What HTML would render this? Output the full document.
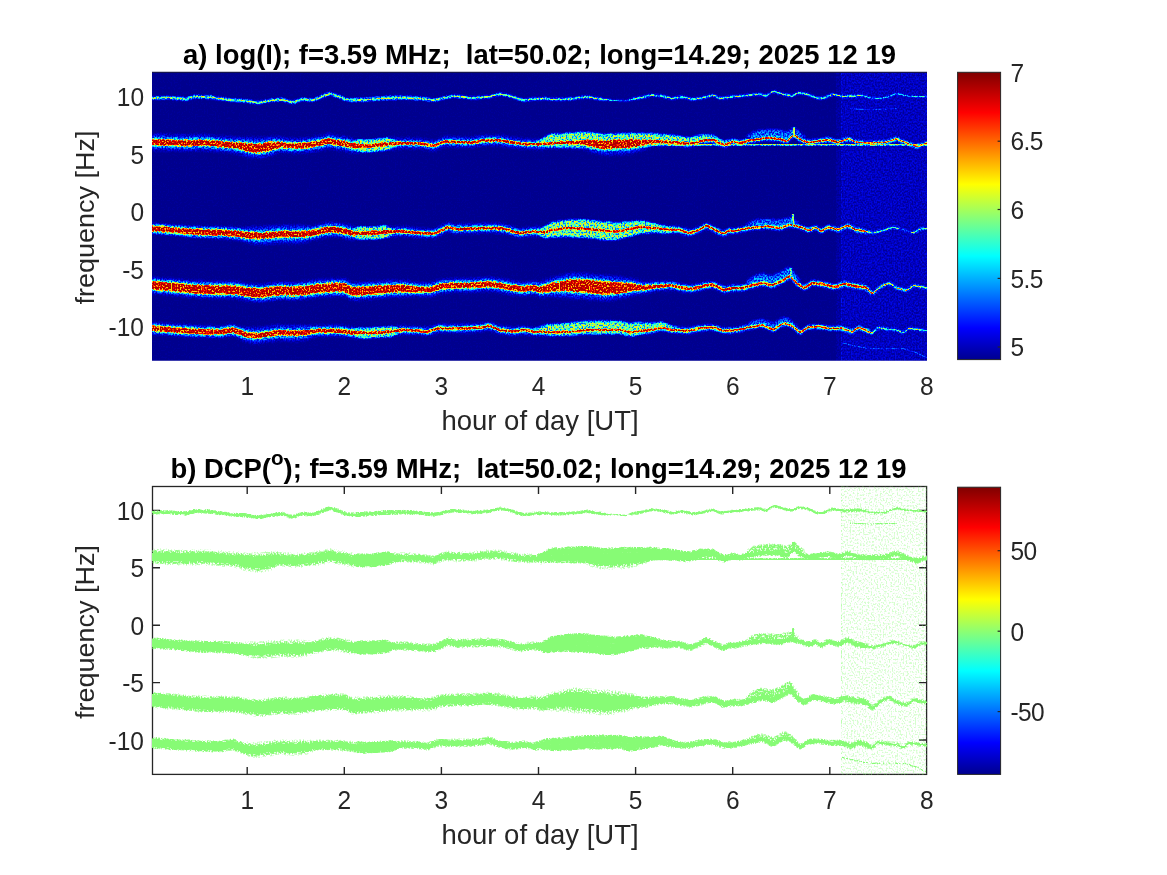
<!DOCTYPE html><html><head><meta charset="utf-8"><title>Doppler spectrogram</title>
<style>html,body{margin:0;padding:0;background:#fff;overflow:hidden}svg{display:block}text{font-family:"Liberation Sans",Arial,sans-serif}</style></head><body>
<svg width="1167" height="875" viewBox="0 0 1167 875">
<defs><linearGradient id="jet" x1="0" y1="1" x2="0" y2="0">
<stop offset="0" stop-color="#00008f"/>
<stop offset="0.11" stop-color="#0000ff"/>
<stop offset="0.36" stop-color="#00ffff"/>
<stop offset="0.61" stop-color="#ffff00"/>
<stop offset="0.86" stop-color="#ff0000"/>
<stop offset="1" stop-color="#800000"/>
</linearGradient></defs>
<rect width="1167" height="875" fill="#fff"/>
<rect x="152" y="72" width="775" height="288.5" fill="#00009a"/>
<defs>
<clipPath id="c1"><rect x="152" y="72" width="775" height="288.5"/></clipPath>
<filter id="ba" color-interpolation-filters="sRGB"><feGaussianBlur stdDeviation="1.5"/></filter>
<filter id="bb" color-interpolation-filters="sRGB"><feGaussianBlur stdDeviation="1.0"/></filter>
<filter id="bc" color-interpolation-filters="sRGB"><feGaussianBlur stdDeviation="0.65"/></filter>
<filter id="bd" color-interpolation-filters="sRGB"><feGaussianBlur stdDeviation="0.6"/></filter>
<filter id="jetf" filterUnits="userSpaceOnUse" x="152" y="72" width="775" height="288.5" color-interpolation-filters="sRGB"><feTurbulence type="fractalNoise" baseFrequency="0.66 0.56" numOctaves="1" seed="11" result="t"/><feColorMatrix in="t" type="matrix" values="3.4 0 0 0 -1.2  3.4 0 0 0 -1.2  3.4 0 0 0 -1.2  0 0 0 0 1" result="n"/><feComposite in="SourceGraphic" in2="n" operator="arithmetic" k1="1.15" k2="0.42500000000000004" k3="0.006" k4="-0.003" result="i"/><feComponentTransfer in="i"><feFuncR type="table" tableValues="0 0 0 0 0 0 0.025 0.215 0.391 0.553 0.703 0.841 0.968 1 1 1 1 1 1 1 1 1 1 1 1 1 1 0.961 0.926 0.893 0.863 0.835 0.809 0.785 0.763 0.743 0.725 0.707 0.691 0.677 0.663"/><feFuncG type="table" tableValues="0 0 0.091 0.353 0.595 0.819 1 1 1 1 1 1 1 0.914 0.805 0.705 0.612 0.527 0.448 0.375 0.308 0.245 0.188 0.135 0.086 0.041 0 0 0 0 0 0 0 0 0 0 0 0 0 0 0"/><feFuncB type="table" tableValues="0.56 0.808 1 1 1 1 0.975 0.785 0.609 0.447 0.297 0.159 0.032 0 0 0 0 0 0 0 0 0 0 0 0 0 0 0 0 0 0 0 0 0 0 0 0 0 0 0 0"/><feFuncA type="linear" slope="0" intercept="1"/></feComponentTransfer></filter>
<filter id="dcpf" filterUnits="userSpaceOnUse" x="152" y="72" width="775" height="288.5" color-interpolation-filters="sRGB"><feTurbulence type="fractalNoise" baseFrequency="0.66 0.56" numOctaves="1" seed="23" result="t"/><feColorMatrix in="t" type="matrix" values="3.4 0 0 0 -1.2  3.4 0 0 0 -1.2  3.4 0 0 0 -1.2  0 0 0 0 1" result="n"/><feComposite in="SourceGraphic" in2="n" operator="arithmetic" k1="1.15" k2="0.42500000000000004" k3="0.006" k4="-0.003" result="i"/><feColorMatrix in="i" type="matrix" values="0 0 0 0 .53  0 0 0 0 .985  0 0 0 0 .46  1 0 0 0 0" result="j"/><feComponentTransfer in="j"><feFuncA type="table" tableValues=".00 .00 .00 .00 .00 .11 .24 .35 .45 .54 .63 .72 .80 .87 .95 1.00 1.00 1.00 1.00 1.00 1.00 1.00 1.00 1.00 1.00 1.00 1.00 1.00 1.00 1.00 1.00 1.00 1.00 1.00 1.00 1.00 1.00 1.00 1.00 1.00 1.00 1.00 1.00 1.00 1.00 1.00 1.00 1.00 1.00 1.00 1.00 1.00 1.00 1.00 1.00 1.00 1.00 1.00 1.00 1.00 1.00 1.00 1.00 1.00 1.00 1.00 1.00 1.00 1.00 1.00 1.00 1.00 1.00 1.00 1.00 1.00 1.00 1.00 1.00 1.00 1.00 1.00 1.00 1.00 1.00 1.00 1.00 1.00 1.00 1.00 1.00 1.00 1.00 1.00 1.00 1.00 1.00 1.00 1.00 1.00 1.00 1.00 1.00 1.00 1.00 1.00 1.00 1.00 1.00 1.00 1.00 1.00 1.00 1.00 1.00 1.00 1.00 1.00 1.00 1.00 1.00 1.00 1.00 1.00 1.00 1.00 1.00 1.00 1.00 1.00 1.00 1.00 1.00 1.00 1.00 1.00 1.00 1.00 1.00 1.00 1.00 1.00 1.00 1.00 1.00 1.00 1.00 1.00 1.00 1.00 1.00 1.00 1.00 1.00 1.00 1.00 1.00 1.00 1.00 1.00 1.00 1.00 1.00 1.00 1.00 1.00 1.00 1.00 1.00 1.00 1.00 1.00 1.00 1.00 1.00 1.00 1.00 1.00 1.00 1.00 1.00 1.00 1.00 1.00 1.00 1.00 1.00 1.00 1.00 1.00 1.00 1.00 1.00 1.00 1.00 1.00 1.00 1.00 1.00 1.00 1.00"/></feComponentTransfer></filter>
<g id="imap">
<rect x="150" y="70" width="780" height="293" fill="#000"/>
<rect x="836" y="70" width="5" height="293" fill="#020202"/><rect x="840.8" y="70" width="90" height="293" fill="#050505"/>
<rect x="840.8" y="70" width="2" height="293" fill="#070707"/>
<path d="M152 134.1L154 134.5L156 134.4L158 134L160 134L162 134.1L164 134.5L166 134.2L168 134.8L170 134.8L172 135.3L174 135.2L176 134.6L178 134.8L180 134.7L182 135.3L184 135.2L186 134.8L188 135.4L190 135L192 135.1L194 135.3L196 134.7L198 135L200 135.1L202 135.3L204 134.8L206 134.7L208 134.7L210 135.6L212 135.9L214 135.9L216 135.9L218 136.4L220 136.2L222 135.9L224 136.7L226 137.1L228 136.9L230 136.7L232 137.1L234 137.2L236 137.3L238 137.5L240 137.2L242 137.7L244 138L246 137.5L248 137.7L250 138.1L252 137.5L254 137.7L256 138.3L258 137.8L260 137.9L262 138.2L264 137.4L266 137.2L268 137.1L270 137.2L272 136.8L274 136.5L276 136.5L278 136.7L280 137.2L282 137.5L284 137.7L286 137.8L288 138.6L290 138.3L292 138.5L294 139.1L296 138.7L298 138.4L300 138.7L302 138.9L304 137.9L306 138.1L308 137.9L310 137.7L312 137.7L314 136.7L316 136.3L318 136.3L320 135.8L322 135.8L324 135.3L326 134.7L328 133.6L330 133.9L332 134L334 134.6L336 135.7L338 136L340 136.4L342 136L344 136.3L346 137L348 137.8L350 138.2L352 138.1L354 139.3L356 139.4L358 139.2L360 139.6L362 140.3L364 139.8L366 140.1L368 139.6L370 140.3L372 139.3L374 139.9L376 139L378 138.6L380 139.2L382 138.5L384 138.1L386 138.3L388 137.6L390 137.7L392 137.8L394 137.7L396 138L398 138.3L400 138.3L402 138.2L404 138.2L406 138.2L408 137.8L410 138L412 138.7L414 138.3L416 138.6L418 138.2L420 138.4L422 139.2L424 139.3L426 139.9L428 139.9L430 140.1L432 140.4L434 140.7L436 140.2L438 139.6L440 138.4L442 137.9L444 136.3L446 136.1L448 136.2L450 137L452 136.5L454 137.1L456 137.4L458 136.8L460 137.1L462 137.7L464 137L466 137.4L468 137.2L470 137.8L472 137.7L474 136.8L476 137L478 136L480 136.3L482 135.3L484 135.1L486 135.3L488 135.4L490 135.8L492 135.1L494 135.4L496 134.9L498 135.5L500 135L502 135.9L504 135.8L506 136.1L508 136.9L510 137.4L512 137.4L514 137.9L516 137.7L518 137.9L520 138.4L522 139.1L524 139L526 138.9L528 138.9L530 139.4L532 138.9L534 139.7L536 139.6L538 139.3L540 139.3L542 139.4L544 138.9L546 139L548 138.5L550 137.9L552 137.7L554 137.9L556 137.6L558 138.4L560 137.7L562 137.5L564 137.2L566 137.1L568 137.6L570 136.6L572 136.5L574 136L576 136.3L578 135.8L580 135.4L582 135.3L584 134.8L586 134.5L588 134.6L590 134.6L592 134.4L594 133.9L596 134.3L598 134.3L600 133.9L602 135L604 135L606 134.3L608 134.5L610 134.7L612 134.3L614 134.3L616 133.7L618 133.5L620 133.3L622 133.6L624 133.6L626 133.3L628 133.5L630 133.1L632 133.6L634 134.1L636 133.8L638 134.9L640 135.2L642 135.2L644 135.5L646 136.1L648 136.2L650 136L652 136.6L654 136.4L656 136.1L658 137L660 137.3L662 137.4L664 137.6L666 138.3L668 138.5L670 137.7L672 138.6L674 138.5L676 138.5L678 138.7L680 138.9L682 139.9L684 140L686 140.3L688 139.9L690 140.1L692 139.1L694 139.1L696 138.3L698 138L700 137.3L702 137.6L704 137.5L706 137.3L708 136.6L710 137.1L712 136.4L714 136.7L716 137.5L718 138.8L720 139.8L722 141.1L724 141.5L726 141.5L728 140.8L730 140.7L732 138.7L734 139.2L736 139.6L738 139.6L740 140.7L742 139.9L744 139.2L746 139.3L748 138.4L750 137.9L752 137.2L754 137L756 137L758 137.2L760 136.5L762 135.9L764 135.8L766 135.4L768 135.8L770 136.1L772 135.9L774 136L776 135.8L778 136.8L780 136.5L782 137.6L784 137.8L786 138.6L788 138.3L790 136.3L792 133.4L794 132.8L796 134L798 135.3L800 137.2L802 138.4L804 138.2L806 139.4L808 140.3L810 139.8L812 139.5L814 138.9L816 138.9L818 139.1L820 138.3L822 138.5L824 137.6L826 137.7L828 137.2L830 137.9L832 138.1L834 139.3L836 139.7L838 139.6L840 139.9L842 138.8L844 138.5L846 137.8L848 137.4L850 137.4L852 138.4L854 139.7L856 140.4L858 140.3L860 141L862 141L864 140.6L866 140.8L868 141.2L870 141L872 141.3L874 140.7L876 140.7L878 140.5L880 140.3L882 141.1L884 140.8L886 140.9L888 139.5L890 139.4L892 138.7L894 137.7L896 136.9L898 137.4L900 138.9L902 139.8L904 140L906 141.3L908 141.2L910 142.2L912 142.7L914 144.1L916 144.3L918 144.7L920 143.2L922 143.4L924 142.5L926 141.3L927 141.8L927 145.1L926 144.9L924 146.3L922 146.3L920 146.9L918 147.6L916 148.3L914 146.9L912 146.5L910 146.4L908 145.3L906 144.5L904 144.1L902 142.7L900 141.7L898 141.1L896 140.3L894 141.3L892 142L890 142.4L888 143.9L886 143.9L884 144.7L882 144.7L880 144.3L878 144.1L876 145.1L874 144.6L872 145.3L870 144.8L868 144.5L866 145.1L864 144.8L862 144.1L860 144L858 143.7L856 144L854 142.8L852 142.1L850 140.9L848 141.3L846 141.3L844 142.4L842 142.6L840 144.1L838 144.3L836 144L834 143.7L832 143L830 142.1L828 141.8L826 142.5L824 142.3L822 143.2L820 143.1L818 143.5L816 144.3L814 144.4L812 144.3L810 144.7L808 144.8L806 144.3L804 143L802 142.3L800 142L798 140.6L796 138.1L794 137.1L792 138.8L790 140.1L788 143L786 143.4L784 142.5L782 141.7L780 141.3L778 140.7L776 140.7L774 140.7L772 140.7L770 140.5L768 140.9L766 140.2L764 140.3L762 140.6L760 141L758 142.2L756 141.7L754 142.8L752 142.3L750 142.9L748 143.3L746 143.9L744 145L742 145.3L740 145.4L738 145L736 145.2L734 144.6L732 143.9L730 146.2L728 147.1L726 147.5L724 148.2L722 146.9L720 146L718 145.7L716 144.7L714 142.9L712 143L710 143.4L708 143.4L706 143.5L704 144.1L702 143.8L700 145L698 145.6L696 145.7L694 146.2L692 146.9L690 147L688 148L686 147.6L684 147.3L682 146.7L680 146.9L678 146.8L676 147L674 146.2L672 146.7L670 146.2L668 146.6L666 145.8L664 145.7L662 146.1L660 146L658 146.5L656 146.2L654 146.1L652 146.8L650 147.1L648 147.7L646 148.9L644 149.7L642 150.1L640 151.3L638 151.3L636 151.9L634 152.5L632 152.9L630 154L628 154.3L626 153.6L624 154.3L622 154.4L620 154.6L618 154.2L616 154L614 154.7L612 155L610 155L608 155L606 154.8L604 155.1L602 154.7L600 154.6L598 154.1L596 153.3L594 152.7L592 152.5L590 151.5L588 150.6L586 149.5L584 148.9L582 148.9L580 148.6L578 148.7L576 148.6L574 148.4L572 148.3L570 148.8L568 148.2L566 148.6L564 148L562 147.9L560 147.6L558 148.1L556 148.3L554 147.7L552 148.3L550 147.9L548 148.3L546 148.8L544 149.2L542 149.6L540 149.3L538 149.6L536 149.1L534 148.7L532 149.1L530 149.1L528 148.5L526 148.5L524 148.6L522 148.5L520 148.3L518 148L516 147.7L514 147.5L512 147.1L510 147.7L508 146.7L506 146.8L504 146.4L502 146L500 145.7L498 145.1L496 144.8L494 145.5L492 145.7L490 145.1L488 145.8L486 145.1L484 145.7L482 145.3L480 146.4L478 146.8L476 146.8L474 147L472 147.5L470 147L468 147.2L466 147.2L464 147.2L462 147.5L460 147.1L458 147.5L456 147.4L454 146.5L452 146.9L450 147L448 146.7L446 146.2L444 146.5L442 147.1L440 148.7L438 148.8L436 150.3L434 151L432 150.3L430 150.2L428 149.7L426 149.3L424 149.4L422 148.8L420 148.3L418 148.6L416 148.7L414 148.4L412 148.4L410 148.2L408 148.5L406 147.8L404 147.6L402 148.2L400 148.7L398 148.9L396 148.8L394 149.5L392 149.3L390 149.7L388 149.7L386 149.8L384 150.7L382 151L380 150.9L378 150.5L376 151.3L374 151.7L372 152.1L370 152.3L368 151.7L366 151.7L364 152.4L362 151.8L360 152.2L358 152.4L356 152.4L354 152.9L352 153L350 152.6L348 151.7L346 151.6L344 150.6L342 150.3L340 150.1L338 150.4L336 149.5L334 149.3L332 148.5L330 147.9L328 148.2L326 148.9L324 149.5L322 150.2L320 150L318 150.9L316 151.2L314 151.1L312 151.8L310 152.4L308 151.7L306 152.1L304 153.1L302 152.5L300 152.9L298 152.7L296 153.1L294 153.5L292 152.6L290 152.7L288 152.4L286 153L284 152.3L282 151.9L280 152L278 152.6L276 153.2L274 154.5L272 155L270 156.1L268 156.8L266 156.4L264 157.3L262 157.7L260 157.9L258 158.1L256 157.7L254 157.8L252 157.4L250 157.1L248 157.4L246 156.3L244 156.1L242 155.5L240 154.5L238 154.3L236 153.1L234 153.3L232 152.5L230 152.6L228 152.6L226 152L224 152.6L222 152.1L220 151.8L218 152L216 151.3L214 151.3L212 150.9L210 151L208 150.9L206 150.6L204 150.7L202 150.1L200 150.3L198 151L196 150.7L194 150.9L192 150.6L190 150.9L188 150.9L186 150.7L184 150.5L182 150.7L180 150.9L178 151.1L176 150.3L174 150.4L172 150.1L170 150.4L168 151L166 150.2L164 150.8L162 150L160 150.3L158 150.3L156 150.2L154 149.8L152 149.9ZM152 223.3L154 223.5L156 223.3L158 224.3L160 224.5L162 223.9L164 224.7L166 224.3L168 224.4L170 225.1L172 225.1L174 225.3L176 225.3L178 225.2L180 225.8L182 225.4L184 225.6L186 225.6L188 226L190 226.6L192 226.1L194 226L196 226.7L198 226.3L200 226.7L202 226.9L204 226.9L206 227L208 226.8L210 226.9L212 226.5L214 226.4L216 226.8L218 226.6L220 226.7L222 227.1L224 227.3L226 226.9L228 227.3L230 226.6L232 226.8L234 227.7L236 227.7L238 227.8L240 227.5L242 228.2L244 227.8L246 227.4L248 227.4L250 227.2L252 227.3L254 226.4L256 226.9L258 226.6L260 227.2L262 226.4L264 226.6L266 226.7L268 226L270 226.1L272 225.9L274 225.7L276 225.6L278 225.9L280 225.2L282 225.4L284 224.8L286 225.2L288 225.3L290 225.4L292 225L294 225.6L296 225L298 225.3L300 225L302 225.6L304 225.4L306 226.3L308 225.7L310 226.4L312 225.9L314 226L316 225.6L318 225.1L320 224.5L322 223.7L324 223.6L326 222.5L328 222.6L330 222.2L332 222.8L334 222.1L336 222.8L338 223.1L340 223.2L342 223.7L344 223.9L346 224.3L348 224.9L350 225L352 226.3L354 226.9L356 227L358 227.3L360 227L362 227L364 227.4L366 227.5L368 227.6L370 227.3L372 227.2L374 227.5L376 227.2L378 227L380 226.3L382 226.5L384 226.7L386 226.6L388 226L390 226.9L392 227.2L394 227.2L396 227L398 226.6L400 226.9L402 226.3L404 226.5L406 227.2L408 226.9L410 227L412 227.7L414 228.2L416 228.1L418 227.8L420 228.5L422 228.8L424 229.1L426 228.5L428 228.7L430 229.1L432 229.2L434 229.1L436 228.3L438 227.1L440 225.9L442 225.6L444 224.5L446 223.1L448 222.6L450 222.6L452 223.3L454 224L456 224.6L458 224.5L460 223.9L462 224L464 223.7L466 224.4L468 223.9L470 223.4L472 223.9L474 223.9L476 224.2L478 223.4L480 223.1L482 223.4L484 223L486 222.9L488 223.8L490 223.1L492 223.4L494 223.8L496 223.4L498 223.2L500 224L502 223.3L504 224.4L506 225L508 225L510 225.6L512 226.3L514 227.2L516 227.7L518 228L520 228.7L522 228L524 228.4L526 228.1L528 227.2L530 227.4L532 227.2L534 227.2L536 226.6L538 227.1L540 227.3L542 227.2L544 227.5L546 227.2L548 226.5L550 225.3L552 224.3L554 224.2L556 224L558 224L560 223.5L562 224L564 223.8L566 222.9L568 223L570 223.4L572 222.8L574 223.7L576 223L578 223.1L580 223.9L582 223.8L584 223.9L586 223.5L588 224.3L590 224.1L592 224L594 224.5L596 224.7L598 225.5L600 225.6L602 225L604 225.6L606 225.6L608 225.9L610 226.4L612 226.5L614 225.8L616 226.7L618 225.8L620 225.9L622 225.2L624 225L626 224.6L628 224.2L630 224.3L632 223.3L634 223L636 223.2L638 223L640 222.6L642 223.1L644 223.4L646 223L648 224L650 223.7L652 223.7L654 224.2L656 224.7L658 224.6L660 224.8L662 225.7L664 225.5L666 226.3L668 225.7L670 226.5L672 225.8L674 226.4L676 225.8L678 226L680 226.7L682 227.2L684 228.5L686 228.3L688 229L690 230L692 229.2L694 228.1L696 227.4L698 227L700 225.9L702 225L704 223.8L706 222.1L708 223.1L710 224.6L712 225.3L714 226.2L716 227.5L718 228.6L720 229.7L722 230.5L724 230.6L726 229.3L728 228.9L730 227.7L732 228.6L734 228.4L736 228.1L738 227.2L740 227.5L742 226.8L744 226L746 225.8L748 226.2L750 225.1L752 225.4L754 225.2L756 225.3L758 224.7L760 224.3L762 224.3L764 223.8L766 223.9L768 224L770 224L772 224.6L774 224.8L776 225L778 225.9L780 225.4L782 225L784 224L786 224L788 223L790 222.1L792 222.6L794 223.6L796 223.7L798 224.3L800 225.1L802 225.8L804 226.2L806 227L808 227.4L810 227.7L812 226.7L814 225.8L816 225.1L818 227L820 227.8L822 229.1L824 227.1L826 226.3L828 224.5L830 225.6L832 225.6L834 226.2L836 226.8L838 227.9L840 226.5L842 226.1L844 225.3L846 224.6L848 223.2L850 224.2L852 225.4L854 226.7L856 227.4L858 228L860 228.3L862 228.7L864 229.2L866 229.2L868 230.7L870 231.5L872 231.8L874 232L876 231.3L878 230.4L880 230.3L882 229.6L884 229.1L886 228.7L888 228L890 227L892 226.4L894 226.4L896 226.6L898 227.3L900 228.2L902 229L904 229.4L906 230.1L908 230.7L910 231.1L912 231.5L914 232L916 230.4L918 229.7L920 227.9L922 227.5L924 228.1L926 228L927 228.1L927 229.9L926 230L924 229.9L922 229.6L920 230L918 231.5L916 232.8L914 234.1L912 233.7L910 232.7L908 232.2L906 231.7L904 230.7L902 230.1L900 229.6L898 229.4L896 228.8L894 228.6L892 228.5L890 229.4L888 230L886 230.2L884 231.2L882 232.2L880 232.6L878 232.9L876 233.4L874 233.5L872 234L870 233.9L868 233.4L866 233.7L864 233.5L862 233L860 232.3L858 231.9L856 231.6L854 230.8L852 230.1L850 228.7L848 228L846 229L844 229.9L842 230.6L840 231.6L838 232.1L836 231L834 231.1L832 230L830 229.6L828 229.8L826 230.1L824 232.2L822 233.4L820 233L818 231.4L816 229.2L814 230.5L812 231.3L810 232.1L808 232.6L806 231.2L804 230.5L802 229.7L800 229.1L798 228.4L796 228L794 228.1L792 227.4L790 227.4L788 227.6L786 228.4L784 229.2L782 229.3L780 230.6L778 230L776 230L774 229.3L772 229.5L770 228.9L768 228.7L766 228.1L764 229.3L762 229.3L760 229.4L758 229.9L756 229.6L754 230L752 230.3L750 230.4L748 230.7L746 231.4L744 231.6L742 232.5L740 232.4L738 233.1L736 233.8L734 233.7L732 234.2L730 232.9L728 234.5L726 235.3L724 236.7L722 236.2L720 235.4L718 234.5L716 233.7L714 232.1L712 231.6L710 230.3L708 229.6L706 228.8L704 229.9L702 231.1L700 232.7L698 233.1L696 234L694 235.1L692 235.5L690 236.5L688 236L686 235.9L684 235.1L682 233.9L680 233.2L678 233L676 232.9L674 233.6L672 233.1L670 233L668 233.3L666 233.4L664 233.1L662 233.1L660 232.9L658 232.1L656 232.1L654 232L652 231.6L650 231.9L648 231.6L646 231.4L644 231.2L642 231.3L640 231.9L638 232.3L636 233.2L634 233.6L632 233.7L630 234L628 234L626 235.2L624 235.4L622 235.5L620 236.1L618 236.2L616 236.8L614 235.9L612 235.7L610 235.5L608 235.5L606 235.9L604 235.8L602 235.3L600 235.3L598 235L596 234.6L594 234.8L592 234.1L590 234.1L588 233.7L586 233.4L584 233.5L582 233.9L580 233.8L578 232.9L576 233L574 233.6L572 233.5L570 233.4L568 233.4L566 233.3L564 233.7L562 233.8L560 233.4L558 233.7L556 234.7L554 234L552 235.1L550 235.6L548 236L546 237.2L544 237.3L542 237.1L540 237.1L538 236.6L536 236.7L534 236L532 236.1L530 237L528 236.5L526 236.6L524 237L522 237.7L520 237.8L518 237.3L516 236.6L514 236.7L512 236L510 234.8L508 234.3L506 234L504 233.5L502 233.5L500 233.3L498 233.4L496 232.7L494 232.5L492 232.9L490 232.8L488 232.3L486 232.8L484 233.1L482 232.6L480 233L478 233.4L476 233.3L474 233.1L472 233L470 233.4L468 233.1L466 233.7L464 233.6L462 233.2L460 234.1L458 233.7L456 233.5L454 233.7L452 232.9L450 232.3L448 231.3L446 232.5L444 234.2L442 234.7L440 235.4L438 236.1L436 237.7L434 238.8L432 238L430 237.7L428 237.8L426 238.3L424 238L422 237.6L420 237.7L418 238L416 237.7L414 237.2L412 236.8L410 236.8L408 236.8L406 236.8L404 236.6L402 235.8L400 236L398 236L396 236.7L394 236.1L392 236.5L390 236.7L388 237.2L386 238.1L384 237.5L382 238.5L380 238.6L378 238.6L376 238.9L374 238.2L372 238.6L370 238.4L368 239.2L366 238.5L364 238.5L362 238.9L360 238.8L358 238.5L356 238.9L354 239.9L352 239.7L350 239.9L348 239.1L346 238.8L344 238.3L342 237.6L340 237.5L338 236.7L336 236.4L334 236.9L332 237.3L330 236.6L328 236.7L326 237L324 237.2L322 238.4L320 238.3L318 238.7L316 239.6L314 239.7L312 239.7L310 241.3L308 241L306 242.4L304 242.3L302 243L300 242.7L298 243L296 243.2L294 243.5L292 243.2L290 242.7L288 243.4L286 243.2L284 243.3L282 242.5L280 242.7L278 243.6L276 243.2L274 243.5L272 244.1L270 243.6L268 244.2L266 243.7L264 244.4L262 244.1L260 244.5L258 244.1L256 244.1L254 244L252 243.5L250 243.5L248 242.7L246 242.2L244 241.8L242 240.6L240 240.6L238 239.9L236 239.7L234 239.7L232 239.2L230 239.1L228 239.6L226 239.3L224 238.4L222 238.8L220 238.3L218 238.9L216 238.2L214 238.7L212 237.9L210 237.8L208 237.9L206 237.7L204 237.5L202 238.1L200 237.8L198 237.4L196 237.3L194 237.2L192 236.7L190 237.5L188 237.4L186 236.8L184 236.1L182 236.5L180 235.6L178 235.7L176 235.4L174 235.7L172 235.4L170 234.6L168 234.8L166 234.4L164 234.9L162 234.2L160 233.6L158 234.1L156 234L154 233.4L152 233.7ZM152 277.5L154 277.8L156 277.9L158 278L160 278.3L162 277.9L164 278.6L166 278.6L168 278.9L170 278.8L172 278.8L174 279L176 279.5L178 279.1L180 279.3L182 280.2L184 280.5L186 279.8L188 280.5L190 281L192 280.6L194 280.9L196 280.6L198 280.6L200 280.8L202 280.9L204 281L206 281.6L208 281.6L210 280.9L212 281.6L214 281.6L216 281.4L218 281.3L220 281L222 281.5L224 280.9L226 281.7L228 281.3L230 281.2L232 281.5L234 281.5L236 281.6L238 281.4L240 282L242 282.7L244 282.8L246 283.8L248 283.8L250 283.4L252 284.2L254 283.9L256 284.7L258 284.4L260 284.4L262 284.4L264 284.3L266 284.1L268 283L270 283.1L272 283.1L274 282.2L276 282.8L278 282.4L280 282.5L282 282.1L284 281.9L286 282.3L288 282.1L290 283L292 282.8L294 282.6L296 282.2L298 282.6L300 281.7L302 282.2L304 281.8L306 281.9L308 281.3L310 280.7L312 280.4L314 280.3L316 280.1L318 279.6L320 280.3L322 279.3L324 279.8L326 279.4L328 279.2L330 278.5L332 279.2L334 278.7L336 278.7L338 278.9L340 279L342 278.6L344 278.7L346 279L348 280.5L350 281.5L352 283L354 282.6L356 282.1L358 282.1L360 282.4L362 282.4L364 282.1L366 282.5L368 281.7L370 281.6L372 282.2L374 281.9L376 281.8L378 281.5L380 280.8L382 281.3L384 281.1L386 280.9L388 280.3L390 280.4L392 280.6L394 280.3L396 280.7L398 280.7L400 279.9L402 280.2L404 280.9L406 280.5L408 280.7L410 281.7L412 281.6L414 282.3L416 282.4L418 282.2L420 283L422 282.5L424 282.6L426 282.5L428 283.2L430 282.5L432 282.2L434 281.4L436 280.7L438 280.6L440 279.7L442 279.1L444 279.1L446 279.6L448 278.6L450 279.2L452 278.9L454 279.1L456 278.8L458 278.2L460 278.9L462 278.2L464 278.9L466 278.6L468 278.2L470 278.7L472 278.1L474 278.5L476 278L478 278.2L480 278.2L482 277.4L484 277.8L486 277.6L488 277.6L490 277.6L492 277.5L494 278.2L496 278.5L498 278L500 278.5L502 278.9L504 278.9L506 279.7L508 279.8L510 280.8L512 280.7L514 281.1L516 281L518 282.1L520 281.9L522 282.2L524 282.7L526 281.7L528 281.5L530 281.1L532 281.5L534 280.7L536 281.6L538 281.9L540 282.3L542 280.9L544 280.6L546 279.7L548 279L550 278.5L552 277.3L554 277.3L556 276.9L558 276L560 276L562 275L564 275L566 274L568 273.7L570 273.8L572 273.6L574 272.7L576 273.6L578 272.9L580 273.4L582 273.4L584 273.4L586 273.1L588 274.3L590 274.4L592 274.5L594 274.8L596 274.7L598 275L600 275L602 275.3L604 275.3L606 275.8L608 275.1L610 275.3L612 276.4L614 276L616 276.6L618 276.5L620 277L622 277.2L624 277.1L626 278.1L628 278.2L630 278.2L632 278.8L634 279.3L636 279.6L638 280.1L640 281L642 281.2L644 282.4L646 282.1L648 281.7L650 281.5L652 281.3L654 281.8L656 281L658 281.5L660 281.2L662 282L664 281.1L666 281.2L668 281.4L670 281.6L672 281.4L674 282L676 282.5L678 283.2L680 283.7L682 284.1L684 284.1L686 284.3L688 284.8L690 284.8L692 284.8L694 284.8L696 284L698 283.5L700 283.4L702 282.7L704 281.9L706 281.4L708 281.6L710 281.7L712 281.4L714 281.9L716 282.3L718 283L720 284.5L722 285.9L724 286.2L726 285.9L728 285.9L730 285.3L732 284.5L734 284.8L736 284.3L738 284.6L740 284.9L742 285.3L744 284.4L746 284.5L748 283.6L750 282.7L752 283.1L754 282.2L756 282.1L758 281.6L760 281.2L762 280L764 280.4L766 280.7L768 281.8L770 282.1L772 282.6L774 281.6L776 280.6L778 279.5L780 279.6L782 278.2L784 276.9L786 275.5L788 274.6L790 273.5L792 274.8L794 277.7L796 279.3L798 281.6L800 282.9L802 283.6L804 285.5L806 284.3L808 282.5L810 281.3L812 280.6L814 280.3L816 280.2L818 281L820 281.2L822 281.3L824 282.2L826 282L828 283.1L830 283.3L832 283.7L834 284L836 284.3L838 283.2L840 282.7L842 281.8L844 281.3L846 281.7L848 281.8L850 282.3L852 282.7L854 282.9L856 283.5L858 283.5L860 283.7L862 284.3L864 284L866 284.5L868 287.5L870 289.3L872 291.9L874 291L876 289.2L878 287.2L880 285.7L882 284.3L884 283.8L886 283.2L888 281.9L890 281.7L892 283.5L894 284.6L896 285.9L898 286.8L900 287.5L902 287.8L904 288.1L906 288.8L908 287.9L910 286.6L912 285.1L914 283.9L916 284.2L918 284.7L920 285.7L922 286.1L924 285.8L926 286.1L927 286.8L927 289.2L926 289.4L924 288.6L922 288.7L920 288.3L918 287.5L916 287.4L914 286.6L912 287.6L910 289.5L908 291.1L906 291.9L904 291.6L902 290.4L900 290.1L898 289.9L896 289.3L894 287.6L892 285.7L890 284.3L888 284.7L886 285.9L884 286.4L882 287L880 288.5L878 291L876 292.8L874 294.4L872 294.9L870 293.8L868 291.4L866 289.7L864 289.8L862 289.3L860 288.8L858 288.9L856 288.7L854 288.9L852 287.6L850 287.5L848 286.7L846 286.4L844 286.4L842 287.1L840 288.4L838 289.1L836 289.1L834 289.5L832 289.5L830 289.1L828 287.9L826 288L824 287.5L822 286.4L820 286.7L818 286.8L816 286.4L814 285.6L812 285.7L810 287.5L808 288L806 289.3L804 290.5L802 289L800 288.5L798 287.3L796 284.8L794 282.5L792 280.3L790 278.8L788 280.5L786 281.3L784 282.4L782 283.2L780 284.8L778 285.3L776 286.5L774 287.4L772 287.5L770 288.2L768 287.2L766 286.2L764 285.9L762 285.6L760 286.2L758 287.3L756 287.6L754 287.5L752 288.8L750 288.8L748 289.9L746 289.9L744 290.8L742 291.1L740 291.5L738 291.3L736 291.1L734 291.3L732 291.8L730 292.3L728 292.4L726 292.8L724 293.6L722 292.8L720 291.5L718 290.1L716 290L714 288.3L712 288.7L710 288.4L708 288.5L706 289.3L704 289.5L702 290.2L700 291.1L698 291.1L696 291.9L694 292.2L692 292.7L690 292.5L688 292.8L686 292.2L684 292.6L682 292.1L680 291L678 290.7L676 290.8L674 290.1L672 289.9L670 289.8L668 290.2L666 290.2L664 290L662 290.5L660 290.1L658 290.9L656 290.9L654 291.3L652 291.4L650 292.7L648 293.4L646 293.4L644 293.5L642 293.7L640 294.2L638 294.5L636 294.5L634 295.1L632 295.8L630 296.5L628 297.1L626 297.6L624 298L622 298.1L620 298.7L618 298.7L616 299.1L614 299.7L612 300L610 300.4L608 300.8L606 300.4L604 300.6L602 300.2L600 300.7L598 299.9L596 299.7L594 299.2L592 299.9L590 299.4L588 299.4L586 298.5L584 298.8L582 298.3L580 298.5L578 298.4L576 298.8L574 298.2L572 298.2L570 297.9L568 297.7L566 297L564 297L562 297.5L560 297.1L558 296.9L556 297.3L554 296.4L552 296.7L550 297.1L548 296.5L546 296.7L544 297.2L542 296.9L540 297.4L538 296L536 295.6L534 295L532 294.7L530 294.9L528 295.8L526 295.3L524 295.7L522 295.4L520 295.7L518 295.4L516 295.6L514 295.2L512 294.9L510 294.6L508 294.1L506 293.5L504 293.2L502 292.9L500 292.1L498 292.4L496 291.6L494 291.5L492 290.8L490 291.4L488 290.8L486 290.7L484 291.2L482 291L480 291.7L478 292L476 291.7L474 292.1L472 291.9L470 292L468 292.6L466 291.9L464 292L462 292.2L460 292.3L458 291.8L456 292.1L454 291.8L452 292.3L450 292.1L448 292.5L446 293.3L444 293.4L442 292.8L440 293.3L438 293.9L436 295.2L434 296L432 296.6L430 296.6L428 296.4L426 296.3L424 296.5L422 296.9L420 296.6L418 296.1L416 296.2L414 296.5L412 296.4L410 296.6L408 296.9L406 296.5L404 296.9L402 297.1L400 297.3L398 296.7L396 296.6L394 296.8L392 297L390 297L388 297.3L386 297.9L384 297.6L382 298.4L380 297.8L378 298.8L376 298.7L374 298.3L372 299.3L370 298.9L368 298.8L366 299.8L364 299.1L362 299.5L360 300.2L358 299.9L356 300.4L354 300L352 299.8L350 299.6L348 298.4L346 296.5L344 296.3L342 295.9L340 296.6L338 296.2L336 295.9L334 295.9L332 296.3L330 296.9L328 296.1L326 296.6L324 296.6L322 297.2L320 297.1L318 297L316 297.6L314 297.9L312 298.3L310 298.1L308 298.8L306 298.9L304 299.5L302 299L300 299.7L298 299.6L296 300L294 299.6L292 300.2L290 299.6L288 299.9L286 299.8L284 298.9L282 299.6L280 299.7L278 299.3L276 300L274 300.2L272 300.4L270 300.4L268 300.4L266 300.8L264 301.7L262 301.8L260 302L258 301.3L256 301.7L254 301.3L252 301.4L250 301.4L248 300.6L246 300.7L244 300.3L242 299.5L240 299.3L238 299.1L236 298.8L234 298.7L232 298.1L230 298.8L228 298.6L226 297.9L224 298.4L222 297.7L220 298.6L218 298.5L216 298.3L214 297.6L212 298.4L210 298.3L208 297.7L206 297.7L204 297.5L202 298.2L200 298.2L198 297.8L196 296.9L194 297L192 296.7L190 296.9L188 297.3L186 296.5L184 296.4L182 296.3L180 295.6L178 295.9L176 296L174 295.3L172 295.1L170 294.7L168 295L166 294.5L164 294.8L162 293.8L160 293.7L158 293.9L156 293.4L154 293.7L152 293.5ZM152 322.4L154 322.8L156 323.1L158 323.1L160 322.7L162 323.5L164 323L166 323.3L168 323.6L170 323.4L172 324.2L174 324.5L176 324.5L178 324.4L180 324.5L182 325.1L184 324.7L186 325.4L188 324.7L190 324.8L192 325L194 325.7L196 325.7L198 325.9L200 325.5L202 326.3L204 326.3L206 326.2L208 326.1L210 325.6L212 326L214 326.5L216 326.4L218 326.4L220 326L222 326.5L224 325.7L226 324.9L228 324.9L230 324.4L232 324.5L234 324.4L236 325.4L238 326.6L240 326.7L242 326.9L244 327.5L246 327.8L248 327.4L250 327.9L252 328.1L254 327.7L256 328L258 327.4L260 327.3L262 327.3L264 326.9L266 326.7L268 326.2L270 326.8L272 325.6L274 326.1L276 324.9L278 324.9L280 325L282 325.5L284 325.3L286 325.4L288 325.2L290 325.1L292 326L294 325.3L296 325.8L298 325L300 325.6L302 324.9L304 325.3L306 325.2L308 325.3L310 325.3L312 325.7L314 326.1L316 325.8L318 325.3L320 325L322 325.4L324 325.5L326 325.3L328 324.9L330 325.3L332 325.5L334 325.7L336 325.6L338 325.1L340 325.3L342 325.4L344 326L346 326.5L348 326.2L350 326.8L352 326.7L354 327.1L356 328L358 328.2L360 328.6L362 328.5L364 328.4L366 328.1L368 328.8L370 328.5L372 328L374 327.6L376 328.1L378 327.4L380 327.6L382 327.5L384 327.5L386 327L388 327.5L390 326.5L392 326.4L394 326.5L396 326.2L398 325.8L400 325.6L402 325.9L404 325.7L406 325.9L408 326.1L410 326.4L412 326.7L414 325.9L416 326.3L418 327L420 326.9L422 327.2L424 327L426 327.1L428 327.3L430 327.1L432 326.5L434 325.8L436 325.1L438 323.7L440 324L442 324.3L444 323.8L446 324.5L448 324.5L450 324.4L452 324.4L454 324L456 324.6L458 324L460 324.6L462 323.9L464 323.8L466 323.9L468 323.9L470 324L472 324.4L474 324.1L476 324.2L478 323.4L480 323.4L482 323.5L484 322.5L486 322.5L488 321.8L490 322.2L492 323.1L494 323.1L496 324.1L498 325.3L500 325.5L502 326.1L504 326.3L506 326.1L508 326.7L510 327.1L512 326.9L514 327.5L516 326.8L518 326.4L520 326.4L522 326.5L524 325.9L526 326.6L528 326.7L530 326.8L532 327.5L534 327.9L536 327.4L538 327.9L540 327.9L542 327.9L544 327.5L546 327.9L548 328.3L550 328.2L552 328.5L554 328.1L556 328.4L558 328.5L560 328L562 328L564 328.3L566 328.4L568 328.3L570 327.3L572 327.6L574 327.2L576 327.1L578 326.5L580 327.1L582 326.3L584 326L586 326.3L588 326L590 326.2L592 326.3L594 326.3L596 326.2L598 326.4L600 326L602 325.8L604 326.5L606 326.5L608 325.9L610 326.3L612 326.3L614 325.7L616 325.7L618 326L620 326.2L622 326.4L624 327.4L626 328L628 328.1L630 328.3L632 328.1L634 328.4L636 328.1L638 327.6L640 327.3L642 327.1L644 327.1L646 326.9L648 326.9L650 326.7L652 326.2L654 325.8L656 324.9L658 324.8L660 324.6L662 324.5L664 324.8L666 324.6L668 325.1L670 326.1L672 327L674 326.4L676 327.1L678 326.6L680 327.4L682 327.7L684 327.5L686 327.8L688 327.4L690 327L692 326.5L694 326.4L696 325.6L698 325.4L700 325.6L702 324.8L704 324.7L706 324.6L708 325L710 324.5L712 324.3L714 324.5L716 325.9L718 326.4L720 326.7L722 327.6L724 327.7L726 328L728 327.8L730 327.3L732 328L734 328.1L736 327.8L738 326.8L740 326.3L742 325.8L744 325.6L746 325.2L748 325.4L750 324.7L752 324.7L754 324.6L756 323.5L758 323.6L760 323.1L762 322.6L764 322.6L766 323.9L768 324.7L770 325.8L772 326.8L774 326.8L776 325.8L778 324.3L780 323.5L782 321.5L784 321.4L786 321.3L788 321.8L790 322.1L792 323.8L794 325.2L796 327.1L798 328.4L800 330.1L802 329.6L804 327.6L806 326.1L808 325L810 324.9L812 325.3L814 324.7L816 324.2L818 324.3L820 324.4L822 325.4L824 325.8L826 325.9L828 326.2L830 325.9L832 325.6L834 326.4L836 326.2L838 325.8L840 326.3L842 326.4L844 326.9L846 327.7L848 328.3L850 328.6L852 329.3L854 328.2L856 327L858 325.5L860 326.2L862 326.7L864 327.8L866 328.1L868 329.5L870 330.8L872 332.2L874 330.5L876 328.5L878 326.1L880 326.5L882 327.4L884 327.6L886 327.9L888 328.3L890 328.4L892 328.7L894 328.8L896 328.9L898 329.6L900 330.6L902 331.5L904 331.4L906 329.9L908 327.6L910 327.7L912 327.8L914 327.8L916 328.5L918 328.5L920 328.9L922 329.3L924 329.4L926 330L927 329.8L927 331.9L926 331.6L924 331.5L922 331L920 330.8L918 330.3L916 330.4L914 330L912 330L910 329.2L908 329.6L906 331.6L904 333.6L902 333.8L900 332.4L898 331.6L896 330.8L894 330.7L892 330.4L890 330.7L888 330.3L886 330.5L884 329.4L882 329.4L880 328.8L878 328.4L876 330.2L874 333L872 334L870 334.5L868 333.5L866 332.9L864 331.6L862 331L860 330.1L858 329.7L856 331.3L854 332.8L852 334.2L850 333.3L848 332.6L846 331.7L844 331.3L842 330.4L840 330.3L838 330.6L836 330.9L834 330.5L832 330.7L830 330.9L828 330.5L826 329.9L824 329.3L822 329.7L820 328.7L818 328.5L816 329L814 329.5L812 328.7L810 329L808 329.5L806 331.2L804 332L802 333.9L800 334.8L798 332.9L796 331.5L794 329.4L792 328.4L790 327L788 326.1L786 325.7L784 325.7L782 326.8L780 327.5L778 329L776 329.9L774 331.9L772 331.9L770 330.6L768 329.7L766 329.1L764 328.2L762 326.9L760 327.4L758 327.6L756 328.7L754 328.3L752 329.6L750 330L748 329.6L746 330.1L744 331.1L742 331.7L740 332.2L738 331.7L736 333.1L734 332.8L732 333.8L730 333.4L728 333.6L726 333.3L724 333.7L722 333.5L720 332.3L718 332.2L716 331L714 330.9L712 330.4L710 331L708 330.8L706 330.5L704 330.9L702 330.9L700 331.4L698 332.1L696 332.3L694 333.1L692 333.4L690 334L688 334.4L686 333.8L684 333.6L682 333.7L680 333.4L678 333.1L676 333.9L674 333.1L672 333.2L670 332.6L668 332.4L666 331.6L664 331L662 330.7L660 331.2L658 332L656 331.9L654 333.3L652 333.2L650 334.2L648 333.7L646 334.4L644 334.1L642 334.3L640 335L638 335.2L636 335.4L634 335.4L632 335.8L630 335.8L628 335.9L626 334.7L624 334.7L622 333.7L620 333.6L618 333.8L616 333.9L614 333.7L612 333.7L610 333.7L608 334.1L606 333.5L604 334L602 333.9L600 333.5L598 334.2L596 333.4L594 334.3L592 333.5L590 334.2L588 333.5L586 333.6L584 333.8L582 333.8L580 334.2L578 334.6L576 335.2L574 335.3L572 335.7L570 335.1L568 335.7L566 335.5L564 335.8L562 335.7L560 335.6L558 335.9L556 336.1L554 336.7L552 336L550 336L548 336L546 336.5L544 335.8L542 335.9L540 335.8L538 335.9L536 336.2L534 336.1L532 336L530 335L528 335.1L526 334.9L524 334.5L522 333.9L520 335.2L518 335.1L516 335.4L514 335.5L512 335.4L510 336L508 334.7L506 335.1L504 334.6L502 334.5L500 334.1L498 333.1L496 333.1L494 331.7L492 331.2L490 330.1L488 329.8L486 330.5L484 331.5L482 331.1L480 332.1L478 331.6L476 331.6L474 332.6L472 332.5L470 332.1L468 332.7L466 332.6L464 332.9L462 332.2L460 332.8L458 332.7L456 332.5L454 333.2L452 333L450 332.3L448 332.2L446 333L444 332.4L442 332.8L440 332.7L438 332.7L436 333.4L434 333.8L432 334.6L430 335.2L428 335.8L426 336.1L424 335.5L422 334.8L420 334.6L418 334.9L416 334.4L414 335L412 334.8L410 334.1L408 334.6L406 334.6L404 333.8L402 334L400 334.8L398 335.2L396 335.5L394 335.5L392 335.6L390 336.6L388 336.5L386 336.4L384 336.7L382 337L380 337.2L378 337.4L376 337.3L374 337.1L372 337.9L370 337.5L368 337.7L366 337.7L364 337.7L362 337.1L360 337.6L358 338.1L356 338.2L354 337.9L352 337.6L350 337.6L348 337.4L346 336.8L344 337.2L342 336.5L340 336.2L338 336.5L336 336.2L334 336.7L332 335.8L330 336L328 335.9L326 336.8L324 336L322 335.9L320 336.1L318 336.3L316 336.9L314 336.9L312 337.6L310 337.8L308 339.4L306 339.9L304 340.2L302 340.2L300 340.9L298 341L296 341.3L294 341.1L292 340.9L290 341.2L288 340.4L286 340.4L284 341L282 340.6L280 339.8L278 340.1L276 340.7L274 341.1L272 341.6L270 342L268 341.5L266 341.9L264 342.5L262 342.4L260 343.2L258 343L256 343.2L254 343.3L252 343.5L250 342.5L248 342.1L246 341.5L244 340.8L242 339.5L240 338.8L238 337.5L236 336.9L234 336L232 336L230 335.8L228 336.2L226 336.7L224 337L222 337.7L220 337.8L218 338.1L216 337.2L214 337.3L212 337.6L210 337.8L208 337.5L206 337.8L204 337.7L202 337.3L200 336.9L198 337.5L196 337L194 336.6L192 337.3L190 337.1L188 336.4L186 336.7L184 336L182 336.6L180 335.7L178 336.2L176 335.6L174 335.8L172 335.3L170 335.3L168 335.2L166 334.8L164 334.5L162 335L160 335.1L158 334.2L156 334.2L154 333.9L152 334.2Z" fill="#0b0b0b" filter="url(#ba)"/>
<path d="M152 96.6L154 96.6L156 96L158 95.9L160 96.3L162 96L164 96.3L166 95.4L168 95.8L170 96.2L172 96L174 96.2L176 96.4L178 96.7L180 96.6L182 97L184 97.3L186 96.8L188 96.3L190 95.7L192 95.7L194 94.4L196 94.9L198 94.3L200 94.8L202 95.5L204 95.5L206 95L208 94.8L210 95.2L212 95.3L214 96.2L216 96.1L218 95.9L220 97.1L222 97.4L224 97L226 97.6L228 97.9L230 98.2L232 98.5L234 98.7L236 98L238 98.5L240 98.7L242 98.5L244 98.6L246 99.2L248 99.2L250 99.5L252 99.5L254 100.4L256 101L258 101L260 101.1L262 100.6L264 100.1L266 99.3L268 99.5L270 99.2L272 98L274 98.5L276 98L278 97.7L280 97.9L282 97.1L284 97.6L286 98.5L288 99.4L290 99.9L292 100.9L294 100.5L296 99.8L298 98.7L300 98L302 97.2L304 96.9L306 97.8L308 98L310 98.4L312 98.7L314 98.5L316 97L318 96.6L320 96L322 94.7L324 94L326 92.7L328 92.2L330 92L332 92.6L334 93.1L336 93.6L338 94.6L340 95.1L342 95.8L344 96.6L346 97.4L348 97.9L350 98.2L352 98.3L354 97.5L356 97.4L358 97.3L360 97.4L362 97.6L364 97L366 97.1L368 97.5L370 96.7L372 97.3L374 96.7L376 96.2L378 96.1L380 96.2L382 95.8L384 95.6L386 95.5L388 95.7L390 95.2L392 95.6L394 95.7L396 95.3L398 95.2L400 95L402 95.4L404 95.8L406 95.6L408 95.7L410 95.9L412 95.6L414 96.4L416 96.1L418 96.4L420 96.5L422 96.9L424 97.3L426 97.1L428 97.2L430 98L432 98L434 98.2L436 98L438 98.2L440 97.3L442 97.1L444 96.6L446 95.6L448 95.9L450 94.9L452 94.8L454 95.1L456 94.9L458 95.2L460 95.5L462 95.7L464 95.7L466 96.2L468 96.4L470 96.8L472 97L474 96.9L476 96L478 95.9L480 96L482 95.9L484 95.9L486 95.5L488 95.7L490 95.6L492 94.5L494 94.1L496 93.3L498 93.2L500 92.1L502 92.5L504 93.7L506 93.9L508 94.1L510 94.5L512 95.4L514 95.5L516 96.7L518 97.3L520 97.4L522 98L524 98.5L526 99L528 98.1L530 98.2L532 97.8L534 98.1L536 98L538 97.8L540 97.4L542 97L544 97.2L546 97L548 97.1L550 98.1L552 97.9L554 98.4L556 97.6L558 97.9L560 97.8L562 98L564 97.8L566 98.1L568 97.6L570 97.2L572 97.5L574 97L576 97.2L578 96.8L580 96.2L582 96.5L584 95.5L586 95.6L588 95.7L590 96.2L592 96.6L594 96.7L596 97.4L598 97.6L600 97.5L602 98.2L604 98.3L606 98.8L608 99.2L610 99.1L612 99.7L614 99.7L616 99.6L618 99.7L620 100.1L622 99.8L624 100.2L626 100L628 99.7L630 98.8L632 98.5L634 97.4L636 97.3L638 97.1L640 96.5L642 96.5L644 95.8L646 95.5L648 94.7L650 94.3L652 94.1L654 94.4L656 94.6L658 94.4L660 94.5L662 94.5L664 95.6L666 95.8L668 96.1L670 97L672 97.5L674 97.3L676 97.1L678 96.2L680 96.3L682 95.5L684 96.1L686 96.7L688 96.8L690 97.3L692 98.1L694 98.1L696 97.6L698 97.2L700 97.2L702 96.4L704 96.4L706 96L708 95.4L710 94.9L712 94L714 94.6L716 95.2L718 96.5L720 97.2L722 96.9L724 97L726 96.8L728 96.4L730 96.2L732 95.3L734 95.2L736 94.9L738 95.1L740 94.5L742 94.4L744 94.6L746 94.2L748 93.9L750 93.7L752 94L754 93.2L756 93.1L758 93.2L760 93.4L762 93.8L764 94.3L766 94.6L768 94L770 92.6L772 91.2L774 90.3L776 90.9L778 91.7L780 92L782 92.6L784 93L786 93.7L788 93.8L790 94.2L792 94.9L794 94.2L796 93.2L798 92L800 91.3L802 91.7L804 92.6L806 92.7L808 93.1L810 94.6L812 94.7L814 95.8L816 97L818 97.1L820 96.9L822 96.9L824 97L826 96L828 94.9L830 94.5L832 93.4L834 93L836 94L838 94.7L840 95L842 95.4L844 94.9L846 94.9L848 94.9L850 95.2L852 94.9L854 95.1L856 94.4L858 94.8L860 94.6L862 94.5L864 95.5L866 95.6L868 96.2L870 97L872 97.6L874 97.6L876 97.6L878 97.4L880 97.4L882 97L884 97.1L886 96.7L888 96.2L890 95.2L892 94.3L894 93.8L896 92.9L898 92.7L900 93.7L902 93.7L904 94.3L906 94.8L908 95.5L910 95.5L912 95.2L914 95.6L916 95.8L918 95.5L920 95.6L922 95.6L924 96.1L926 95.7L927 96.1L927 97.8L926 97.8L924 97.8L922 97.6L920 97.4L918 97.5L916 97.3L914 96.9L912 96.8L910 96.8L908 96.9L906 96.7L904 96.4L902 95.4L900 95.3L898 94.4L896 94.6L894 95.5L892 96.1L890 97.2L888 97.6L886 98.8L884 98.7L882 98.9L880 99.1L878 99L876 98.9L874 99.1L872 99.4L870 98.7L868 98L866 97.6L864 97L862 96.5L860 96.9L858 97.2L856 96.8L854 97.1L852 96.8L850 97.4L848 96.9L846 97.4L844 97L842 97.7L840 97L838 96.5L836 96.4L834 95.9L832 95.7L830 96.6L828 97.1L826 98.5L824 99.1L822 99.5L820 99.6L818 99.4L816 98.9L814 98.4L812 97.1L810 96.3L808 95.8L806 95L804 94.8L802 94.6L800 93.7L798 94.3L796 95.4L794 96.3L792 97.3L790 96.6L788 96.5L786 95.9L784 95.7L782 94.8L780 94.2L778 93.8L776 93.3L774 92.3L772 92.8L770 94.4L768 96.2L766 97.4L764 96.6L762 96L760 95.7L758 95.2L756 95.7L754 96.1L752 96.1L750 96.5L748 96.6L746 96.7L744 96.7L742 96.8L740 97.5L738 97.6L736 97.6L734 97.6L732 98.1L730 98.2L728 98.2L726 98.8L724 99.5L722 99.1L720 99.5L718 99L716 97.4L714 96.8L712 96.7L710 97.4L708 97.8L706 98.4L704 98.6L702 99.2L700 99.6L698 100L696 100.1L694 100.4L692 100.7L690 99.9L688 99.3L686 99.3L684 98.5L682 98.4L680 98.3L678 98.7L676 99.3L674 99.3L672 99.9L670 99.6L668 98.6L666 98.5L664 97.9L662 97.3L660 96.8L658 97.2L656 96.8L654 96.2L652 96.2L650 96.5L648 97.5L646 97.5L644 98.3L642 98.7L640 98.8L638 99.7L636 100L634 100.4L632 100.1L630 100.5L628 101.1L626 101.4L624 101.2L622 101.2L620 101.5L618 101.1L616 100.9L614 100.9L612 100.8L610 100.9L608 100.7L606 100.9L604 100.3L602 100.5L600 100.6L598 100.1L596 99.8L594 99.3L592 98.9L590 98.5L588 98.7L586 97.8L584 98.6L582 99.1L580 98.7L578 98.9L576 99.7L574 100L572 100.1L570 100.6L568 100.9L566 100.5L564 100.7L562 100.5L560 100.8L558 101.1L556 100.8L554 100.9L552 101.2L550 100.6L548 100.3L546 99.9L544 100.3L542 100.5L540 99.7L538 100L536 100.1L534 100.5L532 100.7L530 101.3L528 101.5L526 101.3L524 101.4L522 101.6L520 100.8L518 100.3L516 99.4L514 98.6L512 98L510 97.9L508 96.8L506 96.7L504 96.2L502 95.5L500 95.5L498 96.1L496 96.5L494 97.3L492 97.1L490 98.4L488 98.6L486 98.8L484 98.9L482 99.2L480 98.7L478 98.8L476 99.6L474 99.7L472 99.2L470 99.3L468 98.9L466 99.1L464 98.5L462 98.7L460 98.4L458 98.3L456 97.3L454 97.8L452 97.7L450 98.5L448 98.9L446 99.1L444 99.5L442 100.3L440 100.4L438 101.3L436 102L434 101.7L432 101.5L430 101.3L428 101.7L426 100.9L424 101.1L422 100.5L420 100.8L418 100.6L416 100.8L414 100.1L412 100.5L410 99.9L408 100.5L406 99.9L404 99.6L402 99.8L400 100L398 99.9L396 100.4L394 100.4L392 100.5L390 100.7L388 100.7L386 100.8L384 100.2L382 100.6L380 100.7L378 101.1L376 101.1L374 101.4L372 101.1L370 101.3L368 101.8L366 102.2L364 102.4L362 101.8L360 102.1L358 102.4L356 102.5L354 102.4L352 102.3L350 102.2L348 101.2L346 100.9L344 100.9L342 100.1L340 99L338 97.8L336 97.9L334 97.2L332 95.5L330 95.1L328 96.5L326 96.5L324 97.7L322 98.8L320 98.9L318 100.1L316 100.8L314 101.8L312 102.5L310 101.4L308 101.2L306 101.2L304 101.1L302 101.3L300 102L298 102.1L296 103.7L294 103.5L292 104L290 103.3L288 102.8L286 102.1L284 102.2L282 101.5L280 101.1L278 102.1L276 102L274 102.4L272 101.7L270 102.2L268 102.5L266 103L264 103.8L262 104L260 104.5L258 104.4L256 103.9L254 103.5L252 103.6L250 103.7L248 103.4L246 102.7L244 102.8L242 102.7L240 102.2L238 102.2L236 102L234 102.1L232 101.6L230 101.7L228 101.6L226 101.2L224 100.6L222 100.5L220 100.7L218 99.9L216 99.8L214 99.6L212 99L210 98.9L208 99.5L206 99L204 98.5L202 99.1L200 98.7L198 98.7L196 98.4L194 98.8L192 99.3L190 99.4L188 100.7L186 100.6L184 101L182 100.7L180 100L178 100.5L176 100.5L174 100L172 100.2L170 99.6L168 99.6L166 99.7L164 99.9L162 99.7L160 99.6L158 99.4L156 100L154 100.1L152 99.6Z" fill="#0b0b0b" filter="url(#bc)"/>
<path d="M350 145.2L352 144.3L354 143.1L356 141.2L358 140.4L360 140.3L362 140.6L364 140.8L366 140.4L368 140.7L370 140.4L372 140.7L374 139.8L376 139.9L378 139.8L380 139.1L382 139.3L384 138.9L386 138.8L388 138L390 139.6L392 140.4L394 141.3L396 142.5L398 143.4L398 143.4L396 144.9L394 145.9L392 146.9L390 148.3L388 149L386 149L384 150.2L382 149.6L380 150L378 150.1L376 151.1L374 150.5L372 151.2L370 151L368 151.2L366 151.1L364 151.7L362 150.9L360 150.9L358 151.1L356 149.5L354 148.8L352 147.2L350 145.2Z" fill="#494949" filter="url(#bb)"/>
<path d="M536 141.7L538 141L540 140.5L542 139.3L544 138.2L546 136.9L548 135.6L550 134.8L552 134.3L554 134.3L556 133.9L558 134.6L560 134.4L562 134.2L564 134L566 133.4L568 133L570 133.7L572 133.1L574 133.4L576 133.3L578 132.5L580 132.6L582 132.5L584 133L586 132.5L588 132.6L590 132.7L592 133.3L594 133.1L596 133.6L598 133.6L600 134.6L602 134.4L604 135.1L606 135.1L608 134.5L610 134.2L612 134.3L614 135L616 134.6L618 134.5L620 134.1L622 133.8L624 134L626 133.7L628 134.5L630 133.7L632 133.5L634 133.6L636 133.9L638 133.8L640 133.8L642 133.8L644 133.8L646 133.9L648 133.8L650 133.2L652 134.1L654 133.9L656 134.1L658 134L660 135.2L662 135L664 134.7L666 134.7L668 135L670 135.4L672 135.4L674 135.7L676 136.3L678 136.3L680 136.6L682 137.4L684 137.1L686 137.5L688 138.1L690 138.3L692 137.6L694 136.8L696 136.5L698 136.1L700 135.3L702 135.4L704 135L706 134.9L708 135.2L710 135.7L712 134.9L714 136.1L716 137.4L718 138.5L720 139.7L722 140.3L724 141.5L726 140.7L728 140.8L730 140.3L732 138.6L734 139.2L734 139.4L732 139.1L730 141L728 141.8L726 142.3L724 142.9L722 142.5L720 142L718 140.7L716 140.7L714 139.5L712 139L710 139.7L708 139.9L706 139.8L704 140.6L702 140.8L700 141.4L698 142.5L696 142.5L694 143L692 144.4L690 144.2L688 144.8L686 144.6L684 144.3L682 144.2L680 144.2L678 144.5L676 143.7L674 143.8L672 144.1L670 144L668 144.2L666 144.1L664 143.3L662 143.8L660 143.6L658 143.4L656 143.6L654 144.3L652 144.3L650 144.8L648 145.4L646 146.3L644 146.2L642 146.5L640 147.2L638 147.2L636 147.7L634 147.8L632 147.6L630 148.4L628 148.4L626 148.3L624 148.1L622 148.1L620 148.3L618 149L616 149.1L614 149.2L612 148.9L610 149.5L608 149.2L606 149.8L604 149.9L602 149.4L600 149.7L598 148.7L596 149.1L594 148.1L592 148.6L590 148.2L588 147.9L586 147.3L584 146.7L582 147.1L580 147.1L578 147.3L576 147L574 147.3L572 147.1L570 147.3L568 146.5L566 146.7L564 146.6L562 147.3L560 147L558 146.9L556 146.7L554 146.5L552 146.5L550 147L548 146.6L546 145.9L544 145.2L542 143.8L540 143.9L538 142.8L536 141.7Z" fill="#373737" filter="url(#bb)"/>
<path d="M746 136.6L748 135.6L750 133.6L752 133L754 131.2L756 131.2L758 130.4L760 130.4L762 129.7L764 130.1L766 129.7L768 129.8L770 129.2L772 130L774 129.4L776 129.7L778 129.5L780 130L782 130.5L784 130.9L786 132L788 131.7L790 129.9L792 128.3L794 127.3L796 129.2L798 130.2L800 132.1L802 133.9L804 135.4L806 137.2L806 137.2L804 137.3L802 137.6L800 137.2L798 136.5L796 134.8L794 133.3L792 135L790 138.1L788 140.3L786 140.9L784 140.8L782 139.7L780 139.2L778 138.8L776 138.1L774 137.8L772 137.7L770 138.1L768 137.5L766 137.6L764 138.2L762 138.5L760 138.7L758 138.8L756 139.1L754 138.9L752 138.4L750 137.4L748 137.6L746 137.3Z" fill="#131313" filter="url(#bb)"/>
<path d="M350 232.6L352 231.5L354 229.9L356 228.8L358 227.7L360 227.3L362 227.3L364 227.3L366 227.7L368 228L370 227.3L372 227.5L374 227.2L376 227.3L378 227.5L380 227.3L382 226.3L384 226.2L386 226.2L388 228L390 228.4L392 229.9L394 230.7L396 231.6L396 231.6L394 232.8L392 234.3L390 235.2L388 236.7L386 237.2L384 237.1L382 238.2L380 237.8L378 237.8L376 238.5L374 238.7L372 238.4L370 238.2L368 238.2L366 238.7L364 238.3L362 239.1L360 238.4L358 238.8L356 237.2L354 236L352 234.8L350 232.6Z" fill="#454545" filter="url(#bb)"/>
<path d="M534 231.4L536 230.4L538 230L540 229.4L542 228.8L544 227.1L546 226.6L548 225L550 223.6L552 222.9L554 222.1L556 222.3L558 222L560 221L562 221.3L564 221L566 220.9L568 219.9L570 220.4L572 219.8L574 220.2L576 220.1L578 220.1L580 219.7L582 219.9L584 219.8L586 220.2L588 220.1L590 221.2L592 220.8L594 221.1L596 221.3L598 221.7L600 221.6L602 222.2L604 222.2L606 222.4L608 222L610 222.3L612 223.1L614 223.4L616 223.4L618 222.9L620 223.4L622 222.5L624 222.4L626 222L628 222L630 222.5L632 221.5L634 222.1L636 221.3L638 221.2L640 221.3L642 221L644 221.5L646 222.3L648 222.3L650 223.2L652 223.3L654 224.1L656 223.7L658 225L660 225.6L662 226.2L664 226.1L666 226.6L668 227.4L670 227.1L672 227.8L674 227.5L676 228.2L678 228.4L680 228.7L682 229.9L684 230.5L686 231.5L688 232.6L690 232.9L690 232.9L688 233L686 232.5L684 232.2L682 231.8L680 231.2L678 230.9L676 230.9L674 231.3L672 231.9L670 231.6L668 232.6L666 232.7L664 232.6L662 232.8L660 232.1L658 232.2L656 231.8L654 232.3L652 232L650 232.3L648 232.9L646 232.9L644 232.4L642 232.5L640 233.1L638 233.8L636 234.5L634 234.6L632 235.9L630 235.5L628 236.7L626 236.8L624 237.8L622 237.6L620 238.4L618 239.2L616 239.1L614 239.8L612 239.5L610 239.2L608 239.6L606 239.7L604 239.2L602 239.3L600 239.2L598 238.2L596 237.8L594 237.8L592 238.1L590 237.8L588 237.6L586 237.3L584 236.9L582 236.9L580 236.8L578 237.2L576 236.7L574 236.4L572 236.9L570 235.9L568 236L566 236.4L564 235.9L562 236.5L560 236.3L558 236.6L556 236.4L554 236.7L552 236.7L550 237L548 237.6L546 237.4L544 237.2L542 235.4L540 235.1L538 233.7L536 232.4L534 231.4Z" fill="#373737" filter="url(#bb)"/>
<path d="M246 236.7L248 235.9L250 235.6L252 234.3L254 234.2L256 233.8L258 233.9L260 233.5L262 233.2L264 233.1L266 233.4L268 233.6L270 233L272 232.5L274 232.7L276 232.7L278 232.6L280 231.8L282 232L284 232.2L286 231.9L288 232.4L290 232.1L292 232.7L294 232.4L296 232.2L298 232L300 232.6L302 232.4L304 233.5L306 233.6L308 234.6L310 234.5L312 235L312 235L310 236L308 237L306 238.2L304 238.5L302 239.4L300 240.6L298 239.7L296 240.4L294 239.9L292 240.8L290 240.2L288 240.5L286 240.1L284 239.8L282 239.8L280 240.1L278 240L276 240.5L274 240.5L272 240.9L270 240.7L268 241.6L266 241L264 241.1L262 241.8L260 241.9L258 241.4L256 242L254 241.4L252 240L250 239.2L248 238.4L246 237.5Z" fill="#121212" filter="url(#ba)"/>
<path d="M746 224.2L748 222.9L750 222.4L752 220.9L754 220L756 220.1L758 219.2L760 219.3L762 218.7L764 219.3L766 218.4L768 219.2L770 219L772 219.3L774 219.4L776 219.9L778 219.6L780 219.7L782 219.3L784 218.5L786 218.5L788 217.7L790 217L792 218.2L794 219.4L796 221L798 221.6L800 223L800 223L798 223.3L796 223.4L794 223.8L792 223.4L790 224.2L788 225.1L786 225.6L784 226.6L782 227L780 228.2L778 228.1L776 226.9L774 227.3L772 226.5L770 226.9L768 226.6L766 226.2L764 225.8L762 226.1L760 226.3L758 226.9L756 226.5L754 226.7L752 225.7L750 225.3L748 225.1L746 225.1Z" fill="#121212" filter="url(#bb)"/>
<path d="M746 281.6L748 280.6L750 279.1L752 277.2L754 275.9L756 274.9L758 274.2L760 273.9L762 273.8L764 273.3L766 274.4L768 274.9L770 275.6L772 275.6L774 274.9L776 273.8L778 273.2L780 272.4L782 271.3L784 270.1L786 268.7L788 266.9L790 266.9L792 269.2L794 272.6L796 275L798 277.6L800 279.7L802 281.7L802 281.7L800 281L798 280.3L796 279.4L794 278.4L792 276.8L790 275.4L788 277.7L786 278.6L784 279.8L782 280.4L780 282.2L778 282.5L776 283.2L774 283.8L772 284.8L770 284.5L768 284.3L766 283.9L764 283.2L762 282.9L760 283.3L758 284L756 283.7L754 284L752 283.6L750 283.6L748 282.7L746 282.6Z" fill="#141414" filter="url(#bb)"/>
<path d="M246 294.5L248 293.5L250 293.4L252 292.3L254 291.9L256 291.1L258 291.8L260 291.9L262 291.4L264 291.3L266 291L268 290.6L270 290.1L272 290.1L274 289.6L276 290L278 289L280 288.8L282 289L284 289.1L286 289.4L288 289.8L290 289.4L292 290.2L294 290.2L296 289.5L298 289.6L300 289L302 289.7L304 290.1L306 291L308 291.1L310 292.2L312 292.4L312 292.4L310 293.5L308 294.9L306 295.6L304 296.4L302 297.6L300 298.1L298 298.9L296 298.5L294 299.3L292 298.6L290 298.9L288 298.4L286 298.7L284 297.8L282 298.3L280 298.3L278 298.8L276 298.8L274 298.6L272 298.6L270 299.6L268 299.6L266 300.2L264 299.8L262 300.9L260 300.7L258 300.4L256 300.4L254 300.1L252 298.6L250 297.3L248 296.2L246 295.2Z" fill="#121212" filter="url(#ba)"/>
<path d="M350 332.2L352 331.6L354 330.8L356 329.5L358 328.1L360 328L362 328.3L364 328.8L366 328.5L368 328.6L370 328.6L372 328.3L374 328L376 328.1L378 328L380 327.4L382 328L384 327.4L386 327.6L388 327.4L390 326.8L392 327.1L394 327.7L396 327.9L398 329.2L400 329.7L402 330.1L402 330.1L400 331.2L398 332L396 333.9L394 334.9L392 336.1L390 336.2L388 336.7L386 336.2L384 336.4L382 337L380 336.7L378 336.6L376 337.2L374 337L372 337.5L370 337.8L368 337.2L366 337.9L364 337.9L362 337.7L360 336.8L358 337.6L356 336.4L354 334.9L352 333.4L350 332.2Z" fill="#3a3a3a" filter="url(#bb)"/>
<path d="M534 329.2L536 328.3L538 328.2L540 326.9L542 326.7L544 325.7L546 325L548 324.4L550 324.9L552 324.6L554 324.3L556 324.4L558 324L560 324.1L562 324L564 323.8L566 323.8L568 323.2L570 323.5L572 322.9L574 322.7L576 322.7L578 321.9L580 322.2L582 322.2L584 321.5L586 321.9L588 321.4L590 321.5L592 321.7L594 321.1L596 321.8L598 321.6L600 321.3L602 321.5L604 321.1L606 321.9L608 321L610 321.4L612 321.3L614 321.3L616 321.9L618 321.4L620 321.4L622 322.1L624 322.2L626 322.7L628 323.4L630 323.7L632 323.5L634 323L636 322.7L638 322.8L640 322.6L642 323.3L644 323.5L646 323.3L648 322.9L650 323.4L652 323.7L654 323.1L656 323.3L658 322.8L660 322.1L662 322.1L664 323.4L666 323.6L668 324.5L670 325.7L672 326.2L674 326.7L676 327L678 327.6L680 327.9L680 327.9L678 328.1L676 328.1L674 328.3L672 328.9L670 328.8L668 328.3L666 327.6L664 327.8L662 327L660 327.7L658 329.4L656 329.9L654 330L652 331.6L650 331.4L648 332.6L646 333L644 333.5L642 333.7L640 333.7L638 334.3L636 335.5L634 335.2L632 336L630 336.1L628 335.1L626 335.2L624 334.2L622 333.6L620 333.6L618 333.3L616 333.6L614 333.5L612 333.9L610 333.5L608 333.3L606 333.8L604 333.1L602 333.4L600 333.9L598 333.6L596 333.8L594 333.3L592 333.9L590 333.6L588 333.3L586 333.4L584 333.8L582 334.1L580 333.6L578 334.7L576 334.4L574 334.5L572 334.6L570 335.4L568 334.6L566 334.6L564 334.7L562 335.5L560 335.6L558 335.1L556 335.1L554 334.9L552 334.9L550 334.8L548 334.6L546 333.5L544 333.3L542 332.8L540 331.5L538 330.9L536 329.8L534 329.2Z" fill="#343434" filter="url(#bb)"/>
<path d="M746 324.8L748 323.5L750 322.6L752 321.3L754 321L756 320L758 319.8L760 319.7L762 318.7L764 319.7L766 320.6L768 320.8L770 322.1L772 322.6L774 323.4L776 321.2L778 320.3L780 319.1L782 317.6L784 317.3L786 317.4L788 317.6L790 319.2L792 321.1L794 323.4L796 324.8L798 326.9L800 329.1L800 329.1L798 328.2L796 327.5L794 326.6L792 325.8L790 325L788 324.5L786 324L784 324.1L782 324.9L780 326L778 327.2L776 328.7L774 329.7L772 330L770 328.8L768 327.3L766 326.6L764 325.9L762 325L760 325.5L758 325.7L756 326.4L754 325.7L752 326L750 326L748 325.3L746 325.3Z" fill="#111111" filter="url(#bb)"/>
<path d="M152 96.8L154 97L156 97.3L158 97.2L160 96.7L162 96.9L164 96.9L166 97.1L168 96.9L170 96.6L172 97.2L174 97.3L176 97.4L178 97.2L180 97.7L182 97.8L184 97.8L186 98.4L188 97.5L190 97.2L192 96.3L194 95.7L196 95.6L198 95.8L200 95.9L202 96.2L204 96.1L206 96.2L208 96L210 96L212 96.1L214 96.9L216 96.9L218 97.4L220 97.5L222 97.7L224 98.4L226 98.3L228 98.7L230 99.3L232 99.3L234 99.5L236 99.6L238 99.7L240 99.6L242 99.8L244 99.4L246 100L248 100.3L250 100.4L252 101.1L254 100.9L256 101.5L258 101.6L260 101.5L262 101L264 100.8L266 100.5L268 100.3L270 100L272 99L274 99.4L276 99L278 98.5L280 98.4L282 98.5L284 99.2L286 99.5L288 100.2L290 101L292 101.3L294 100.9L296 100.2L298 99.4L300 99.1L302 98.4L304 98.4L306 98.6L308 99L310 99.1L312 98.9L314 99.2L316 98.1L318 97.2L320 96.5L322 95.2L324 94.6L326 93.7L328 93.1L330 92.5L332 93.4L334 94L336 94.8L338 95.1L340 96L342 96.9L344 98.1L346 98.8L348 98.8L350 99.2L352 99.1L354 98.9L356 98.7L358 98.9L360 98.5L362 98.7L364 98.5L366 98.1L368 98.3L370 98.4L372 98.3L374 97.6L376 97.6L378 97.8L380 97.5L382 97.2L384 97.4L386 96.7L388 96.6L390 96.5L392 96.7L394 96.8L396 96.5L398 96.5L400 96.9L402 96.5L404 96.3L406 97L408 96.5L410 96.6L412 96.9L414 97.3L416 97.2L418 97.4L420 97.5L422 97.9L424 97.7L426 98L428 98.6L430 98.7L432 99.2L434 99.3L436 98.9L438 98.2L440 98.3L442 97.3L444 97L446 96.7L448 96.5L450 96.2L452 95.6L454 95.3L456 95.4L458 95.6L460 95.6L462 96.2L464 96.2L466 96.6L468 96.7L470 96.9L472 97.1L474 97.1L476 96.7L478 97L480 96.5L482 96.7L484 96.3L486 96L488 96.1L490 96.1L492 95.5L494 94.9L496 94.4L498 93.8L500 93.1L502 93.7L504 94L506 94.5L508 94.8L510 95.3L512 96L514 96.6L516 97.3L518 98L520 98.3L522 99.1L524 99.3L526 99.3L528 99L530 98.6L532 98.4L534 98.2L536 98.3L538 98L540 98.1L542 98L544 97.8L546 97.8L548 98.4L550 98.5L552 98.8L554 98.5L556 98.7L558 98.5L560 98.4L562 98.6L564 98.6L566 98.4L568 98.3L570 98.1L572 97.9L574 97.9L576 97.6L578 97.2L580 97.1L582 96.5L584 96.4L586 96.2L588 96.1L590 96.6L592 96.9L594 97.2L596 97.6L598 97.7L600 98.2L602 98.4L604 99.1L606 99.2L608 99.5L610 99.8L612 100.1L614 100.1L616 100.2L618 100.3L620 100.3L622 100.4L624 100.4L626 100.5L628 100.4L630 99.3L632 98.7L634 98L636 97.8L638 97.7L640 97.3L642 97L644 96.2L646 95.8L648 95.2L650 94.7L652 94.4L654 94.7L656 94.9L658 95.1L660 95.4L662 95.4L664 95.9L666 96.3L668 96.9L670 97.5L672 97.8L674 97.8L676 97.1L678 96.9L680 96.5L682 96.2L684 96.8L686 97.1L688 97.7L690 98.1L692 98.5L694 98.5L696 98.2L698 97.7L700 97.7L702 97.3L704 96.8L706 96.1L708 95.9L710 95.3L712 94.8L714 95L716 96L718 97L720 97.8L722 97.7L724 97.4L726 97.1L728 96.8L730 96.5L732 96.2L734 96.2L736 95.9L738 95.7L740 95.6L742 95.3L744 95.2L746 95L748 94.4L750 94.4L752 94.4L754 94.3L756 94.1L758 93.6L760 93.6L762 94.4L764 94.7L766 95.2L768 94.3L770 93L772 91.5L774 91L776 91.5L778 91.9L780 92.7L782 93.4L784 93.9L786 94.3L788 94.5L790 94.9L792 95.5L794 94.5L796 93.3L798 92.6L800 92.2L802 92.4L804 93.1L806 93.3L808 93.9L810 94.8L812 95.6L814 96.6L816 97.3L818 97.8L820 97.6L822 97.3L824 97.2L826 96.5L828 95.6L830 94.7L832 94L834 93.9L836 94.4L838 95L840 95.5L842 95.8L844 95.6L846 95.8L848 95.4L850 95.5L852 95.3L854 95.3L856 95.1L858 95.1L860 95.2L862 95.2L864 95.6L866 96.3L868 97L870 97.5L872 98.1L874 98.2L876 98L878 97.9L880 97.7L882 97.7L884 97.5L886 97.3L888 96.7L890 95.8L892 94.9L894 94.1L896 93.3L898 93.4L900 94L902 94.4L904 94.9L906 95.5L908 95.8L910 95.7L912 95.9L914 96L916 96L918 96.2L920 96.2L922 96.4L924 96.4L926 96.6L927 96.6L927 97.2L926 97.1L924 97L922 97L920 96.9L918 96.8L916 96.8L914 96.6L912 96.6L910 96.5L908 96.3L906 96.2L904 95.5L902 95L900 94.5L898 94.2L896 94L894 94.7L892 95.5L890 96.4L888 97.2L886 98.1L884 98.2L882 98.2L880 98.5L878 98.6L876 98.7L874 98.8L872 98.7L870 98.1L868 97.6L866 97L864 96.7L862 96.3L860 96.3L858 96.4L856 96.5L854 96.4L852 96.7L850 96.5L848 96.7L846 96.7L844 96.9L842 97L840 96.6L838 96L836 95.4L834 95.1L832 95.4L830 96.2L828 96.9L826 97.8L824 98.4L822 98.5L820 99L818 99.2L816 98.6L814 97.6L812 96.7L810 95.9L808 95.2L806 94.5L804 94.3L802 93.9L800 93.4L798 93.5L796 94.5L794 95.5L792 96.5L790 96.3L788 96L786 95.4L784 95L782 94.3L780 93.9L778 93.4L776 92.6L774 92.2L772 92.5L770 94L768 95.5L766 96.7L764 96L762 95.4L760 94.9L758 94.9L756 95.1L754 95.2L752 95.5L750 95.8L748 96L746 96.1L744 96.1L742 96.4L740 96.9L738 96.7L736 96.9L734 97.4L732 97.5L730 97.9L728 98.2L726 98.2L724 98.7L722 98.9L720 99.1L718 98.3L716 97.1L714 96.1L712 95.9L710 96.4L708 96.9L706 97.6L704 97.9L702 98.5L700 98.9L698 99L696 99.6L694 100L692 100L690 99.4L688 99L686 98.3L684 97.9L682 97.5L680 98L678 98.1L676 98.6L674 98.8L672 99L670 98.7L668 98.1L666 97.9L664 97.4L662 96.7L660 96.4L658 96.3L656 96.1L654 96L652 95.7L650 95.9L648 96.6L646 97.3L644 97.7L642 98L640 98.5L638 99L636 99.3L634 99.5L632 99.9L630 100.2L628 100.8L626 100.9L624 100.9L622 100.9L620 100.8L618 100.7L616 100.6L614 100.5L612 100.5L610 100.4L608 100.1L606 100.2L604 99.9L602 100L600 99.5L598 99.4L596 98.9L594 98.8L592 98.6L590 97.9L588 97.8L586 97.5L584 97.8L582 98.3L580 98.3L578 98.5L576 99.1L574 99.1L572 99.7L570 99.5L568 100.1L566 99.8L564 100.1L562 100.2L560 100L558 100L556 100.2L554 99.9L552 100L550 100.1L548 99.6L546 99.1L544 99.2L542 99.6L540 99.7L538 99.8L536 99.6L534 100L532 99.9L530 100.2L528 100.6L526 100.9L524 100.9L522 100.6L520 100.2L518 99.4L516 98.9L514 98L512 97.3L510 96.8L508 96.4L506 95.9L504 95.6L502 95.2L500 94.9L498 95.2L496 95.8L494 96.3L492 97L490 97.3L488 97.9L486 97.6L484 98.1L482 97.9L480 98.5L478 98.5L476 98.7L474 98.4L472 99.1L470 98.7L468 98.5L466 98.3L464 97.7L462 97.5L460 97.5L458 97.4L456 97.1L454 96.7L452 97.1L450 97.8L448 97.8L446 98.3L444 98.5L442 99.2L440 99.9L438 100.2L436 100.5L434 101.3L432 100.8L430 100.6L428 100.8L426 100L424 100L422 99.5L420 99.4L418 99.5L416 99.2L414 99.5L412 99L410 99.2L408 99.2L406 99.1L404 98.6L402 98.6L400 99.1L398 98.8L396 98.7L394 99.4L392 98.9L390 99.2L388 99L386 98.9L384 99.5L382 99.5L380 99.9L378 99.6L376 99.9L374 100.2L372 100.1L370 100.3L368 100.4L366 100.4L364 100.9L362 101L360 101L358 101.3L356 101L354 101L352 101.6L350 101L348 100.5L346 100.5L344 100.1L342 99.1L340 97.9L338 97.5L336 96.9L334 95.5L332 95L330 94.4L328 95.5L326 96.3L324 97L322 97.4L320 98.6L318 99.5L316 99.7L314 100.8L312 101.1L310 100.6L308 100.8L306 100.7L304 100.3L302 100.1L300 100.8L298 101.4L296 102.7L294 103.3L292 103.4L290 102.9L288 102.2L286 101.8L284 101.1L282 100.5L280 100.5L278 100.6L276 100.8L274 101L272 101.3L270 102L268 101.9L266 102.2L264 102.9L262 103.1L260 103.5L258 103.6L256 103.4L254 103.2L252 103.1L250 102.6L248 101.9L246 101.9L244 101.9L242 101.5L240 101.5L238 101.6L236 101.3L234 101L232 100.9L230 101L228 100.5L226 100.5L224 99.9L222 99.6L220 99.9L218 99.4L216 98.9L214 98.4L212 98.6L210 98.2L208 98.4L206 98L204 97.7L202 97.9L200 97.5L198 97.4L196 97.3L194 98.1L192 98.6L190 99.1L188 99.6L186 100.4L184 100.2L182 99.6L180 99.4L178 99.4L176 99.4L174 98.9L172 98.9L170 98.5L168 98.5L166 98.5L164 98.8L162 99.1L160 99.1L158 99.1L156 98.7L154 98.9L152 99.3ZM152 137.6L154 137.5L156 138.1L158 137.7L160 138.3L162 138L164 138.3L166 137.6L168 138.2L170 137.7L172 138.3L174 137.7L176 138L178 138.1L180 138.5L182 138.7L184 138.5L186 138.1L188 138L190 137.9L192 138.2L194 138.2L196 138.2L198 138.2L200 138.6L202 138L204 138.5L206 138.4L208 138.3L210 138.3L212 138.2L214 139.2L216 139L218 139L220 139.4L222 140L224 139.5L226 139.9L228 140.1L230 140.1L232 140.7L234 141.2L236 140.6L238 140.3L240 140.6L242 140.6L244 140.9L246 140.9L248 141.5L250 141.8L252 141.4L254 142.1L256 142.2L258 142.6L260 141.9L262 141.1L264 141.4L266 141.1L268 140.5L270 140.4L272 140.4L274 140L276 139.7L278 140L280 139.9L282 140.8L284 140.8L286 141.5L288 141.8L290 141.9L292 141.2L294 141.7L296 142.1L298 142L300 141.2L302 141.1L304 141.3L306 140.9L308 140.3L310 140.1L312 140.3L314 139.3L316 139.9L318 139.1L320 139L322 138.4L324 137.8L326 136.9L328 137.2L330 137.4L332 137.6L334 137.9L336 138.5L338 138.8L340 139.1L342 138.9L344 139.7L346 140.1L348 140L350 140.9L352 141.2L354 141.4L356 141.7L358 142.2L360 142.5L362 142.6L364 142.7L366 142.3L368 142.7L370 143.2L372 142.3L374 141.9L376 142.1L378 141.5L380 142L382 141.8L384 140.7L386 140.3L388 141L390 140.8L392 140.4L394 140.6L396 140.5L398 140.9L400 141L402 141.2L404 140.8L406 141.2L408 140.4L410 141.1L412 141.1L414 141.5L416 141L418 141.4L420 140.8L422 141.8L424 141.9L426 141.7L428 142.3L430 143.1L432 142.9L434 143.4L436 143L438 141.3L440 140.4L442 140L444 139.2L446 139.4L448 138.9L450 139.3L452 139.5L454 139.3L456 140.1L458 139.5L460 139.3L462 139.7L464 140.1L466 140.3L468 140.1L470 140L472 140.3L474 139.9L476 139.4L478 138.6L480 138.9L482 137.8L484 138.5L486 138.4L488 138.4L490 137.8L492 138.3L494 137.7L496 137.8L498 138.1L500 137.8L502 138.8L504 139.2L506 139.7L508 139.5L510 140.2L512 140.3L514 140.6L516 140.9L518 140.5L520 141.6L522 141.7L524 141.8L526 141.4L528 141.4L530 141.8L532 141.6L534 142.3L536 142.3L538 141.9L540 141.8L542 141.5L544 141.8L546 140.9L548 141.1L550 140.6L552 140.6L554 141L556 140.4L558 140.1L560 140.6L562 139.9L564 140.1L566 140.3L568 139.5L570 140L572 139.1L574 139.8L576 139.6L578 139.3L580 139.6L582 139.3L584 138.3L586 138.2L588 137.8L590 137.5L592 137.4L594 138.2L596 138L598 137.7L600 138.7L602 138.3L604 139.1L606 139.1L608 138.2L610 138.9L612 138L614 137.9L616 137.8L618 138.2L620 137.9L622 137.4L624 137.5L626 137.8L628 137.5L630 137L632 137.3L634 137.9L636 137.6L638 138.3L640 137.9L642 138.4L644 138.1L646 138.7L648 138.3L650 138.7L652 138.3L654 139L656 138.5L658 139.2L660 138.7L662 139.5L664 139.6L666 139.6L668 139.7L670 140.3L672 140.4L674 140.6L676 140.8L678 141L680 141.3L682 141.4L684 141.1L686 141.1L688 141.6L690 141.2L692 141.3L694 141L696 139.9L698 139.6L700 139.5L702 138.5L704 137.9L706 138.2L708 138.5L710 137.7L712 137.3L714 138.1L716 139L718 139.9L720 141L722 142.1L724 142.2L726 142L728 142L730 141.4L732 139.4L734 139.3L736 140.4L738 140.5L740 141.4L742 140.3L744 140.3L746 139.1L748 138.5L750 138.6L752 138.2L754 137.6L756 138L758 137.6L760 137.4L762 136.9L764 136.5L766 136.6L768 136.3L770 136L772 136.2L774 136.1L776 137.1L778 137.1L780 136.7L782 137.5L784 138.3L786 139.3L788 138.9L790 136.9L792 134.8L794 133L796 134.7L798 135.6L800 137.5L802 138.4L804 139.4L806 139.8L808 140.1L810 140.5L812 140L814 140L816 139.7L818 139.7L820 139L822 138.4L824 138.7L826 137.8L828 137.5L830 138L832 138.6L834 139.1L836 140.3L838 140.6L840 140L842 139.9L844 138.5L846 138.2L848 137.6L850 137.8L852 138.9L854 140.3L856 140.4L858 140.7L860 140.7L862 141.2L864 141.2L866 141.8L868 141.6L870 142L872 141.6L874 141.2L876 141.5L878 141.7L880 140.8L882 140.9L884 141.3L886 141L888 140.1L890 139.6L892 138.7L894 137.9L896 137.4L898 138.2L900 139.2L902 139.9L904 140.3L906 141.7L908 142.6L910 142.8L912 143.4L914 144.5L916 144.9L918 144.6L920 144.4L922 143.5L924 143.1L926 142.2L927 141.6L927 144.6L926 144.8L924 145L922 145.7L920 147L918 147.9L916 147.9L914 146.6L912 146.6L910 145.9L908 144.7L906 144.1L904 143L902 142.8L900 141.3L898 140.5L896 140L894 140.8L892 141.9L890 142.8L888 143.1L886 143.7L884 143.6L882 143.8L880 144.1L878 144.3L876 143.7L874 144.5L872 144.2L870 144.5L868 144.7L866 144.4L864 144L862 143.8L860 143.4L858 143.1L856 143L854 142.4L852 141.3L850 141.1L848 140.7L846 140.7L844 141.6L842 143L840 143.1L838 144.3L836 143.3L834 143.4L832 142.6L830 141.7L828 141.8L826 142.1L824 142.3L822 142.4L820 142.7L818 142.9L816 143.5L814 143.3L812 144L810 144L808 144.2L806 143.1L804 142.6L802 141.6L800 141.4L798 139.9L796 138L794 136.5L792 137.6L790 139.6L788 142L786 143.3L784 142.5L782 141.7L780 140.9L778 140.4L776 140.7L774 140.3L772 140.5L770 139.9L768 140.1L766 140.1L764 139.9L762 140.4L760 140.9L758 140.9L756 141.4L754 141.4L752 141.8L750 142.1L748 143.1L746 143.4L744 143.8L742 144.7L740 144.8L738 145L736 144.4L734 143.4L732 143.5L730 145.1L728 145.5L726 146.5L724 146.4L722 145.9L720 145.7L718 144.2L716 143L714 142.3L712 142.3L710 142L708 142.2L706 142.4L704 142.6L702 142.5L700 143.6L698 144.3L696 144.4L694 144.7L692 145.1L690 146.3L688 146L686 146.2L684 146.1L682 145.9L680 144.9L678 145.1L676 145.1L674 144.4L672 144.6L670 144.9L668 144.4L666 144.1L664 144.1L662 144.7L660 144.4L658 144.2L656 144.7L654 144.4L652 144.7L650 145.3L648 145.3L646 146L644 146.9L642 147.8L640 147.7L638 148.4L636 148.4L634 148.7L632 149.1L630 149.5L628 149.9L626 150.1L624 150.2L622 149.8L620 150L618 150.5L616 150L614 150.5L612 150.7L610 150.2L608 150.4L606 150.3L604 150.7L602 150.3L600 150.1L598 150.2L596 149.8L594 148.8L592 148.8L590 147.9L588 147L586 146.9L584 146.3L582 146.2L580 145.5L578 146L576 145.9L574 145.2L572 145.9L570 145.2L568 145.9L566 145.8L564 145.1L562 145.7L560 145.5L558 145.2L556 145.1L554 145.1L552 145.6L550 146.1L548 146.4L546 145.9L544 146.8L542 146.6L540 147L538 146.5L536 146.3L534 146.8L532 146.6L530 146.6L528 146.6L526 146.3L524 146.6L522 145.7L520 145.5L518 145.5L516 145.9L514 145.2L512 144.9L510 145.1L508 144.3L506 143.4L504 143.6L502 143.2L500 142.7L498 142.7L496 142.4L494 142.8L492 143.1L490 143.2L488 143L486 142.4L484 143.4L482 143.1L480 143.5L478 144L476 144.1L474 144.5L472 144.5L470 144.7L468 144.3L466 144.8L464 145.1L462 144.9L460 144.1L458 144L456 144.1L454 144.4L452 144.2L450 144L448 143.8L446 144L444 144.4L442 145.3L440 145.7L438 146.5L436 147L434 147.7L432 148.1L430 148L428 147L426 146.5L424 147L422 146L420 146.1L418 145.8L416 145.9L414 146.1L412 146L410 146.2L408 145.5L406 145.5L404 145.4L402 145.9L400 145.8L398 146.2L396 146.4L394 146.3L392 146.7L390 147.2L388 147.3L386 147.4L384 147.8L382 148.1L380 147.8L378 147.9L376 148.4L374 148.9L372 148.4L370 148.9L368 148.7L366 149.5L364 149L362 148.6L360 148.8L358 149.6L356 149.9L354 150L352 149.6L350 149.2L348 148.6L346 148.6L344 148.4L342 147.6L340 147.4L338 146.8L336 147L334 146.5L332 145.6L330 145.5L328 145.6L326 146.3L324 146.4L322 146.8L320 147.7L318 147.6L316 148L314 148.1L312 148.9L310 149.1L308 149.5L306 149.8L304 149.5L302 149.8L300 150.6L298 150.4L296 150.4L294 149.9L292 150.4L290 150.5L288 150.3L286 149.5L284 149.5L282 149.6L280 149.6L278 149.6L276 150.8L274 151.2L272 151.4L270 152L268 152.5L266 152.9L264 153.5L262 153.3L260 154.5L258 154.3L256 153.8L254 153.6L252 153.6L250 153.6L248 153L246 152.5L244 151.9L242 151.4L240 151.2L238 150.6L236 150.5L234 149.5L232 149.3L230 149.6L228 149.7L226 148.6L224 149L222 149.1L220 148.5L218 148L216 148.5L214 147.7L212 147.8L210 147.3L208 147.8L206 147.7L204 147.1L202 147L200 147.2L198 147.2L196 147L194 147.5L192 147.2L190 147.8L188 148.1L186 147.9L184 148L182 147.4L180 147.3L178 147.1L176 147.5L174 147.3L172 147.4L170 147.4L168 147.4L166 146.9L164 147.1L162 147.2L160 146.5L158 147.4L156 146.5L154 147L152 146.9ZM152 224.2L154 224L156 224.5L158 224.7L160 224.6L162 224.5L164 224.7L166 225.4L168 225.8L170 225.9L172 225.9L174 225.9L176 226.4L178 226.3L180 226.2L182 227L184 226.3L186 227.4L188 226.7L190 227.5L192 227.3L194 227.2L196 226.9L198 227L200 227.1L202 228L204 227.2L206 227.7L208 227.4L210 228.1L212 228.2L214 227.6L216 227.8L218 228L220 228L222 228.5L224 227.7L226 228.1L228 228.3L230 228.9L232 229L234 228.9L236 228.6L238 228.7L240 229.4L242 229.3L244 230.3L246 230.7L248 230.3L250 230.8L252 230.8L254 230.7L256 231.2L258 231L260 230.8L262 230.9L264 230.6L266 230.5L268 230.2L270 230.1L272 230.5L274 229.4L276 229.6L278 229.6L280 229.1L282 229.6L284 229L286 229.1L288 229.8L290 229.2L292 229.7L294 229.4L296 229.2L298 229.7L300 228.9L302 229.8L304 229.2L306 228.8L308 228.5L310 228.8L312 228.7L314 228.1L316 227.8L318 227L320 227L322 226L324 225.8L326 225.2L328 224.8L330 224.9L332 225.6L334 225.2L336 225.1L338 225.5L340 225.3L342 226.2L344 226.4L346 227.4L348 227.3L350 227.9L352 228.7L354 229.3L356 229.3L358 229.6L360 229.8L362 230.2L364 229.9L366 230.2L368 229.9L370 229.6L372 229.8L374 229.5L376 229.1L378 229.2L380 229.1L382 228.8L384 228.7L386 228.9L388 229.1L390 228.6L392 228.8L394 229.2L396 228.9L398 228.9L400 229.3L402 229.2L404 229.1L406 228.7L408 229.1L410 229.9L412 229.7L414 230.5L416 230L418 230.9L420 230.9L422 230.9L424 231.2L426 230.5L428 231.2L430 231.1L432 230.9L434 230.7L436 229.9L438 229.3L440 228.5L442 227.4L444 226.8L446 225.6L448 225L450 224.9L452 225.9L454 226.5L456 227.1L458 226.1L460 226L462 226.1L464 226.6L466 226.1L468 226.4L470 226.3L472 225.9L474 226.1L476 225.5L478 225.7L480 225.7L482 225.8L484 226L486 225.4L488 225.9L490 225.8L492 225.9L494 225.3L496 225.4L498 225.7L500 226L502 226.2L504 226.7L506 226.7L508 227.7L510 227.9L512 228.3L514 229.1L516 229.5L518 230.2L520 231L522 230.6L524 230.5L526 229.9L528 229.4L530 229.7L532 228.7L534 229.4L536 229.4L538 229.3L540 229.4L542 229.2L544 229.4L546 230L548 229.4L550 228.7L552 227L554 227.6L556 227.1L558 226.6L560 227.1L562 226.4L564 226.1L566 226.4L568 225.7L570 225.8L572 225.8L574 226.2L576 226.2L578 226.3L580 225.8L582 226.6L584 226.9L586 226.5L588 227.1L590 227.5L592 226.8L594 227L596 227.4L598 227.8L600 228.4L602 228.3L604 228.2L606 228.4L608 229.1L610 229.1L612 228.5L614 228.6L616 229.6L618 229.5L620 228.4L622 228.1L624 228L626 227.7L628 227.3L630 227L632 226.7L634 226.1L636 225.3L638 225.6L640 225.5L642 225.3L644 225.1L646 225L648 225.8L650 225L652 225.5L654 225.4L656 225.8L658 226.2L660 226.4L662 227.1L664 226.9L666 227.8L668 228L670 227.4L672 227.6L674 227.3L676 228L678 227.7L680 228.1L682 229.1L684 229.1L686 229.5L688 231.1L690 230.7L692 229.9L694 229.8L696 229.4L698 228.5L700 226.8L702 226.4L704 224.7L706 224L708 224.3L710 225.3L712 226.5L714 227.6L716 228.4L718 229L720 229.8L722 231.4L724 232.1L726 230.3L728 229.6L730 227.9L732 229.7L734 228.8L736 229.1L738 228L740 228.2L742 227.4L744 227.1L746 226.8L748 226.1L750 226.3L752 225.6L754 226.2L756 225.3L758 225L760 225.3L762 225.2L764 224.3L766 224.5L768 224.3L770 225.1L772 224.9L774 225.7L776 225.7L778 226.1L780 225.9L782 225.6L784 225.4L786 224.1L788 223.7L790 222.7L792 223.8L794 224.2L796 224.4L798 224.5L800 225.7L802 225.8L804 227L806 228L808 227.9L810 227.9L812 226.9L814 226.5L816 225.8L818 227.6L820 228.9L822 228.9L824 227.4L826 226.5L828 225.4L830 225.7L832 226.8L834 227.2L836 227.5L838 227.9L840 227.7L842 226.7L844 225.3L846 225.1L848 224.1L850 224.4L852 226L854 227L856 227.7L858 228.9L860 228.3L862 228.8L864 230L866 230.4L868 231L870 232.1L872 232.4L874 232.3L876 231.6L878 231.4L880 230.8L882 230.3L884 229.7L886 229.1L888 228.4L890 227.6L892 227.1L894 226.8L896 227.5L898 227.9L900 228.6L902 229.3L904 230L906 230.5L908 231.2L910 231.7L912 232L914 232.3L916 231L918 230L920 228.6L922 228.5L924 228.3L926 228.3L927 228.2L927 229.5L926 229.3L924 229.4L922 229.4L920 229.8L918 231L916 232.3L914 233.3L912 233L910 232.3L908 231.6L906 231L904 230.4L902 229.7L900 229.2L898 228.9L896 228.4L894 227.8L892 227.9L890 228.6L888 229.3L886 229.9L884 230.9L882 231.5L880 231.9L878 232.3L876 232.6L874 233.2L872 233.5L870 233.2L868 232.6L866 232.5L864 232.9L862 232.7L860 232L858 232.1L856 231.9L854 230.3L852 228.8L850 228.4L848 227.1L846 228.3L844 228.5L842 230L840 231.1L838 231.8L836 230.8L834 230.2L832 229.4L830 229.4L828 228.4L826 230.5L824 231.1L822 232.9L820 232.2L818 230.4L816 228.8L814 229.5L812 230.9L810 231.8L808 231.4L806 231.2L804 230.4L802 229.4L800 228.3L798 228.1L796 228.1L794 227.2L792 226.6L790 226.6L788 227.3L786 227.5L784 228.5L782 229.5L780 229.7L778 229.4L776 229.5L774 229L772 228.9L770 228.4L768 228.5L766 228.5L764 228.4L762 228.2L760 228.5L758 228.8L756 229.1L754 229.2L752 229.5L750 229.4L748 229.7L746 231L744 230.6L742 230.8L740 231.8L738 231.6L736 232.9L734 233.3L732 233L730 231.9L728 233.3L726 234.4L724 235.6L722 234.9L720 234.3L718 233.6L716 232.6L714 231.2L712 230.5L710 229.8L708 228.1L706 228L704 229.1L702 230.3L700 230.8L698 232.3L696 232.7L694 233.3L692 234.5L690 235L688 234.6L686 234.1L684 233.9L682 233.2L680 232.6L678 231.7L676 231.6L674 231.4L672 232.3L670 232.4L668 231.5L666 232.3L664 231.7L662 231.7L660 231.5L658 230.5L656 230.8L654 230.5L652 230.1L650 229.8L648 229.4L646 229.9L644 229.2L642 229.7L640 229.9L638 229.6L636 230.2L634 230.3L632 230.8L630 231.4L628 231.4L626 232L624 232.1L622 232.3L620 232.6L618 233.2L616 233.9L614 233.4L612 233.2L610 232.8L608 233.3L606 233.4L604 232.9L602 232.6L600 232.8L598 231.8L596 231.8L594 231.9L592 231.3L590 231.6L588 231.1L586 231.3L584 230.6L582 230.8L580 231.1L578 231.1L576 230.9L574 230.4L572 230.7L570 230.5L568 230.6L566 230.7L564 231.2L562 230.9L560 231.4L558 231.3L556 231.8L554 231.4L552 231.7L550 232.3L548 233.8L546 234.6L544 234.1L542 234.8L540 234.3L538 234.2L536 234.1L534 233.5L532 233.8L530 234.2L528 235L526 234.7L524 235.4L522 235.3L520 235.5L518 235.4L516 234.5L514 234.5L512 233.9L510 232.9L508 232.7L506 231.5L504 231.7L502 231.3L500 230.5L498 230.7L496 231.1L494 230.4L492 230.7L490 230.6L488 230.9L486 231L484 230.2L482 230.6L480 230.8L478 230.4L476 230.5L474 230.8L472 230.7L470 231.4L468 230.8L466 231.6L464 230.9L462 231.5L460 231.3L458 231.9L456 231.6L454 231.7L452 230.8L450 230L448 229.2L446 230.3L444 231.8L442 232.3L440 234L438 234.1L436 235.5L434 236.6L432 235.8L430 236.2L428 236.4L426 235.5L424 235.6L422 235.5L420 235.2L418 235.1L416 234.7L414 235.2L412 234.5L410 234.7L408 234.4L406 233.8L404 233.6L402 234.3L400 234.3L398 233.9L396 233.9L394 234.1L392 234.8L390 234.4L388 234.8L386 234.6L384 235.5L382 235.1L380 235.6L378 235.9L376 236.2L374 235.8L372 236.3L370 236.7L368 236.7L366 236.7L364 236.2L362 236.2L360 236.2L358 236L356 236.3L354 237.4L352 237L350 237.3L348 236.6L346 236L344 235.7L342 234.9L340 234.4L338 234.3L336 234.4L334 233.9L332 234.1L330 234.8L328 234.5L326 234.9L324 234.9L322 235.4L320 235.7L318 237L316 237L314 237L312 238.2L310 238.1L308 238.8L306 239L304 238.5L302 239.1L300 239.1L298 239.4L296 239.4L294 239L292 239.4L290 238.8L288 239.3L286 238.5L284 238.8L282 239.3L280 238.5L278 239L276 239.3L274 239.7L272 239.3L270 239.7L268 239.9L266 240.2L264 240.3L262 240.1L260 240.7L258 240.5L256 240.5L254 240.4L252 240.5L250 240.5L248 239.7L246 239.4L244 239.8L242 239L240 239L238 238.5L236 238.5L234 238.4L232 238.2L230 237.9L228 237.3L226 237.3L224 237.3L222 237.1L220 237.3L218 237.6L216 237.3L214 236.9L212 237L210 236.7L208 237L206 236.9L204 237.1L202 237L200 237.2L198 237.1L196 236.4L194 236.8L192 235.9L190 236.3L188 235.6L186 236.1L184 235.3L182 235.2L180 234.7L178 235.3L176 234.7L174 234.1L172 234.6L170 233.7L168 234.4L166 233.7L164 234L162 233.5L160 233.4L158 233.5L156 233.3L154 233.3L152 232.9ZM152 279.6L154 279.3L156 279.8L158 279.8L160 280.1L162 280.4L164 280.5L166 280.5L168 281.2L170 280.5L172 280.8L174 280.9L176 281.5L178 281.5L180 281.6L182 281.8L184 282.1L186 282.3L188 282.1L190 283L192 282.4L194 283.4L196 282.9L198 283.7L200 283.4L202 283.2L204 283.8L206 283.8L208 283.5L210 283.2L212 284L214 283.2L216 283.3L218 283.3L220 283.9L222 283.5L224 283.5L226 283.9L228 283.7L230 284.2L232 283.6L234 284.1L236 284.1L238 284.4L240 284.6L242 284.7L244 284.9L246 286.1L248 285.7L250 286.4L252 285.9L254 286.6L256 286.2L258 286.5L260 286.9L262 287.4L264 286.5L266 286.6L268 286.2L270 285.8L272 285.7L274 285.4L276 285L278 284.5L280 284.3L282 284.4L284 284.8L286 285.2L288 285.2L290 285.2L292 285.7L294 285L296 284.9L298 284.6L300 284.6L302 284.1L304 284.1L306 284.1L308 283.5L310 283.6L312 283.1L314 282.9L316 282.8L318 282.1L320 282.1L322 282.2L324 282.6L326 282L328 281.9L330 281.9L332 281L334 281.3L336 280.7L338 281L340 281.1L342 281.4L344 282.1L346 281.8L348 283.6L350 283.9L352 284.9L354 285.5L356 285.4L358 285.5L360 285.3L362 285.3L364 284.6L366 284.8L368 284.4L370 284.7L372 284.1L374 284.3L376 284L378 284.3L380 284.1L382 284.3L384 283.2L386 283.2L388 283.1L390 283.5L392 283.4L394 283.6L396 283.1L398 283.7L400 283.7L402 283.1L404 283L406 283.9L408 283.8L410 284.4L412 283.8L414 284.5L416 284.4L418 285.5L420 285.5L422 285.6L424 285.8L426 285.8L428 284.9L430 285L432 285.5L434 284.5L436 283.7L438 282.6L440 282.3L442 282.2L444 281.4L446 281.2L448 281.7L450 281.9L452 280.9L454 281.4L456 281.6L458 280.7L460 280.7L462 281.2L464 280.6L466 281.6L468 280.9L470 280.7L472 281.5L474 281L476 280.9L478 280.9L480 280.1L482 280.4L484 279.7L486 280.3L488 279.7L490 279.9L492 280.2L494 280.2L496 280.7L498 281.1L500 281.3L502 281.6L504 281.5L506 282.2L508 283L510 283.2L512 283.2L514 283.8L516 284.3L518 284.1L520 284.8L522 285.1L524 284.4L526 284.1L528 284.5L530 284L532 283.5L534 284L536 284.2L538 284.1L540 284.2L542 284.4L544 283.8L546 283.1L548 282.3L550 282.3L552 280.8L554 280.6L556 280.5L558 280.6L560 279.3L562 279.5L564 279.1L566 278.1L568 278.4L570 277.4L572 278.1L574 277.3L576 278L578 277.8L580 277.4L582 278.2L584 277.6L586 278.3L588 277.8L590 278.9L592 279.1L594 279L596 278.9L598 279.3L600 279.6L602 280.1L604 279.4L606 279.9L608 279.8L610 280.2L612 280.7L614 280.8L616 280.5L618 281L620 280.8L622 281.4L624 280.9L626 281.4L628 281.2L630 281.4L632 281.6L634 281.9L636 282.6L638 283L640 283.4L642 284L644 284.5L646 284L648 284.1L650 284L652 283.5L654 282.9L656 282.9L658 283.8L660 283L662 283.1L664 283.3L666 283.3L668 283.3L670 283.2L672 282.6L674 283.2L676 284.2L678 284.3L680 285.2L682 285.2L684 285.6L686 285.5L688 286.1L690 286.5L692 286.8L694 286L696 285.3L698 285L700 284.7L702 283.8L704 283.1L706 283.4L708 283.2L710 282.4L712 282.4L714 282.9L716 283.4L718 284.9L720 285.8L722 286.2L724 287.1L726 287.5L728 286.9L730 286.6L732 285.3L734 286.1L736 285.9L738 285.9L740 286L742 285.8L744 285L746 284.6L748 284.6L750 284.3L752 282.9L754 282.4L756 282.2L758 282.2L760 281.5L762 280.9L764 280.8L766 281.6L768 281.9L770 283.1L772 282.6L774 281.9L776 281L778 280.3L780 279.8L782 278.6L784 277.4L786 276.1L788 274.9L790 274L792 276L794 278.2L796 280.7L798 282L800 283.4L802 284.8L804 286L806 284.6L808 283.6L810 282.2L812 280.6L814 280.6L816 281.4L818 281.9L820 281.5L822 281.7L824 282.4L826 283.1L828 283.2L830 283.9L832 283.9L834 285.2L836 284.7L838 284.2L840 283.1L842 282.6L844 281.6L846 282L848 282.7L850 283.1L852 283.6L854 283.4L856 284.5L858 284.5L860 284.4L862 284.7L864 284.5L866 285.5L868 287.4L870 289.7L872 291.8L874 291.8L876 289.7L878 288.2L880 286.2L882 284.9L884 284.1L886 283.2L888 282.8L890 282L892 284L894 285.3L896 286.8L898 287.7L900 288L902 288.4L904 289.2L906 289.6L908 288.7L910 287.5L912 285.9L914 284.5L916 285.2L918 285.8L920 285.9L922 286.6L924 286.9L926 287.3L927 287.1L927 288.7L926 288.6L924 288L922 287.8L920 287.2L918 287.1L916 286.7L914 286.1L912 287.2L910 288.8L908 290.2L906 291.2L904 290.6L902 290.4L900 289.5L898 289.2L896 288.2L894 286.9L892 285.4L890 283.9L888 284.3L886 284.9L884 286L882 286.9L880 287.9L878 290.1L876 291.7L874 293.4L872 294.9L870 293.3L868 291.3L866 289.8L864 289.5L862 288.7L860 288.4L858 288.6L856 288.6L854 288.5L852 287.1L850 287.5L848 287L846 286.1L844 285.8L842 286.6L840 287.4L838 288.6L836 288.5L834 288.9L832 288.4L830 288L828 287.7L826 287.2L824 286.4L822 286.5L820 285.7L818 285.5L816 285.3L814 284.9L812 285L810 286.1L808 287.9L806 289L804 289.9L802 288.8L800 287.4L798 286.2L796 284.4L794 282.2L792 279.6L790 278.1L788 279.1L786 281.1L784 281.8L782 282.9L780 284.4L778 284.7L776 285.9L774 286.9L772 287.7L770 287.1L768 286.5L766 285.6L764 285.3L762 285.6L760 285.6L758 286.2L756 286.6L754 287.7L752 287.6L750 287.8L748 288.6L746 289.7L744 289.7L742 290.4L740 290.6L738 290.4L736 290.8L734 290.7L732 290.6L730 291.5L728 291.1L726 291.4L724 292L722 291.8L720 290L718 289.6L716 287.9L714 287.8L712 287.2L710 287.3L708 287.8L706 287.5L704 288.8L702 289.4L700 289.3L698 290.4L696 290L694 290.6L692 291.1L690 291.5L688 290.8L686 290.5L684 290.7L682 290.6L680 289.5L678 289.5L676 289.2L674 288.1L672 287.9L670 288.4L668 288.2L666 288.1L664 288.5L662 288.8L660 289L658 289L656 289.6L654 289.3L652 289.9L650 290.3L648 290.8L646 291.6L644 291.2L642 291.2L640 292L638 292.2L636 291.8L634 292.7L632 292.4L630 293.4L628 294.1L626 293.6L624 294.3L622 294.4L620 294.8L618 295.1L616 295.5L614 295.5L612 295.8L610 295.6L608 295.7L606 296.6L604 296.5L602 296.3L600 295.9L598 295.1L596 295L594 294.9L592 294.6L590 294.9L588 294.6L586 293.9L584 294.7L582 294L580 294.1L578 294.3L576 294.3L574 293.9L572 293.4L570 292.7L568 293L566 292.9L564 292.9L562 293L560 292.4L558 293.1L556 292.9L554 293.1L552 292.8L550 293.2L548 293.5L546 293.8L544 294.5L542 294.8L540 294.6L538 293.5L536 292.6L534 292.6L532 292.3L530 292.9L528 292.8L526 293.5L524 293.5L522 293.1L520 293.5L518 292.6L516 292.6L514 292.1L512 292.1L510 291.5L508 291.3L506 291.1L504 290.6L502 290.4L500 289.7L498 289.2L496 289.8L494 288.9L492 289.1L490 288.2L488 288.9L486 288.6L484 288.5L482 288.5L480 288.8L478 289.3L476 289.5L474 289.1L472 289.8L470 290L468 290.1L466 289.5L464 289.2L462 290.1L460 289.8L458 289.4L456 289.8L454 289.7L452 290.2L450 290.4L448 290.6L446 290L444 290L442 290.7L440 290.8L438 291.7L436 292.3L434 292.5L432 293.5L430 293.9L428 293.6L426 293.7L424 293.7L422 293.9L420 293.6L418 293.5L416 293.8L414 294.3L412 293.9L410 293.9L408 294.3L406 293.5L404 294L402 293.8L400 293.6L398 294.6L396 294.6L394 294.4L392 294.2L390 294.6L388 294.7L386 294.6L384 295.4L382 295.3L380 295.8L378 295.6L376 296.2L374 295.6L372 296.1L370 296.7L368 296.9L366 296.2L364 296.4L362 296.9L360 297L358 297L356 296.9L354 297.6L352 297.4L350 296.7L348 295L346 294.3L344 293.7L342 293.5L340 294L338 293.5L336 293.6L334 293.6L332 294.1L330 293.7L328 294.1L326 294.6L324 294.3L322 294.4L320 294.5L318 294.5L316 295.3L314 295.5L312 295.4L310 296.3L308 295.6L306 296.2L304 296.5L302 296.6L300 296.4L298 296.7L296 297.3L294 296.9L292 297.4L290 297.3L288 296.9L286 297.5L284 297L282 296.6L280 297.1L278 297.3L276 297.1L274 297.1L272 298L270 298L268 298.2L266 299L264 298.9L262 299.1L260 299L258 299.1L256 299.2L254 298.9L252 298.2L250 298.5L248 298.1L246 298.1L244 297.4L242 296.8L240 296.5L238 296.1L236 296.6L234 296.3L232 295.9L230 295.8L228 295.6L226 295.7L224 296L222 296.2L220 296.1L218 296.1L216 295.6L214 296L212 296.2L210 296.1L208 295.3L206 295.8L204 295.9L202 295.4L200 295.5L198 295L196 295.5L194 295L192 294.6L190 294.7L188 294.9L186 294.3L184 294.2L182 293.8L180 293.3L178 293.5L176 292.9L174 292.7L172 293.2L170 292.4L168 292.9L166 292L164 292.6L162 292.3L160 292.4L158 291.8L156 291.2L154 291.2L152 291.7ZM152 323.7L154 324L156 324.1L158 324.7L160 325.2L162 325.1L164 325.4L166 325.5L168 325.1L170 326L172 325.5L174 326L176 326.2L178 326L180 326.4L182 326.7L184 326L186 326.2L188 326.3L190 326.6L192 327.2L194 326.9L196 327.2L198 327.2L200 327.3L202 327.6L204 327.7L206 327.8L208 327.5L210 327.2L212 328.1L214 327.4L216 328.1L218 328.2L220 327.7L222 327.8L224 327.1L226 326.8L228 326.3L230 326.4L232 326.1L234 325.8L236 326.8L238 328.2L240 328L242 328.8L244 329.9L246 330.1L248 330.3L250 331.4L252 331.1L254 331.3L256 331.8L258 331.4L260 331.4L262 331.3L264 330.3L266 330.6L268 329.7L270 329.6L272 329.9L274 329.4L276 328.6L278 328.4L280 328.5L282 328.2L284 328.4L286 329.2L288 328.8L290 328.6L292 328.9L294 329.4L296 329.3L298 328.5L300 328.3L302 328.5L304 328.5L306 328.9L308 328.8L310 328.2L312 327.6L314 327.5L316 327.6L318 327.6L320 327.7L322 327.7L324 327.5L326 327.5L328 327.6L330 327L332 327.6L334 327.5L336 327.6L338 327.3L340 327.6L342 327.6L344 328L346 327.9L348 328.9L350 329.1L352 328.8L354 328.8L356 329.7L358 329.9L360 330.3L362 330.6L364 329.8L366 330.7L368 330.6L370 330.8L372 330.6L374 330.4L376 330L378 330.2L380 330.2L382 329.9L384 329.4L386 329.4L388 328.9L390 329.3L392 328.9L394 328.5L396 327.8L398 328.6L400 327.9L402 327.5L404 327.2L406 328.1L408 327.7L410 327.9L412 328.6L414 328.4L416 327.8L418 328L420 328.3L422 329L424 329.4L426 329.5L428 329.9L430 328.9L432 327.9L434 327.2L436 326.7L438 325.7L440 325.5L442 326L444 326.5L446 326.4L448 326L450 326.7L452 326.1L454 326.1L456 326.1L458 326.1L460 326.6L462 325.9L464 326.4L466 326.4L468 326.1L470 326.3L472 325.5L474 325.6L476 325.5L478 325.5L480 325.7L482 324.9L484 324.3L486 324.6L488 323.5L490 324.1L492 325.1L494 325L496 326.3L498 326.9L500 327.9L502 327.6L504 327.9L506 328.1L508 329.1L510 329.3L512 329.4L514 329.6L516 328.5L518 328.3L520 328.5L522 327.5L524 327.4L526 328.3L528 328.4L530 329.2L532 329.3L534 329L536 329.8L538 329.7L540 329.9L542 329.5L544 329.5L546 329.9L548 330.3L550 330.3L552 330.5L554 330.4L556 330.6L558 330.5L560 329.7L562 329.8L564 329.9L566 330.3L568 329.5L570 329.9L572 329.5L574 329L576 329.2L578 328.4L580 328.4L582 328.3L584 328.5L586 328.2L588 327.8L590 327.6L592 327.6L594 327.5L596 327.8L598 328.1L600 327.4L602 328.1L604 327.7L606 328.1L608 328.4L610 327.9L612 327.7L614 328.4L616 328L618 328.4L620 328.2L622 327.9L624 328.3L626 328.8L628 329.4L630 330.5L632 330.7L634 329.6L636 329.9L638 329.5L640 329.2L642 328.2L644 328.7L646 328.5L648 327.8L650 328.2L652 327.3L654 326.7L656 326.4L658 326.4L660 325.3L662 325.4L664 325.3L666 326.7L668 326.8L670 327.8L672 327.8L674 327.9L676 328.1L678 328L680 328L682 328.6L684 328.4L686 328.2L688 328.9L690 328.4L692 328.5L694 327.7L696 326.7L698 326.5L700 326.3L702 326.1L704 325.6L706 325.9L708 325.4L710 325.8L712 325.6L714 325.7L716 326.5L718 326.6L720 327.2L722 328.4L724 328.7L726 329L728 328.5L730 328L732 329.3L734 328.2L736 327.8L738 327.9L740 327.4L742 326.9L744 326L746 325.7L748 326.1L750 325.2L752 325L754 324.3L756 324.2L758 323.9L760 324.1L762 322.9L764 323.7L766 324.9L768 325.7L770 327.1L772 327.7L774 327.6L776 326.2L778 324.5L780 324.1L782 322.3L784 321.8L786 321.9L788 322.2L790 322.5L792 324.1L794 326.1L796 327.8L798 329.3L800 330.5L802 330.2L804 328.6L806 327L808 325.9L810 325L812 325.4L814 324.8L816 325.4L818 325.2L820 325.4L822 325.5L824 325.5L826 326L828 327L830 326.9L832 327L834 326.8L836 326.3L838 326.4L840 326.1L842 326.5L844 327.4L846 328.5L848 329.1L850 329.4L852 329.7L854 328.7L856 327.9L858 326.4L860 325.9L862 326.7L864 328.5L866 328.6L868 329.6L870 330.8L872 332.5L874 330.9L876 328.8L878 326.9L880 327.2L882 327.6L884 328L886 328.6L888 328.7L890 329L892 328.9L894 329.2L896 329.5L898 330.1L900 331L902 332.2L904 332.4L906 330.1L908 328.4L910 327.9L912 328.2L914 328.4L916 328.8L918 329L920 329.5L922 329.8L924 330L926 330.1L927 330.4L927 331.3L926 331.1L924 330.9L922 330.5L920 330.5L918 330.2L916 329.9L914 329.5L912 329.4L910 329.1L908 329.2L906 331.3L904 333.1L902 333.1L900 332.3L898 331.2L896 330.6L894 330.3L892 330L890 329.8L888 329.8L886 329.7L884 329.4L882 329L880 328.4L878 327.8L876 329.9L874 332.3L872 334.1L870 333.3L868 332.9L866 332L864 331.2L862 330.1L860 329.5L858 329.6L856 330.9L854 332.3L852 333.6L850 332.8L848 332.5L846 331.2L844 331.2L842 330L840 330.1L838 330.3L836 330L834 329.9L832 330.3L830 330L828 329.8L826 329.3L824 328.9L822 328.9L820 328.6L818 328.8L816 328.1L814 328.6L812 328.9L810 328.9L808 328.7L806 330.3L804 331.2L802 333.1L800 334.2L798 332.8L796 330.5L794 328.9L792 327.7L790 326.2L788 326.1L786 325.7L784 325.3L782 326.1L780 327L778 328.4L776 329.9L774 331.2L772 330.9L770 330.4L768 329L766 327.8L764 327.6L762 326.3L760 326.7L758 327.4L756 327.5L754 328.5L752 328.2L750 329.1L748 329.1L746 329.5L744 330.2L742 330.9L740 331.6L738 332L736 331.9L734 332L732 332.6L730 332.7L728 332.7L726 332.2L724 332.9L722 331.9L720 331.8L718 331.3L716 330.8L714 330L712 329.2L710 329.8L708 329.3L706 330L704 330.5L702 330.4L700 330.5L698 331L696 331.2L694 331.5L692 332.3L690 332.3L688 333.1L686 332.8L684 333L682 333L680 332.3L678 332.3L676 332.2L674 331.7L672 332.4L670 331.8L668 331.3L666 330.5L664 330.5L662 329.8L660 329.5L658 330.7L656 331.3L654 331.5L652 332.2L650 332.5L648 332.2L646 332.3L644 332.7L642 332.5L640 333L638 333.5L636 333.3L634 334L632 334.1L630 334.2L628 334.3L626 333.1L624 332.9L622 332.1L620 332.3L618 332.3L616 331.6L614 331.7L612 332L610 331.6L608 332.2L606 331.7L604 331.8L602 332.4L600 332.4L598 331.9L596 331.8L594 332.2L592 332L590 331.9L588 331.5L586 331.7L584 332.7L582 332.7L580 332.5L578 333.2L576 332.9L574 333.6L572 333.9L570 333.3L568 334L566 334.1L564 333.8L562 334L560 334L558 334.5L556 334.4L554 334.7L552 334.6L550 334.6L548 334L546 334.6L544 333.6L542 334.1L540 334.1L538 334L536 334L534 334.4L532 333.8L530 333.5L528 332.7L526 332.4L524 332.5L522 332.6L520 332.4L518 333.6L516 333.9L514 333.4L512 333.6L510 333.9L508 332.9L506 333.4L504 332.4L502 332.4L500 332L498 331.6L496 330.3L494 329.8L492 329L490 328.8L488 328.6L486 328.4L484 329.6L482 329.4L480 329.6L478 330.1L476 330.2L474 330.5L472 330.5L470 330.7L468 330.9L466 330.3L464 330.7L462 331.2L460 331L458 331L456 330.8L454 331.3L452 331.3L450 330.9L448 330.8L446 331L444 330.3L442 330.3L440 330.1L438 330.5L436 330.8L434 332.1L432 332.2L430 333.5L428 334.4L426 333.6L424 333.5L422 333L420 333.5L418 333.3L416 332.6L414 332.4L412 332.7L410 332.5L408 332.9L406 332.7L404 332.6L402 332.8L400 332.4L398 332.8L396 333.4L394 333.9L392 334L390 334.4L388 334.8L386 334.4L384 334.8L382 335.1L380 335.1L378 335.6L376 335.7L374 335.6L372 335.3L370 335.2L368 336L366 335.4L364 335.8L362 335.6L360 335.2L358 335.6L356 335.3L354 336.3L352 336.1L350 335.9L348 335.3L346 334.8L344 334.6L342 334.3L340 333.9L338 334.3L336 334.1L334 334.3L332 333.8L330 334.1L328 334.4L326 334.2L324 334L322 334.3L320 333.9L318 334.4L316 334.2L314 334.4L312 335L310 335.7L308 336.5L306 336.3L304 337.3L302 337.2L300 337.1L298 337.1L296 336.9L294 337.1L292 337.1L290 337.9L288 337.7L286 337.6L284 336.8L282 337.2L280 336.9L278 336.8L276 337.3L274 337.8L272 337.9L270 338.1L268 338.4L266 339L264 338.7L262 339.3L260 339.6L258 339.5L256 339.6L254 340L252 339.8L250 339.3L248 338.8L246 338.7L244 337.8L242 337.9L240 336.5L238 335.8L236 335.4L234 335.1L232 334.2L230 334.4L228 334.9L226 335.2L224 336L222 335.9L220 336.2L218 335.8L216 336.1L214 336.3L212 336.4L210 336L208 335.5L206 335.9L204 336.3L202 335.4L200 335.6L198 335.6L196 335.9L194 335.5L192 335.5L190 334.8L188 335.5L186 335.3L184 334.8L182 334.2L180 334.6L178 334.7L176 334.2L174 334.5L172 334.3L170 334.3L168 334.1L166 333.6L164 333.7L162 333.1L160 332.9L158 333.1L156 332.9L154 332.8L152 332.5Z" fill="#242424" filter="url(#bb)"/>
<path d="M152 138.4L154 138.4L156 139.1L158 139.4L160 138.7L162 138.7L164 139.1L166 139.4L168 138.9L170 139.6L172 139.2L174 139.5L176 139.7L178 139.9L180 139.6L182 139.8L184 139.2L186 139.2L188 140L190 140L192 139.7L194 139.1L196 139.6L198 138.9L200 139L202 139.6L204 139.4L206 139.3L208 139.4L210 139.9L212 139.6L214 139.7L216 140.3L218 140.1L220 140.7L222 140.9L224 140.5L226 141L228 141.1L230 141.5L232 141.2L234 142.1L236 141.8L238 141.5L240 141.6L242 142.3L244 142.4L246 142L248 143L250 142.8L252 142.8L254 143.1L256 143.3L258 142.9L260 142.8L262 143L264 142.6L266 142L268 141.2L270 141.6L272 141.3L274 141.6L276 141.5L278 141.1L280 141.4L282 141.6L284 141.9L286 141.9L288 142.4L290 142.4L292 142.4L294 142.2L296 142.8L298 142.3L300 142.6L302 142.2L304 142L306 142.2L308 142L310 141.1L312 141.2L314 141.3L316 140.9L318 140.4L320 140.2L322 139.3L324 138.7L326 138.5L328 137.3L330 138.4L332 138.1L334 138.6L336 139.6L338 139.2L340 139.8L342 140.3L344 140.1L346 140.4L348 141L350 141.8L352 142.9L354 142.6L356 142.6L358 143.7L360 143.2L362 144L364 143.9L366 143.8L368 143.9L370 143.4L372 143.6L374 143.3L376 142.7L378 143.1L380 142.1L382 142.1L384 141.7L386 142.2L388 141.9L390 141.5L392 142.1L394 141.8L396 142L398 141.6L400 141.1L402 141.4L404 142L406 142L408 141.4L410 141.8L412 141.7L414 142.1L416 141.8L418 142.2L420 141.9L422 142.4L424 142.3L426 142.7L428 143L430 143.8L432 143.6L434 143.9L436 142.8L438 142.9L440 142L442 141.3L444 140.2L446 139.7L448 140.3L450 140.2L452 140.1L454 140.1L456 140.3L458 140.5L460 140.9L462 140.8L464 140.7L466 141L468 141L470 141.2L472 141.1L474 140.3L476 140.5L478 139.9L480 139.7L482 139.4L484 139.1L486 138.7L488 138.7L490 138.7L492 138.3L494 139L496 138.8L498 138.9L500 138.6L502 138.8L504 139.8L506 139.8L508 140L510 140.5L512 140.6L514 141L516 141.7L518 141.9L520 141.8L522 142.5L524 142.4L526 142.5L528 142L530 142.6L532 142.9L534 142.7L536 142.7L538 142.7L540 142.3L542 142.3L544 141.8L546 141.8L548 142.3L550 141.4L552 141.6L554 141.5L556 140.8L558 141.4L560 140.7L562 140.6L564 141.1L566 140.7L568 140.2L570 140.9L572 140.7L574 140.4L576 140.3L578 140L580 139.8L582 140L584 139.3L586 138.9L588 138.8L590 138.6L592 138.7L594 139.2L596 139L598 139.4L600 139.3L602 139.6L604 140.4L606 140.2L608 139.7L610 139.6L612 139.1L614 139.1L616 139.1L618 138.8L620 139.1L622 139.2L624 138.6L626 138.9L628 139.1L630 138.5L632 138.2L634 139.1L636 138.5L638 139L640 139L642 139.5L644 139.3L646 139.3L648 139.7L650 139.3L652 139.5L654 138.9L656 139.4L658 140L660 140.1L662 140.1L664 139.8L666 140L668 140.2L670 140.2L672 140.7L674 140.8L676 141.1L678 140.9L680 141.2L682 141.4L684 141.6L686 142.5L688 141.9L690 141.8L692 142L694 141.6L696 141L698 140.7L700 139.7L702 139.6L704 138.7L706 138.5L708 139.1L710 138.4L712 138.5L714 138.3L716 139.5L718 140.7L720 141.5L722 143.1L724 143.6L726 142.6L728 142.3L730 141.9L732 140.4L734 140.6L736 141L738 141.5L740 141.4L742 141L744 140.5L746 140.1L748 139.8L750 138.9L752 139L754 138.9L756 137.9L758 138.1L760 137.9L762 137.5L764 136.8L766 136.9L768 136.6L770 136.8L772 136.9L774 137.2L776 137.2L778 137.7L780 138L782 138.6L784 138.7L786 140L788 139.1L790 136.9L792 135.3L794 133.5L796 135.5L798 136.6L800 138.4L802 138.7L804 139.5L806 140.7L808 141.3L810 141L812 140.9L814 140.8L816 140.5L818 140L820 139.7L822 139.4L824 139.1L826 139L828 138.8L830 139.1L832 139.2L834 140L836 140.2L838 141.3L840 140.4L842 140.3L844 139.5L846 138.9L848 138L850 138.7L852 139.6L854 140.3L856 141.3L858 141.3L860 141.5L862 141.9L864 142.1L866 142.1L868 142.1L870 142.1L872 142L874 142.4L876 142L878 141.7L880 141.7L882 141.8L884 141.4L886 141.7L888 140.8L890 140.5L892 139.7L894 138.9L896 138L898 138.6L900 139.6L902 140.2L904 141.3L906 142.1L908 142.6L910 143.6L912 144.3L914 145L916 145.7L918 145.6L920 144.7L922 144.1L924 143.5L926 142.5L927 142.2L927 143.8L926 143.9L924 144.7L922 145.5L920 146.3L918 146.9L916 147.2L914 146.3L912 145.5L910 144.8L908 144.4L906 143.8L904 142.8L902 142L900 141L898 140.4L896 139.8L894 140.6L892 141.1L890 141.5L888 142.5L886 142.9L884 143.1L882 143.4L880 143.5L878 143.4L876 143.6L874 143.6L872 143.5L870 144.1L868 143.9L866 143.4L864 143.7L862 143.3L860 143.1L858 142.7L856 142.6L854 142.2L852 140.9L850 140.2L848 140L846 140.2L844 141.2L842 141.7L840 142.7L838 143.5L836 142.9L834 142.5L832 142L830 141.5L828 140.6L826 141L824 141.3L822 141.6L820 142L818 142.7L816 142.4L814 143.3L812 143.1L810 143.7L808 143.8L806 142.7L804 142.4L802 141.6L800 140.1L798 138.7L796 137.9L794 136L792 137.7L790 139.7L788 141.3L786 142L784 141.3L782 140.9L780 140.4L778 140L776 140.1L774 140L772 139.5L770 139.8L768 139.4L766 138.9L764 139.9L762 140.1L760 140.4L758 140.6L756 140.9L754 140.9L752 141.7L750 141.6L748 142.1L746 143.2L744 143.7L742 144L740 144L738 144.2L736 143.1L734 143.4L732 142.6L730 144.9L728 145.5L726 145.9L724 146.2L722 145.1L720 144.1L718 144L716 143L714 141.4L712 141.2L710 141.8L708 141.4L706 141.4L704 141.5L702 142.1L700 142.7L698 143.6L696 144.2L694 143.9L692 144.8L690 145.4L688 145.9L686 145L684 145.3L682 144.8L680 144.5L678 144L676 144L674 143.6L672 143.8L670 143.4L668 143.2L666 143.7L664 143.4L662 143.9L660 143.8L658 143.6L656 143.2L654 143.9L652 144L650 144.2L648 145L646 145.5L644 145.8L642 146L640 147.2L638 147.4L636 147.7L634 147.4L632 148.2L630 148.3L628 148.8L626 148.2L624 148.5L622 149.1L620 149.2L618 149.2L616 149.1L614 149.5L612 149.2L610 149.8L608 149.1L606 149.4L604 150L602 149.2L600 148.8L598 149L596 148.2L594 147.5L592 147.4L590 146.7L588 146.4L586 145.2L584 145.1L582 145.3L580 144.7L578 145.1L576 144.8L574 144.7L572 144.8L570 145.1L568 144.5L566 144.2L564 144.3L562 145.1L560 144.8L558 144.3L556 144.8L554 144.4L552 144.7L550 144.9L548 144.9L546 145.5L544 145.2L542 145.6L540 146.3L538 146.2L536 145.8L534 145.3L532 146.2L530 145.6L528 146.2L526 146.1L524 145.8L522 145.5L520 144.7L518 145.2L516 144.6L514 144.2L512 144.2L510 144L508 143.1L506 143.3L504 142.9L502 142.1L500 142L498 142.3L496 141.7L494 142L492 142.5L490 142.4L488 141.9L486 142L484 142.5L482 142.1L480 142.5L478 143.4L476 143.5L474 143.4L472 144.7L470 144.2L468 144L466 143.8L464 144L462 143.7L460 143.5L458 144.2L456 144.1L454 143.5L452 143.5L450 143.1L448 143.6L446 142.8L444 143.6L442 144.4L440 145L438 145.4L436 146.7L434 147.4L432 146.9L430 147L428 146.8L426 146.3L424 146.1L422 145.8L420 145.3L418 145.2L416 145.2L414 145.4L412 144.6L410 145.2L408 145.2L406 144.4L404 144.6L402 144.4L400 145L398 145.1L396 145.8L394 145.9L392 146.1L390 146.3L388 146.1L386 146.3L384 146.8L382 146.7L380 147.5L378 147.2L376 147.8L374 147.6L372 148.5L370 147.8L368 148.6L366 147.8L364 147.8L362 148.4L360 147.8L358 148.7L356 148.7L354 148.9L352 149.4L350 148.6L348 147.8L346 147.1L344 146.5L342 147L340 146.1L338 145.7L336 145.3L334 145.7L332 144.9L330 144.2L328 144L326 144.9L324 145L322 145.8L320 146.3L318 146.2L316 146.7L314 147.2L312 147.9L310 148.2L308 148.4L306 148.5L304 148.8L302 149L300 149.3L298 149L296 149.1L294 149.6L292 149.1L290 148.5L288 149.1L286 149.1L284 148.7L282 148.1L280 148.8L278 148.8L276 149.7L274 149.8L272 150.6L270 151.3L268 151.7L266 152.2L264 152.2L262 153.1L260 153.4L258 153.5L256 153.5L254 153.3L252 153.1L250 152.6L248 151.8L246 152.1L244 150.6L242 150.3L240 150.1L238 149.2L236 149.5L234 149L232 148.7L230 148.2L228 148.2L226 147.8L224 148.2L222 147.9L220 147.2L218 147.7L216 147.4L214 146.4L212 147L210 147L208 146.3L206 146.2L204 146.4L202 146.2L200 145.9L198 146.3L196 146.2L194 145.9L192 146.5L190 146.6L188 146.7L186 147L184 146.9L182 146.3L180 146.9L178 146.4L176 146.4L174 146.2L172 145.8L170 145.6L168 146.2L166 146L164 146L162 146.1L160 145.6L158 146.3L156 145.8L154 146.2L152 145.5ZM152 224.9L154 225.6L156 225.9L158 225.9L160 225.7L162 225.7L164 225.8L166 226.1L168 226.8L170 227L172 226.6L174 227.2L176 226.9L178 227.6L180 227.9L182 227.8L184 227.7L186 228.2L188 228.3L190 227.8L192 228.7L194 228.7L196 228.2L198 228.5L200 228.2L202 228.5L204 229.1L206 228.8L208 229.1L210 228.8L212 228.7L214 229.2L216 228.6L218 229.1L220 229L222 229L224 229.7L226 229.8L228 229.6L230 229.5L232 230.1L234 229.4L236 230.4L238 230.4L240 230.3L242 230.8L244 230.8L246 231.6L248 231.7L250 231.4L252 231.6L254 231.6L256 231.7L258 232.2L260 231.9L262 232.3L264 232.1L266 231.6L268 231.2L270 231.3L272 231.5L274 231.5L276 230.7L278 230.2L280 230.2L282 230.1L284 230.3L286 230.1L288 230.6L290 231.1L292 230.4L294 230.5L296 231L298 230.6L300 230.2L302 230.4L304 230.7L306 229.9L308 230.4L310 229.7L312 229L314 229.3L316 228.7L318 228.1L320 227.7L322 227.3L324 227.3L326 226.9L328 226.2L330 226.6L332 226.4L334 226.3L336 226.7L338 226.9L340 226.7L342 227.7L344 228L346 228.3L348 229L350 229.4L352 230.3L354 230.1L356 230.8L358 231.2L360 230.7L362 231.2L364 230.8L366 230.4L368 231.2L370 230.7L372 230.1L374 230.2L376 230.2L378 230.6L380 229.7L382 230.3L384 229.7L386 229.3L388 230.1L390 229.6L392 229.9L394 230.1L396 230.4L398 229.6L400 229.6L402 229.3L404 229.5L406 230.3L408 229.7L410 230.7L412 230.6L414 231.1L416 230.8L418 231.1L420 231.5L422 231.6L424 231.4L426 231.2L428 231.9L430 231.6L432 232L434 232L436 231.4L438 230.7L440 229.7L442 228.6L444 227.6L446 226.3L448 225.3L450 226.2L452 227L454 227.6L456 227L458 227.1L460 226.9L462 227.4L464 226.7L466 227.1L468 227.1L470 227.3L472 226.9L474 226.7L476 226.2L478 226.8L480 226.5L482 226.9L484 226L486 226.6L488 226.8L490 225.9L492 226.4L494 226.7L496 227L498 226.4L500 226.4L502 226.5L504 227.1L506 228L508 228.7L510 228.3L512 229.6L514 230.4L516 230.6L518 230.8L520 231.3L522 231L524 230.9L526 230.8L528 230.3L530 230.5L532 229.8L534 229.5L536 230.3L538 230.1L540 230L542 230.3L544 230.6L546 230.6L548 229.7L550 228.8L552 227.7L554 228L556 228L558 227.2L560 226.9L562 227.2L564 227.4L566 226.6L568 226.9L570 226.7L572 226.9L574 227L576 226.9L578 227.4L580 227.1L582 226.7L584 227.7L586 227.6L588 227.7L590 227.8L592 227.4L594 228.1L596 228.1L598 228.8L600 228.3L602 229L604 229.4L606 229.1L608 229L610 229.6L612 229.8L614 230.2L616 230.3L618 229.5L620 229.5L622 229.2L624 228.8L626 228.7L628 227.8L630 228L632 226.8L634 226.8L636 226.2L638 225.7L640 225.7L642 225.4L644 225.5L646 226.3L648 225.9L650 226.1L652 226L654 226.8L656 227L658 226.8L660 227L662 227.8L664 228.3L666 228.3L668 227.9L670 227.9L672 228.5L674 228.2L676 227.9L678 228.2L680 228.5L682 229L684 230L686 231L688 231.1L690 231.5L692 230.4L694 230.5L696 229.6L698 228.6L700 228.1L702 227L704 225.8L706 224.1L708 224.8L710 225.5L712 227L714 227.8L716 228.7L718 230.3L720 230.7L722 231.8L724 232.5L726 231L728 230.3L730 228.9L732 229.9L734 229.8L736 229.4L738 228.6L740 228.5L742 228.2L744 227.9L746 227.5L748 226.7L750 227L752 226.8L754 226.3L756 226.1L758 226.2L760 225.8L762 225.4L764 225.3L766 225.4L768 225L770 225.4L772 225.9L774 226.1L776 226.1L778 226.3L780 226.9L782 226.3L784 225.3L786 224.9L788 224.1L790 223.8L792 224L794 224.2L796 224.7L798 225.1L800 226L802 226.3L804 227.3L806 228.3L808 228.7L810 229.3L812 227.8L814 227.3L816 226.4L818 228L820 229.5L822 229.9L824 228.4L826 227.6L828 226.3L830 226.4L832 227.3L834 227.9L836 228L838 228.4L840 227.7L842 227.3L844 226.1L846 225.1L848 224.9L850 225.1L852 226.5L854 228.1L856 228.9L858 228.8L860 229.3L862 229.8L864 230.1L866 230.7L868 231.3L870 232.1L872 232.6L874 232.5L876 231.9L878 231.6L880 231L882 230.4L884 229.8L886 229.1L888 228.5L890 228L892 227.1L894 227.1L896 227.6L898 228.1L900 228.7L902 229.4L904 230L906 230.7L908 231.3L910 231.9L912 232.3L914 232.6L916 231.3L918 230.1L920 229L922 228.6L924 228.6L926 228.6L927 228.5L927 229.1L926 229.1L924 229.2L922 229.1L920 229.5L918 230.7L916 231.9L914 233.2L912 232.8L910 232.1L908 231.4L906 230.8L904 230.2L902 229.6L900 229.1L898 228.6L896 228.2L894 227.6L892 227.8L890 228.4L888 229.2L886 229.8L884 230.5L882 231.1L880 231.7L878 232.2L876 232.7L874 233.1L872 233.3L870 232.8L868 232.5L866 232L864 232.3L862 231.7L860 231.3L858 231L856 230.7L854 230.1L852 228.6L850 227.7L848 227L846 227.8L844 228L842 229.3L840 230.3L838 231L836 230L834 229.7L832 229.3L830 228.7L828 228.5L826 229.3L824 231L822 232.3L820 231.9L818 229.6L816 228L814 229.1L812 230.2L810 230.9L808 231.5L806 230.1L804 229.7L802 228.9L800 228L798 227.8L796 227L794 226.9L792 226.2L790 225.6L788 226.4L786 227L784 227.5L782 228.8L780 229.3L778 228.6L776 229L774 228.6L772 227.9L770 228.2L768 227.8L766 227.3L764 227.7L762 227.5L760 228.4L758 228.6L756 228.7L754 228.4L752 229L750 229.2L748 229.7L746 230.1L744 230.6L742 230.7L740 230.8L738 231.2L736 231.9L734 232.1L732 232.7L730 231.7L728 233.1L726 233.6L724 235L722 234.3L720 233.7L718 232.6L716 231.9L714 230.8L712 229.4L710 228.7L708 227.4L706 227.2L704 227.8L702 229.6L700 230.3L698 231.5L696 232.4L694 233.4L692 234.1L690 234.5L688 233.9L686 233.2L684 232.5L682 232.4L680 231.3L678 231.2L676 231.3L674 230.9L672 231.1L670 231.5L668 231.4L666 231.1L664 230.7L662 230.5L660 230.5L658 229.6L656 230.1L654 229.8L652 229.2L650 229.2L648 229.5L646 228.8L644 228.3L642 228.7L640 229L638 229.3L636 229.7L634 229.5L632 229.9L630 230.4L628 231.3L626 231.7L624 231.4L622 232.3L620 232.3L618 233L616 233L614 232.8L612 232.3L610 232.2L608 232.5L606 232.3L604 232.3L602 231.8L600 231.5L598 231.2L596 231.4L594 230.9L592 231.3L590 231L588 230.3L586 230.1L584 230L582 230.2L580 230.1L578 230.4L576 229.8L574 229.7L572 229.7L570 230L568 229.6L566 229.8L564 229.9L562 230.7L560 230.8L558 230.8L556 230.4L554 231L552 231.5L550 231.9L548 232.5L546 233.9L544 234L542 234L540 233.7L538 233.6L536 233.1L534 233.1L532 233.7L530 233.5L528 233.6L526 233.7L524 234.8L522 234.3L520 235.1L518 234L516 233.6L514 233.9L512 232.9L510 232.2L508 231.4L506 231.6L504 230.3L502 230.1L500 230.4L498 230.4L496 229.7L494 229.7L492 229.7L490 229.8L488 229.7L486 230.2L484 230.3L482 229.8L480 230L478 230.2L476 230.3L474 230L472 230.6L470 230.6L468 230.5L466 230.1L464 230.1L462 230.8L460 231L458 230.7L456 231L454 230.3L452 229.9L450 229.1L448 228.9L446 230.3L444 231.1L442 231.7L440 232.5L438 234L436 234.2L434 235.4L432 235L430 234.7L428 235.2L426 235.1L424 235.3L422 234.4L420 235.2L418 234.3L416 234.4L414 234.3L412 233.9L410 234L408 233.7L406 233.7L404 233.5L402 233.5L400 233L398 232.9L396 233L394 233.6L392 233.4L390 233.8L388 233.6L386 233.7L384 233.9L382 234.5L380 234.2L378 234.7L376 235.1L374 235.2L372 235.2L370 235.7L368 235.5L366 235.8L364 235.5L362 235.6L360 235.9L358 235.6L356 235.9L354 236.5L352 236.3L350 235.7L348 235.6L346 234.5L344 234.5L342 234.3L340 233.8L338 233.4L336 233L334 232.9L332 232.8L330 233L328 233.1L326 233.2L324 234.1L322 234.3L320 235L318 235.5L316 236.3L314 235.9L312 236.8L310 237.1L308 237.2L306 237.5L304 237.7L302 238.1L300 237.7L298 238L296 237.5L294 238L292 237.8L290 237.5L288 237.4L286 238L284 237.5L282 237.6L280 237.9L278 238.4L276 238.2L274 237.9L272 238.6L270 239.1L268 239.1L266 238.5L264 239.2L262 239.1L260 238.9L258 239.7L256 239.5L254 238.9L252 239.3L250 239.2L248 239.3L246 239.1L244 238.1L242 238.4L240 237.8L238 237.2L236 237.2L234 236.7L232 236.7L230 236.9L228 236.7L226 236.1L224 235.9L222 235.9L220 236.2L218 235.8L216 235.9L214 236L212 235.9L210 235.9L208 235.6L206 235.7L204 235.5L202 236.1L200 235.1L198 235.6L196 234.9L194 235.1L192 234.8L190 234.5L188 235.3L186 234.7L184 234.5L182 234.2L180 234.3L178 233.5L176 233.7L174 233.3L172 233.7L170 233.5L168 233.2L166 232.9L164 232.7L162 232.8L160 231.8L158 231.7L156 232L154 231.7L152 231.7ZM152 280.4L154 280.6L156 280.9L158 280.7L160 281.2L162 281.4L164 281.8L166 281.8L168 282.1L170 281.8L172 282.7L174 282.2L176 282.2L178 282.8L180 283.3L182 283.1L184 283.1L186 283.4L188 284.2L190 283.7L192 284.1L194 283.7L196 284L198 284L200 284.9L202 284.5L204 284.9L206 285L208 284.6L210 284.8L212 284.8L214 284.9L216 284.8L218 284.9L220 284.6L222 285.3L224 284.9L226 284.6L228 284.9L230 284.8L232 285.2L234 285.3L236 284.9L238 284.8L240 285.9L242 286.2L244 286L246 286.9L248 287.5L250 287.2L252 287.7L254 287.6L256 287.6L258 288.2L260 288.4L262 287.6L264 288.1L266 287L268 287L270 286.3L272 286.5L274 285.8L276 286.5L278 286.3L280 285.9L282 285.4L284 285.6L286 285.5L288 286.2L290 286.2L292 286L294 286L296 286.4L298 285.8L300 285.6L302 286.1L304 285.9L306 285.2L308 285.4L310 285.1L312 284.2L314 284.4L316 283.7L318 283.3L320 284.1L322 283.4L324 283.4L326 283.1L328 282.6L330 282.6L332 282.3L334 282.8L336 282.7L338 281.9L340 282.8L342 282.4L344 282.9L346 282.9L348 284.4L350 285.4L352 286.3L354 286.6L356 286.2L358 286.5L360 286.5L362 285.6L364 286L366 286.2L368 285.9L370 286L372 285.5L374 285.8L376 285.2L378 284.9L380 285.2L382 285.1L384 285L386 284.8L388 284.4L390 284.9L392 285L394 284.5L396 284.6L398 284.8L400 284.2L402 283.9L404 284.4L406 284.2L408 285.3L410 285.4L412 285.5L414 285.4L416 286L418 286.2L420 286.8L422 286.3L424 286.1L426 286.8L428 286.8L430 286.4L432 286.4L434 285.3L436 284.4L438 284.3L440 283L442 282.9L444 282.7L446 283.2L448 282.6L450 282.2L452 282.3L454 281.8L456 281.8L458 282L460 282.5L462 282.1L464 281.9L466 282.5L468 282.6L470 282L472 282.3L474 281.9L476 281.8L478 281.8L480 281.5L482 281L484 281.4L486 281L488 280.8L490 280.6L492 281.3L494 281.3L496 281.6L498 282.3L500 282.1L502 282.6L504 283.3L506 283.9L508 284.2L510 283.8L512 284.1L514 284.5L516 284.6L518 285.7L520 285.5L522 286.1L524 286.1L526 285.6L528 285.1L530 284.9L532 285.3L534 284.9L536 285.4L538 286L540 286.2L542 285.8L544 284.4L546 284.4L548 284.1L550 283.4L552 282.3L554 281.6L556 281.3L558 281.3L560 281L562 280.2L564 280.4L566 279.2L568 279.7L570 278.8L572 279.3L574 278.6L576 278.3L578 278.7L580 278.6L582 279.4L584 278.7L586 278.8L588 279.5L590 279.4L592 279.7L594 279.6L596 279.7L598 280.1L600 280.3L602 280.6L604 281.3L606 281.5L608 281L610 281L612 281.9L614 281.8L616 281.9L618 282.2L620 282L622 281.8L624 282.8L626 282.3L628 282.1L630 282.5L632 282.8L634 283.2L636 283.5L638 284.2L640 284.6L642 284.9L644 284.8L646 284.8L648 284.7L650 285.2L652 284.7L654 284.3L656 283.7L658 283.9L660 284L662 283.8L664 284.4L666 283.8L668 284L670 283.9L672 283.9L674 284.5L676 284.1L678 285.5L680 285.4L682 286.2L684 286.5L686 286.2L688 286.9L690 286.8L692 286.9L694 286.7L696 285.8L698 285.7L700 285.7L702 284.9L704 284L706 283.8L708 283.9L710 283.6L712 282.6L714 283.1L716 284L718 285.3L720 286L722 287.6L724 288.4L726 288.1L728 287.7L730 287.6L732 286.3L734 286.1L736 286.7L738 286.4L740 286.7L742 286.1L744 285.6L746 285.8L748 285.2L750 284.4L752 283.5L754 283.2L756 282.8L758 282.2L760 282L762 281.2L764 281.6L766 281.9L768 282.9L770 283.5L772 283.8L774 283L776 281.8L778 281.4L780 280.3L782 279.7L784 278.4L786 277L788 275.7L790 274.9L792 276.7L794 278.7L796 281L798 283L800 283.6L802 285.7L804 286.6L806 285.4L808 284.6L810 283.2L812 281.5L814 281.7L816 282.1L818 281.8L820 282.1L822 282.5L824 283.2L826 283.6L828 284.3L830 284.9L832 285.1L834 285.7L836 284.8L838 284.8L840 283.8L842 283.2L844 282.9L846 282.2L848 283.2L850 283.8L852 283.7L854 284.1L856 284.4L858 284.9L860 284.9L862 285.7L864 285.9L866 286.4L868 288.3L870 290.6L872 292.9L874 292.2L876 290.2L878 288.4L880 286.7L882 285.2L884 284.6L886 283.7L888 283.1L890 282.6L892 284.1L894 285.4L896 287.2L898 287.7L900 288.2L902 288.7L904 289.2L906 290L908 289.2L910 287.7L912 286.2L914 285.1L916 285.4L918 285.9L920 286.3L922 286.5L924 287L926 287.5L927 287.5L927 288.3L926 288.4L924 287.8L922 287.6L920 287.2L918 286.8L916 286.2L914 285.9L912 287.1L910 288.5L908 290.1L906 290.7L904 290.3L902 290L900 289.5L898 288.8L896 288.3L894 286.6L892 285.2L890 283.8L888 284.2L886 284.9L884 285.8L882 286.6L880 288L878 289.6L876 291.6L874 293.4L872 294.1L870 292.5L868 290.6L866 289L864 288.8L862 288.2L860 288.6L858 287.5L856 287.7L854 287.7L852 286.8L850 286.3L848 285.6L846 285.1L844 285.2L842 286.5L840 286.6L838 287.9L836 287.7L834 288.5L832 288.2L830 287.5L828 287.1L826 285.9L824 286.1L822 285.5L820 285.3L818 285.2L816 284.6L814 284.8L812 284.8L810 285.5L808 287.2L806 288.7L804 289.7L802 288.2L800 286.9L798 285.5L796 284L794 281.3L792 279L790 277.2L788 279.1L786 280L784 281.4L782 281.9L780 283.1L778 283.9L776 284.6L774 285.4L772 286.3L770 286.8L768 285.4L766 285.1L764 284.6L762 284.5L760 284.7L758 285.9L756 286.1L754 286.2L752 286.9L750 288.1L748 287.7L746 289.1L744 289.5L742 289.4L740 289.5L738 289.1L736 289.7L734 289.5L732 289.9L730 290.3L728 290.9L726 290.7L724 291.3L722 290.7L720 289.7L718 288.7L716 288.1L714 287.2L712 286.8L710 286.8L708 286.8L706 287.7L704 287.3L702 287.8L700 288.2L698 289.7L696 289.5L694 290.7L692 290.3L690 290.6L688 290L686 290.4L684 289.8L682 289.5L680 289.5L678 289L676 287.9L674 288.1L672 286.8L670 287.1L668 287.1L666 287.4L664 287.9L662 287.5L660 288.3L658 288.2L656 288.1L654 288.9L652 289.1L650 289.6L648 289.5L646 290.4L644 290.9L642 290.5L640 290.4L638 291.2L636 291.3L634 290.8L632 291.7L630 292.5L628 292.9L626 293L624 292.7L622 293.1L620 293.7L618 294L616 293.9L614 294.2L612 294.1L610 294.8L608 294.8L606 294.9L604 295.3L602 295L600 294.6L598 294.5L596 294.7L594 294.2L592 293.9L590 293.7L588 293.6L586 293L584 292.7L582 292.7L580 292.5L578 293L576 292.3L574 292.7L572 292.5L570 291.9L568 291.6L566 291.6L564 291.8L562 291.5L560 292L558 291.3L556 291.8L554 292.1L552 292.2L550 292.6L548 292.7L546 292.7L544 292.8L542 293.4L540 293.1L538 293L536 291.6L534 291.6L532 291.3L530 291.3L528 291.7L526 291.9L524 292.2L522 292L520 292.5L518 291.8L516 291.1L514 291.5L512 291.2L510 290.9L508 290L506 290.3L504 289.5L502 288.8L500 288.8L498 288.8L496 287.9L494 287.8L492 287.9L490 286.9L488 287.8L486 287.7L484 287.7L482 287.9L480 287.8L478 287.8L476 288.3L474 288.7L472 288.5L470 288.7L468 289.1L466 288.3L464 288.8L462 288.2L460 288.5L458 288.8L456 288.7L454 288.7L452 289L450 288.6L448 289L446 289.4L444 289.2L442 289.9L440 289.8L438 290.4L436 290.9L434 291.8L432 292.6L430 292.7L428 292.6L426 292.9L424 292.6L422 293.1L420 293L418 292.7L416 293.3L414 293L412 292.9L410 293L408 292.5L406 292.7L404 292.5L402 293L400 292.7L398 293.3L396 293.3L394 293.1L392 293.5L390 293.8L388 293.4L386 293.8L384 293.8L382 294.6L380 294.5L378 294.8L376 294.9L374 295L372 294.8L370 295L368 294.9L366 295.1L364 295.9L362 296.2L360 296.3L358 296.2L356 296.4L354 296.5L352 296L350 295.3L348 294.2L346 293.4L344 292.3L342 292.6L340 292.7L338 292.2L336 292.5L334 292.6L332 292.3L330 292.8L328 292.7L326 292.6L324 293.1L322 293.6L320 293.8L318 294.1L316 293.6L314 293.8L312 294.3L310 295L308 294.9L306 295.4L304 295.8L302 296L300 295.6L298 295.9L296 296.5L294 296.7L292 296.5L290 296.5L288 295.8L286 296.2L284 295.4L282 295.6L280 295.3L278 296.3L276 296.3L274 296.3L272 296.1L270 297.1L268 297L266 297.2L264 297.9L262 297.7L260 297.9L258 297.8L256 297.9L254 297.2L252 297.8L250 297L248 297.2L246 297.3L244 296L242 296.1L240 295.6L238 295.2L236 294.9L234 295.3L232 294.6L230 294.9L228 294.8L226 294.7L224 294.5L222 295L220 294.6L218 295.1L216 294.8L214 294.6L212 294.7L210 295L208 294.7L206 294.5L204 294.8L202 294.4L200 293.8L198 294.2L196 294.2L194 293.4L192 293.6L190 294L188 293.1L186 293.4L184 292.6L182 292.5L180 293.2L178 292.7L176 292.2L174 292.5L172 291.5L170 291.2L168 291.3L166 291.1L164 290.8L162 291.3L160 290.9L158 290.9L156 290.6L154 289.9L152 289.7ZM152 325.3L154 325L156 325.1L158 325.4L160 325.6L162 326.2L164 326.2L166 326.6L168 326.4L170 326.1L172 327.2L174 326.6L176 326.5L178 327.4L180 326.8L182 327.7L184 327.3L186 327.8L188 328.3L190 327.6L192 328.1L194 327.6L196 328.5L198 328L200 328.5L202 328.8L204 328.9L206 329.1L208 328.5L210 328.5L212 328.6L214 328.5L216 328.6L218 329.1L220 328.5L222 328.4L224 328.5L226 328.3L228 327.6L230 327.1L232 326.7L234 327.1L236 328.3L238 329L240 329.1L242 330.4L244 331.1L246 331.5L248 332L250 332.1L252 332.1L254 332.3L256 332.5L258 332.8L260 332.6L262 331.6L264 331.4L266 331.2L268 330.7L270 331.2L272 330.9L274 329.7L276 329.8L278 329.8L280 329.3L282 329.2L284 330.1L286 329.6L288 329.8L290 330.1L292 329.9L294 330.5L296 330.1L298 330L300 330.2L302 330.2L304 329.5L306 329.9L308 329.4L310 329.5L312 328.5L314 328.4L316 328.8L318 328.6L320 328.3L322 328.7L324 328.2L326 328.6L328 328.3L330 328.6L332 328L334 328.1L336 328.6L338 328.4L340 327.9L342 328.8L344 328.9L346 329.1L348 329.7L350 329.8L352 329.5L354 329.7L356 330.4L358 330.9L360 331.4L362 330.7L364 330.9L366 331.6L368 331.2L370 331.6L372 331.3L374 330.7L376 330.8L378 330.7L380 330.3L382 330.4L384 330.3L386 329.8L388 330.2L390 329.9L392 329.5L394 329.7L396 329L398 328.7L400 328.6L402 328.1L404 328.2L406 328.3L408 328.8L410 329.1L412 329.2L414 329.2L416 328.8L418 329.3L420 329.3L422 330L424 330.3L426 330L428 330.6L430 329.4L432 329.2L434 327.7L436 327.1L438 326.6L440 326.3L442 326.8L444 326.8L446 327L448 327.3L450 326.5L452 327L454 326.8L456 327.3L458 326.9L460 327L462 327.1L464 326.4L466 326.6L468 326.6L470 326.7L472 326.7L474 326L476 326.2L478 325.7L480 326.4L482 326.3L484 325.8L486 324.8L488 324L490 324.6L492 325L494 326.6L496 327.5L498 327.5L500 328.7L502 328.4L504 328.6L506 329L508 329.2L510 329.5L512 329.9L514 329.5L516 329.1L518 328.8L520 329.4L522 328.4L524 328.4L526 328.4L528 328.8L530 329.3L532 330L534 330.1L536 330.2L538 330.5L540 330.1L542 330.6L544 330.3L546 330.3L548 330.7L550 331.3L552 330.9L554 330.8L556 331.3L558 330.8L560 331.1L562 330.8L564 330.1L566 330.8L568 330.7L570 330L572 329.8L574 329.6L576 330L578 329.4L580 329.5L582 328.9L584 328.8L586 328.7L588 328.3L590 329L592 328.8L594 328.5L596 328.7L598 328.6L600 328.9L602 328.4L604 328.6L606 328.3L608 328.3L610 328.8L612 328.2L614 328.7L616 328.4L618 328.7L620 328.5L622 328.8L624 329.7L626 330.1L628 330.2L630 331.1L632 331.3L634 330.4L636 330L638 330.1L640 329.7L642 329.2L644 328.9L646 328.9L648 328.5L650 328.7L652 328.1L654 328.1L656 327.5L658 327L660 325.9L662 325.7L664 326.7L666 326.8L668 327.9L670 327.9L672 328.9L674 329L676 329.2L678 329L680 328.6L682 329.5L684 329L686 329.7L688 329.2L690 328.8L692 328.3L694 328L696 327.7L698 327.2L700 326.7L702 326.7L704 327L706 326.1L708 326.7L710 325.9L712 325.7L714 326.5L716 326.6L718 328L720 328L722 329.3L724 329.2L726 329L728 328.9L730 329L732 329.8L734 329L736 328.8L738 328.2L740 328.1L742 327.7L744 327.3L746 326.5L748 326.3L750 326.1L752 325.4L754 325.3L756 324.9L758 324.2L760 324L762 323.9L764 324.2L766 325.4L768 326.6L770 327L772 328.3L774 328L776 326.6L778 325.3L780 324.2L782 323.2L784 322.2L786 322.5L788 322.7L790 323.8L792 325.1L794 326.4L796 327.8L798 329.6L800 331L802 330.2L804 328.8L806 327.6L808 326.2L810 326.4L812 325.9L814 325.7L816 325.2L818 325.5L820 325.7L822 326L824 326.2L826 326.6L828 327.3L830 327.2L832 327.5L834 327.4L836 327L838 327.4L840 327.5L842 327.6L844 328L846 328.4L848 328.9L850 330.3L852 330.5L854 329.7L856 328.3L858 326.8L860 326.9L862 327.8L864 328.5L866 329.2L868 330.6L870 331.7L872 332.8L874 331.3L876 329L878 327.2L880 327.6L882 328L884 328.4L886 328.8L888 328.9L890 329L892 329.3L894 329.4L896 329.7L898 330.4L900 331.3L902 332.4L904 332.4L906 330.4L908 328.4L910 328.1L912 328.4L914 328.7L916 329L918 329.2L920 329.6L922 329.8L924 330.2L926 330.4L927 330.6L927 331.1L926 331.1L924 330.7L922 330.4L920 330.2L918 329.9L916 329.6L914 329.4L912 329L910 328.8L908 329.1L906 331L904 333L902 333L900 332.1L898 331L896 330.2L894 330L892 329.8L890 329.8L888 329.7L886 329.4L884 329L882 328.5L880 328.2L878 327.8L876 329.8L874 332.1L872 333.7L870 332.9L868 332.5L866 331.3L864 331L862 329.9L860 329.1L858 328.8L856 330.1L854 331.5L852 332.5L850 331.9L848 331.1L846 330.8L844 330.3L842 329.3L840 329L838 329.3L836 329.6L834 329.5L832 329.5L830 329.4L828 329L826 329L824 328.8L822 328.2L820 327.7L818 327.7L816 327.5L814 327.9L812 327.8L810 328L808 328.3L806 329.4L804 331.4L802 332.5L800 333.2L798 331.7L796 330.6L794 328.5L792 327.2L790 326.1L788 325.2L786 324.7L784 324.3L782 325.1L780 326.6L778 327.8L776 328.9L774 330.8L772 330.8L770 329.9L768 328.4L766 327.8L764 326.6L762 326.5L760 326.3L758 326.9L756 327.7L754 327.4L752 327.8L750 328.7L748 328.6L746 329.5L744 330L742 329.8L740 330.6L738 331.3L736 331L734 331.3L732 331.7L730 331.7L728 331.4L726 331.9L724 332.2L722 331.3L720 331.4L718 330.1L716 329.9L714 329.5L712 329L710 328.7L708 328.8L706 329.1L704 329.7L702 329.9L700 329.2L698 329.9L696 330.8L694 331.3L692 331.3L690 331.5L688 332.5L686 332.3L684 332.4L682 331.7L680 331.6L678 331.4L676 331.4L674 331.8L672 331.6L670 331.1L668 330.4L666 330.1L664 329.6L662 328.9L660 329.6L658 329.4L656 330.8L654 330.3L652 331.1L650 331.7L648 332.1L646 331.6L644 332.1L642 331.9L640 332.1L638 333.1L636 333L634 333L632 333.4L630 334.1L628 333L626 332.8L624 332.1L622 331.5L620 331.1L618 331.5L616 331L614 331.6L612 331L610 330.9L608 331.6L606 331.3L604 331.7L602 331.5L600 331.8L598 331.6L596 331.3L594 331.5L592 331.6L590 331.4L588 331.4L586 331.7L584 332L582 331.5L580 332.4L578 332.5L576 332.3L574 333L572 332.5L570 333.4L568 333.6L566 333.3L564 332.9L562 333.2L560 333.9L558 334.1L556 333.7L554 333.9L552 334.3L550 333.6L548 334L546 333.9L544 333L542 333.3L540 332.9L538 333.3L536 333.5L534 333.4L532 332.7L530 332.2L528 332L526 331.6L524 331.5L522 331.7L520 332.2L518 332.4L516 332.9L514 332.7L512 332.8L510 332.6L508 332.8L506 332.3L504 331.8L502 331.6L500 332L498 330.6L496 330.2L494 329L492 328.6L490 327.4L488 327.8L486 327.6L484 328.7L482 329L480 329.2L478 329L476 329.4L474 329.2L472 329.5L470 329.4L468 330.2L466 329.9L464 330.3L462 330.4L460 330.1L458 329.7L456 330.2L454 329.8L452 330.4L450 329.6L448 330L446 330.4L444 330.4L442 329.5L440 329.7L438 329.8L436 330.4L434 330.8L432 331.6L430 332.6L428 333.8L426 333.7L424 332.8L422 332.9L420 332.6L418 332.5L416 332.6L414 332L412 331.9L410 331.5L408 331.7L406 331.6L404 331.3L402 331.9L400 332.4L398 332.9L396 332.4L394 333L392 332.9L390 333.6L388 333.8L386 333.5L384 333.9L382 334L380 333.9L378 334.6L376 334.3L374 334.3L372 334.4L370 334.6L368 334.4L366 334.9L364 334.4L362 334.3L360 334.4L358 335.1L356 335.1L354 334.7L352 335.4L350 334.5L348 334.6L346 334.5L344 333.6L342 333.8L340 333.6L338 333.2L336 333.2L334 333.1L332 333.3L330 333.3L328 333.3L326 333.9L324 333.6L322 333.3L320 333.1L318 333.3L316 333.5L314 333.4L312 333.9L310 334.5L308 335.1L306 335.7L304 335.7L302 335.7L300 336.3L298 336L296 336.6L294 336.1L292 336.4L290 336.1L288 336.2L286 336.1L284 335.5L282 336.1L280 335.4L278 335.8L276 336L274 336.8L272 336.4L270 337.5L268 337L266 337.4L264 337.5L262 338.3L260 338.8L258 338.5L256 339L254 338.8L252 338.2L250 337.9L248 338L246 337.9L244 337.5L242 336.8L240 335.4L238 334.9L236 334L234 333.5L232 333.5L230 333.6L228 333.4L226 333.9L224 334.8L222 335.2L220 334.8L218 335.4L216 335L214 335.2L212 335.1L210 335.4L208 335.2L206 334.5L204 335.2L202 334.7L200 334.3L198 334.1L196 333.9L194 334L192 334.4L190 334.5L188 334.2L186 333.5L184 334.2L182 333.9L180 333.9L178 333.2L176 333.5L174 333.1L172 332.8L170 332.6L168 332.3L166 332.9L164 332L162 332.3L160 332.3L158 332.3L156 331.9L154 331.1L152 330.9Z" fill="#515151" filter="url(#bc)"/>
<path d="M152 97.4L154 97.3L156 97.5L158 97.3L160 97.5L162 97.3L164 97.4L166 97.1L168 97L170 97.2L172 97.3L174 97.5L176 97.5L178 97.8L180 97.8L182 98.1L184 98.2L186 98.5L188 97.9L190 97.5L192 96.7L194 96.2L196 95.8L198 96.1L200 96.3L202 96.1L204 96.4L206 96.5L208 96.5L210 96.6L212 96.7L214 97.1L216 97.5L218 97.9L220 98L222 98.2L224 98.5L226 98.7L228 99.3L230 99.2L232 99.5L234 99.7L236 99.7L238 99.8L240 99.8L242 100L244 100.2L246 100.2L248 100.5L250 100.8L252 101.2L254 101.7L256 102L258 102.1L260 101.9L262 101.6L264 101.1L266 100.8L268 100.3L270 100L272 99.7L274 99.6L276 99.2L278 99.4L280 99.1L282 98.7L284 99.2L286 100.1L288 100.7L290 101.1L292 101.6L294 101.4L296 100.6L298 99.9L300 99.5L302 98.8L304 98.8L306 99L308 99.3L310 99.4L312 99.7L314 99.1L316 98.3L318 97.8L320 96.7L322 95.8L324 95.1L326 94.6L328 93.9L330 93L332 93.5L334 94.3L336 95L338 95.6L340 96.4L342 97.2L344 98.4L346 99L348 99.3L350 99.5L352 99.6L354 99.5L356 99.6L358 99.6L360 99.2L362 99.2L364 99.2L366 99.2L368 98.9L370 98.7L372 98.4L374 98.3L376 98.4L378 98L380 97.9L382 97.7L384 97.6L386 97.3L388 97.5L390 97.4L392 97.5L394 97.3L396 97.2L398 97.2L400 97.3L402 97.2L404 97.1L406 97.2L408 97.3L410 97.5L412 97.4L414 97.6L416 97.8L418 97.6L420 97.9L422 98.3L424 98.5L426 98.8L428 99.1L430 99.2L432 99.5L434 99.6L436 99.4L438 98.7L440 98.4L442 97.8L444 97.3L446 97.1L448 96.6L450 96.5L452 95.8L454 95.7L456 95.6L458 95.7L460 96L462 96.3L464 96.5L466 96.9L468 97.1L470 97.2L472 97.4L474 97.4L476 97.1L478 97.1L480 97.1L482 96.9L484 96.8L486 96.5L488 96.3L490 96.1L492 95.5L494 95.1L496 94.3L498 93.8L500 93.5L502 94.1L504 94.4L506 94.7L508 95.1L510 95.7L512 96.2L514 96.7L516 97.5L518 98L520 98.9L522 99.2L524 99.6L526 99.5L528 99.4L530 99L532 98.8L534 98.4L536 98.4L538 98.3L540 98.3L542 98.4L544 98.2L546 98.2L548 98.4L550 98.7L552 99.1L554 99L556 98.8L558 98.8L560 98.9L562 98.9L564 98.7L566 98.7L568 98.8L570 98.5L572 98.3L574 98L576 97.8L578 97.6L580 97.3L582 96.9L584 96.7L586 96.3L588 96.8L590 97L592 97.2L594 97.5L596 98L598 98.2L600 98.3L602 98.8L604 99L606 99.3L608 99.6L610 99.9L612 100.2L614 100.2L616 100.3L618 100.4L620 100.4L622 100.5L624 100.6L626 100.6L628 100.5L630 99.6L632 99L634 98.5L636 98.3L638 97.7L640 97.5L642 97.1L644 96.5L646 96.1L648 95.6L650 95.2L652 94.8L654 94.8L656 95.2L658 95.4L660 95.6L662 95.7L664 96.2L666 96.6L668 97.2L670 97.6L672 98.2L674 97.8L676 97.5L678 97.3L680 96.9L682 96.6L684 96.8L686 97.3L688 98L690 98.5L692 99L694 98.7L696 98.4L698 98.2L700 97.7L702 97.4L704 97L706 96.6L708 96.1L710 95.5L712 95.1L714 95.3L716 96.1L718 97.2L720 98.2L722 97.9L724 97.5L726 97.4L728 97.1L730 96.9L732 96.5L734 96.3L736 96.1L738 95.8L740 95.6L742 95.5L744 95.2L746 95L748 95L750 94.8L752 94.6L754 94.4L756 94.3L758 94L760 94.1L762 94.6L764 95.1L766 95.6L768 94.4L770 93.1L772 91.5L774 91.2L776 91.6L778 92.3L780 92.9L782 93.4L784 94L786 94.5L788 94.7L790 95.2L792 95.7L794 94.6L796 93.6L798 92.5L800 92.5L802 92.9L804 93.3L806 93.6L808 94.1L810 95L812 95.7L814 96.7L816 97.4L818 98.3L820 98L822 97.8L824 97.3L826 96.8L828 96.1L830 95.2L832 94.4L834 94L836 94.6L838 95.1L840 95.6L842 96L844 95.9L846 95.9L848 95.8L850 95.6L852 95.5L854 95.6L856 95.4L858 95.4L860 95.3L862 95.4L864 95.8L866 96.5L868 97.1L870 97.7L872 98.3L874 98.3L876 98.1L878 98L880 97.9L882 97.8L884 97.7L886 97.6L888 96.8L890 96L892 95.2L894 94.3L896 93.5L898 93.6L900 94.1L902 94.6L904 95.2L906 95.6L908 95.9L910 96L912 96.1L914 96.1L916 96.2L918 96.3L920 96.4L922 96.5L924 96.6L926 96.7L927 96.7L927 97L926 97L924 96.9L922 96.8L920 96.7L918 96.6L916 96.6L914 96.5L912 96.3L910 96.3L908 96.2L906 96L904 95.4L902 94.9L900 94.4L898 94L896 93.8L894 94.6L892 95.5L890 96.3L888 97.1L886 97.9L884 98L882 98.1L880 98.3L878 98.4L876 98.6L874 98.6L872 98.5L870 98L868 97.4L866 96.9L864 96.3L862 96L860 96L858 96L856 96.3L854 96.4L852 96.3L850 96.4L848 96.4L846 96.5L844 96.7L842 96.6L840 96.3L838 95.7L836 95.2L834 94.9L832 95.1L830 95.9L828 96.6L826 97.4L824 98.2L822 98.4L820 98.7L818 98.8L816 98.1L814 97.5L812 96.5L810 95.6L808 94.9L806 94.4L804 93.9L802 93.6L800 93.3L798 93.4L796 94.3L794 95.4L792 96.4L790 96L788 95.5L786 95.2L784 94.7L782 94.3L780 93.6L778 93L776 92.5L774 91.8L772 92.5L770 93.7L768 95.2L766 96.2L764 95.7L762 95.4L760 94.8L758 94.7L756 95.1L754 95.1L752 95.3L750 95.6L748 95.7L746 95.7L744 96.1L742 96.3L740 96.4L738 96.7L736 96.9L734 97L732 97.2L730 97.4L728 97.8L726 98.1L724 98.4L722 98.7L720 98.9L718 97.9L716 97L714 96L712 95.8L710 96.4L708 96.7L706 97.4L704 97.7L702 98.2L700 98.6L698 99L696 99.3L694 99.5L692 99.6L690 99.1L688 98.7L686 98.1L684 97.6L682 97.3L680 97.5L678 98L676 98.4L674 98.7L672 98.9L670 98.6L668 98L666 97.6L664 97.1L662 96.5L660 96.1L658 96L656 95.8L654 95.7L652 95.5L650 95.8L648 96.3L646 97L644 97.4L642 98L640 98.2L638 98.7L636 99.1L634 99.3L632 99.5L630 99.9L628 100.6L626 100.8L624 100.8L622 100.7L620 100.6L618 100.6L616 100.5L614 100.4L612 100.4L610 100.2L608 100.1L606 100L604 99.8L602 99.7L600 99.3L598 99.1L596 98.9L594 98.6L592 98L590 97.9L588 97.5L586 97.5L584 97.7L582 97.7L580 98.1L578 98.3L576 98.7L574 99L572 99.2L570 99.5L568 99.7L566 99.5L564 99.5L562 99.8L560 99.8L558 99.8L556 99.7L554 100L552 100L550 99.6L548 99.4L546 99L544 99.1L542 99.3L540 99.2L538 99.2L536 99.4L534 99.6L532 99.8L530 99.9L528 100.3L526 100.3L524 100.5L522 100.4L520 99.8L518 99L516 98.5L514 98L512 97.3L510 96.4L508 96.1L506 95.7L504 95.3L502 94.9L500 94.6L498 94.7L496 95.5L494 95.8L492 96.5L490 97.2L488 97.3L486 97.4L484 97.6L482 97.7L480 97.9L478 98L476 98.3L474 98.5L472 98.5L470 98.2L468 98L466 98L464 97.7L462 97.5L460 97.2L458 96.9L456 96.6L454 96.8L452 97.1L450 97.4L448 97.5L446 98L444 98.2L442 98.8L440 99.3L438 100L436 100.3L434 100.6L432 100.7L430 100.4L428 100.1L426 99.7L424 99.5L422 99.4L420 99.2L418 99L416 98.9L414 98.9L412 98.8L410 98.8L408 98.5L406 98.4L404 98.4L402 98.3L400 98.4L398 98.4L396 98.5L394 98.6L392 98.6L390 98.7L388 98.5L386 98.7L384 98.9L382 99L380 99L378 99.3L376 99.6L374 99.5L372 99.8L370 99.9L368 99.9L366 100.2L364 100.3L362 100.4L360 100.5L358 100.6L356 100.8L354 100.7L352 100.9L350 100.5L348 100.3L346 100L344 99.4L342 98.7L340 97.6L338 96.8L336 96.1L334 95.5L332 94.8L330 94L328 94.9L326 95.7L324 96.2L322 97.2L320 98.1L318 99L316 99.6L314 100.4L312 100.8L310 100.3L308 100.2L306 100.2L304 99.7L302 99.8L300 100.5L298 101.2L296 102L294 102.6L292 102.8L290 102.3L288 101.9L286 101.1L284 100.6L282 100.2L280 100.4L278 100.4L276 100.4L274 100.5L272 100.8L270 101.4L268 101.7L266 102L264 102.2L262 102.6L260 103.3L258 103.4L256 103L254 102.6L252 102.3L250 101.9L248 101.8L246 101.5L244 101.3L242 101.3L240 101.1L238 101.1L236 100.8L234 100.9L232 100.5L230 100.5L228 100.5L226 100.1L224 99.7L222 99.5L220 99.2L218 99L216 98.7L214 98.1L212 98L210 97.9L208 97.9L206 97.6L204 97.6L202 97.3L200 97.4L198 97.2L196 97.2L194 97.3L192 97.8L190 98.6L188 99.2L186 99.5L184 99.4L182 99.3L180 99.2L178 99.2L176 98.9L174 98.6L172 98.7L170 98.2L168 98.2L166 98.5L164 98.5L162 98.3L160 98.4L158 98.7L156 98.7L154 98.7L152 98.6Z" fill="#404040" filter="url(#bc)"/>
<path d="M152 140L154 140L156 140L158 139.6L160 139.6L162 139.8L164 139.8L166 140L168 139.8L170 140.6L172 140.7L174 140.6L176 140.8L178 140.2L180 140.9L182 140.3L184 140.9L186 140.9L188 140.8L190 140.6L192 140.7L194 140.7L196 140.5L198 140.8L200 140.1L202 140.1L204 140.6L206 140.9L208 141L210 140.7L212 141.3L214 141.1L216 141.7L218 141.2L220 142L222 141.8L224 142.3L226 141.8L228 142.8L230 142.5L232 142.5L234 143.2L236 142.7L238 143.1L240 142.9L242 143.6L244 143.4L246 143.9L248 144.1L250 143.8L252 144L254 144L256 144.4L258 144.6L260 144.6L262 143.9L264 143.6L266 143.2L268 142.5L270 143.2L272 142.7L274 142.9L276 142.8L278 142.2L280 142.3L282 142.9L284 142.9L286 143.7L288 143.1L290 143.5L292 143.9L294 143.7L296 143.9L298 143.8L300 143.3L302 143.1L304 143.5L306 143.5L308 142.9L310 142.7L312 141.8L314 142.4L316 141.4L318 141.4L320 141.3L322 140.7L324 140.2L326 139.3L328 138.4L330 139L332 139.7L334 140L336 140.3L338 140.3L340 141.1L342 141.4L344 141.7L346 141.7L348 142.7L350 143.2L352 143.3L354 143.7L356 143.6L358 143.7L360 144.3L362 144.2L364 144.7L366 144.8L368 144.5L370 144.7L372 144L374 144.1L376 143.4L378 143.1L380 143.2L382 143.3L384 142.4L386 143L388 142.9L390 142.2L392 142.2L394 142.2L396 142.6L398 142.1L400 142.4L402 141.9L404 142L406 142.1L408 142.6L410 142.6L412 142.4L414 142.3L416 142.3L418 142.5L420 142.6L422 142.8L424 143.4L426 143.7L428 143.5L430 144.3L432 144.7L434 144.8L436 143.7L438 143.3L440 142.1L442 141.4L444 140.9L446 140.3L448 140.8L450 141L452 140.9L454 140.8L456 141L458 140.9L460 140.9L462 141.3L464 141.3L466 141.6L468 141.3L470 141.8L472 141.6L474 141.4L476 141.1L478 140.7L480 140.2L482 139.6L484 139.5L486 139.6L488 139.8L490 139.8L492 139.6L494 139.7L496 139.5L498 139.3L500 139.3L502 140L504 140L506 140.6L508 140.7L510 141.6L512 141.6L514 141.8L516 141.9L518 142.6L520 142.5L522 143L524 143L526 142.8L528 143.1L530 143L532 143L534 143.1L536 143.3L538 143.1L540 143.1L542 143.1L544 142.9L546 142.9L548 142.5L550 142.5L552 142L554 142.4L556 142.3L558 141.9L560 141.7L562 141.6L564 142L566 141.8L568 141.5L570 141.7L572 141.3L574 141.2L576 141.3L578 141L580 140.5L582 141.2L584 140L586 140.2L588 140.6L590 139.7L592 140.6L594 140.6L596 140.3L598 140.7L600 141L602 141.3L604 141.6L606 141.2L608 141.2L610 140.5L612 140.5L614 140.1L616 140.1L618 140.1L620 140.5L622 139.9L624 140.4L626 140.3L628 139.4L630 139.4L632 139.6L634 140.4L636 140.6L638 140.1L640 140.7L642 140.2L644 140.6L646 140.3L648 140.1L650 140.3L652 140.3L654 140L656 140.4L658 140.2L660 140.6L662 140.9L664 140.9L666 140.8L668 141.2L670 141.3L672 141.7L674 141.4L676 141.5L678 141.8L680 142.3L682 142.5L684 142.4L686 142.6L688 143.2L690 142.9L692 142.3L694 142L696 141.3L698 141.2L700 140.3L702 139.9L704 139.5L706 139.3L708 139.2L710 139.4L712 138.9L714 139.3L716 140.5L718 141.4L720 142.4L722 143.4L724 143.9L726 143.4L728 143.1L730 142.3L732 140.9L734 141.3L736 141.6L738 142L740 142.5L742 142L744 141.6L746 140.9L748 140.2L750 139.7L752 139.3L754 139.3L756 138.8L758 138.5L760 138.3L762 138.2L764 137.9L766 137.6L768 137.7L770 137.5L772 137.6L774 137.7L776 137.9L778 138L780 138.4L782 139L784 139.7L786 140.7L788 139.7L790 137.7L792 135.8L794 134.4L796 135.8L798 137.3L800 138.6L802 139.8L804 140.4L806 141.2L808 141.5L810 141.4L812 141.4L814 141.1L816 141.1L818 140.6L820 140.5L822 140.2L824 139.9L826 139.6L828 139.3L830 139.5L832 140.2L834 140.4L836 140.9L838 141.5L840 141.2L842 140.6L844 140.1L846 139.5L848 138.7L850 139.2L852 140.2L854 141.1L856 141.7L858 141.9L860 142.1L862 142.2L864 142.5L866 142.6L868 142.8L870 142.9L872 142.7L874 142.6L876 142.5L878 142.4L880 142.3L882 142.2L884 142.1L886 142.1L888 141.5L890 140.7L892 140.1L894 139.5L896 138.8L898 139.3L900 140L902 140.8L904 141.7L906 142.6L908 143.3L910 144L912 144.6L914 145.4L916 146L918 146L920 145.2L922 144.5L924 143.8L926 143L927 142.9L927 143.4L926 143.5L924 144.3L922 144.9L920 145.7L918 146.4L916 146.4L914 145.7L912 145.1L910 144.3L908 143.8L906 143.1L904 142.1L902 141.4L900 140.5L898 139.6L896 139.3L894 140L892 140.5L890 141.2L888 141.9L886 142.5L884 142.6L882 142.8L880 142.8L878 142.9L876 143L874 143.1L872 143.3L870 143.3L868 143.2L866 143.1L864 142.9L862 142.7L860 142.5L858 142.5L856 142.2L854 141.6L852 140.6L850 139.8L848 139.3L846 139.9L844 140.6L842 141.3L840 142.1L838 142.9L836 142.4L834 141.9L832 141.2L830 140.8L828 140.1L826 140.6L824 141L822 141.2L820 141.7L818 142.1L816 142L814 142.3L812 142.7L810 142.7L808 142.9L806 142.4L804 141.5L802 140.7L800 140L798 138.2L796 136.8L794 135.5L792 136.9L790 138.8L788 140.7L786 141.6L784 141.1L782 140.3L780 139.3L778 139.4L776 139.3L774 139L772 139L770 138.6L768 138.5L766 138.8L764 138.8L762 139.3L760 139.4L758 139.8L756 140.3L754 140.4L752 140.6L750 141L748 141.6L746 142.2L744 142.9L742 143.4L740 143.8L738 143.1L736 142.7L734 142.3L732 142.3L730 143.7L728 144.5L726 144.8L724 145.3L722 144.7L720 144L718 142.7L716 142.1L714 140.8L712 140.5L710 140.5L708 140.8L706 141.3L704 141.3L702 141.3L700 142.1L698 142.8L696 142.9L694 143.4L692 143.9L690 144.6L688 144.5L686 144.5L684 144.4L682 144L680 144.1L678 143.9L676 143.7L674 143.3L672 143.3L670 142.9L668 143.2L666 142.7L664 142.9L662 142.7L660 143L658 142.7L656 142.5L654 142.4L652 143.3L650 143.5L648 144.1L646 143.8L644 144.5L642 145.2L640 145.8L638 146.3L636 146.8L634 146.3L632 147.4L630 147.3L628 147.3L626 147.7L624 147.7L622 147.3L620 148.2L618 147.9L616 147.6L614 148.2L612 148.3L610 147.9L608 148.5L606 148.7L604 148.3L602 148.4L600 147.8L598 147.9L596 147.5L594 146.6L592 146.4L590 145.9L588 145.4L586 144.4L584 143.9L582 144L580 143.6L578 143.7L576 143.9L574 143.9L572 144.1L570 143.9L568 143.6L566 143.7L564 143.7L562 144.1L560 143.7L558 143.6L556 143.9L554 143.9L552 144.3L550 144.3L548 144.7L546 144.5L544 144.9L542 144.8L540 145.2L538 145.4L536 145L534 144.9L532 144.9L530 145L528 144.8L526 145.1L524 144.8L522 144.8L520 144.5L518 144L516 143.8L514 143.4L512 143.5L510 143.4L508 142.8L506 142.7L504 142.1L502 141.4L500 141.2L498 141L496 141.1L494 141.2L492 141.2L490 141.4L488 141.4L486 141.3L484 141.6L482 141.4L480 142L478 142.6L476 142.8L474 142.9L472 143.6L470 143.2L468 143.5L466 143.2L464 143.4L462 142.8L460 142.9L458 143.1L456 142.9L454 142.7L452 142.4L450 142.6L448 142.6L446 142.5L444 142.6L442 143.3L440 144.3L438 144.9L436 146L434 146.4L432 146.3L430 145.7L428 145.9L426 145.4L424 144.8L422 144.8L420 144.8L418 144.2L416 144.2L414 144.2L412 144L410 144.5L408 144.5L406 144.3L404 143.9L402 144.4L400 144.1L398 144.6L396 144.8L394 144.8L392 144.7L390 145L388 145.1L386 145.6L384 145.8L382 146.2L380 146L378 146.4L376 146.6L374 146.5L372 147.3L370 147.2L368 147.6L366 147.6L364 147.3L362 146.9L360 147.7L358 147.7L356 148L354 147.8L352 147.5L350 147.1L348 146.7L346 146.3L344 145.5L342 145.8L340 145.7L338 144.7L336 144.1L334 144.2L332 143.7L330 143.8L328 143.4L326 143.9L324 144.6L322 145L320 145.7L318 145.3L316 145.5L314 146.7L312 146.3L310 146.5L308 147.4L306 147.1L304 147.4L302 148.2L300 147.8L298 148.5L296 147.7L294 147.8L292 147.6L290 147.5L288 147.6L286 147.3L284 147.8L282 146.8L280 146.9L278 147.7L276 148.4L274 148.7L272 149.4L270 149.8L268 150.4L266 151.1L264 150.6L262 151.8L260 151.6L258 152.2L256 152.3L254 151.5L252 151.7L250 151.5L248 150.7L246 151L244 150.1L242 149.1L240 148.7L238 147.9L236 148.1L234 148.2L232 147.2L230 147.4L228 147L226 147L224 146.8L222 146.7L220 146.6L218 145.8L216 145.8L214 145.8L212 146L210 145L208 144.9L206 145.1L204 144.9L202 144.8L200 145.2L198 145.5L196 145.1L194 145.7L192 145.1L190 145.8L188 144.9L186 145.4L184 145.4L182 145.5L180 144.8L178 144.9L176 145.1L174 145L172 145.2L170 145L168 144.8L166 144.7L164 145.3L162 144.7L160 144.5L158 144.7L156 144.9L154 145.1L152 144.5ZM152 226.1L154 226.9L156 227L158 227L160 227.1L162 226.9L164 226.8L166 227.6L168 227.5L170 227.7L172 228.3L174 228L176 228.6L178 228.2L180 228.8L182 229.1L184 228.6L186 228.7L188 229.3L190 229L192 229.4L194 229.5L196 229.2L198 229.2L200 230L202 229.7L204 230.4L206 230.2L208 229.6L210 230.2L212 230.5L214 230.3L216 230.6L218 229.8L220 229.9L222 230.3L224 230L226 230.7L228 230.6L230 231L232 230.8L234 231.4L236 230.8L238 231.4L240 231.2L242 232L244 231.8L246 232.3L248 232.5L250 233L252 233L254 232.9L256 232.6L258 232.6L260 232.7L262 233.7L264 232.9L266 232.6L268 233.1L270 232.4L272 232.6L274 231.7L276 232.2L278 231.8L280 231.5L282 231L284 232L286 231.1L288 231.3L290 232.1L292 232.2L294 231.5L296 231.7L298 232.1L300 231.4L302 231.4L304 231.7L306 232L308 230.9L310 231.4L312 230.8L314 230.2L316 230.2L318 230L320 229.5L322 228.9L324 228.1L326 227.1L328 227.3L330 227.1L332 227L334 227.3L336 227.4L338 227.8L340 228L342 228.8L344 228.5L346 229L348 230L350 230.3L352 231.5L354 231.7L356 232L358 232.1L360 231.9L362 232L364 231.4L366 232.1L368 231.4L370 231.7L372 231.2L374 231L376 231.1L378 231.4L380 231.2L382 231.1L384 230.2L386 230.8L388 230.6L390 230.3L392 230.9L394 230.5L396 230.6L398 230.5L400 230.7L402 230.4L404 230.3L406 230.5L408 230.8L410 231L412 231.2L414 231.8L416 231.6L418 231.6L420 232.3L422 232.5L424 232.1L426 232.3L428 232.2L430 232.2L432 232.6L434 232.9L436 231.7L438 230.8L440 229.7L442 229.2L444 228.4L446 226.9L448 226.3L450 226.9L452 227.3L454 227.9L456 227.9L458 228.3L460 228.3L462 228L464 227.6L466 227.6L468 227.7L470 227.6L472 227.3L474 227.7L476 227.7L478 227.1L480 227.4L482 227L484 227L486 226.9L488 227.3L490 227L492 227.2L494 227L496 227.3L498 227.6L500 227.3L502 227.2L504 228L506 228.2L508 229L510 229.9L512 229.9L514 230.9L516 231.1L518 231.6L520 231.9L522 231.9L524 231.8L526 231.3L528 231.4L530 231.1L532 230.7L534 230.7L536 230.5L538 231L540 230.7L542 231L544 231.3L546 231.4L548 230.8L550 229.6L552 229L554 228.5L556 228.8L558 228.4L560 228.1L562 228L564 227.7L566 227.4L568 227.1L570 227L572 227.1L574 227.2L576 227.3L578 227.5L580 227.6L582 227.9L584 228.1L586 227.9L588 228.1L590 228.2L592 228.5L594 228.8L596 229.1L598 229.3L600 229.4L602 229.4L604 229.5L606 230.1L608 230.2L610 230.4L612 230.2L614 230.4L616 230.5L618 230.2L620 230.3L622 229.9L624 229.6L626 228.9L628 228.8L630 228.3L632 227.9L634 227.3L636 227.2L638 226.6L640 226.5L642 226.5L644 226.4L646 226.5L648 226.9L650 227L652 227.2L654 227.3L656 227.3L658 227.9L660 228.3L662 228.2L664 228.6L666 228.9L668 228.9L670 229.1L672 229L674 228.9L676 229.1L678 229.1L680 229.5L682 230L684 230.9L686 231.5L688 231.9L690 232.2L692 231.6L694 230.8L696 230.2L698 229.7L700 228.5L702 227.4L704 226L706 224.9L708 225.4L710 226.7L712 227.7L714 228.4L716 229.4L718 230.5L720 231.5L722 232.5L724 232.9L726 232L728 230.7L730 229.7L732 230.7L734 230.4L736 230.2L738 229.7L740 229.1L742 229L744 228.5L746 228L748 227.7L750 227.3L752 227.3L754 226.9L756 226.8L758 226.5L760 226.4L762 226.1L764 226.1L766 225.9L768 225.8L770 226.1L772 226.4L774 226.8L776 227L778 227.1L780 227.5L782 226.9L784 226.1L786 225.3L788 224.8L790 224.1L792 224.4L794 224.9L796 225.5L798 226L800 226.5L802 227.4L804 228L806 228.9L808 229.7L810 229.5L812 228.7L814 227.7L816 226.8L818 228.4L820 230L822 230.3L824 229.2L826 227.8L828 226.8L830 227.3L832 227.7L834 228.2L836 228.7L838 229.3L840 228.6L842 227.7L844 226.9L846 225.9L848 225.1L850 225.8L852 227.1L854 228.3L856 229.3L858 229.6L860 230L862 230.3L864 230.9L866 231.2L868 231.9L870 232.5L872 233L874 232.8L876 232.3L878 231.8L880 231.3L882 230.8L884 230.2L886 229.5L888 228.8L890 228.2L892 227.5L894 227.4L896 227.9L898 228.4L900 228.9L902 229.5L904 230.1L906 230.7L908 231.4L910 232L912 232.6L914 232.9L916 231.7L918 230.4L920 229.2L922 228.9L924 228.9L926 228.9L927 228.9L927 228.9L926 228.9L924 228.9L922 228.9L920 229.2L918 230.4L916 231.7L914 232.9L912 232.6L910 232L908 231.4L906 230.7L904 230.1L902 229.5L900 228.9L898 228.4L896 227.9L894 227.4L892 227.5L890 228.2L888 228.8L886 229.5L884 230.2L882 230.8L880 231.3L878 231.8L876 232.3L874 232.8L872 233L870 232.5L868 232.1L866 231.8L864 231.5L862 231.2L860 231L858 230.5L856 230.2L854 229.3L852 228.1L850 226.8L848 226.2L846 227.1L844 227.8L842 228.5L840 229.3L838 230L836 229.7L834 229.2L832 228.8L830 228.2L828 227.6L826 228.8L824 230L822 231.3L820 231L818 229.2L816 227.8L814 228.6L812 229.6L810 230.6L808 230.6L806 229.7L804 229.1L802 228.1L800 227.4L798 226.9L796 226.4L794 225.9L792 225.6L790 225.3L788 225.8L786 226.5L784 227.2L782 227.7L780 228.6L778 228.4L776 228.1L774 227.7L772 227.6L770 227.2L768 227.1L766 227L764 227L762 227.2L760 227.6L758 227.8L756 227.9L754 228.2L752 228.4L750 228.4L748 228.7L746 229.2L744 229.7L742 229.8L740 230.6L738 230.8L736 231.2L734 231.6L732 232.1L730 231.2L728 232.3L726 233L724 234.1L722 233.9L720 232.9L718 232L716 230.9L714 230.1L712 229.1L710 228.1L708 226.9L706 226.4L704 227.7L702 228.8L700 229.7L698 231.2L696 231.6L694 232.6L692 232.9L690 233.8L688 233.7L686 232.7L684 232.2L682 231.6L680 231L678 230.6L676 230.5L674 230.4L672 230.4L670 230.7L668 230.6L666 230.6L664 230.2L662 230.1L660 229.6L658 229.1L656 228.8L654 228.5L652 228.7L650 228.5L648 228.3L646 228.3L644 228L642 228L640 227.9L638 228.3L636 228.7L634 229L632 229.6L630 229.6L628 230.4L626 230.5L624 231.1L622 231.5L620 231.6L618 232L616 232.1L614 232.3L612 231.8L610 232L608 231.7L606 231.5L604 231.6L602 231.1L600 231.2L598 230.9L596 230.7L594 230.4L592 230.1L590 229.9L588 229.7L586 229.7L584 229.5L582 229.3L580 229.2L578 229.5L576 229.3L574 229.2L572 229L570 228.8L568 229L566 229.1L564 229.3L562 229.4L560 229.7L558 230.1L556 230.3L554 230.3L552 230.5L550 231.2L548 232.1L546 233L544 233.3L542 232.6L540 232.6L538 232.9L536 232.3L534 232.3L532 232.5L530 232.8L528 232.8L526 233.3L524 233.8L522 233.9L520 234.3L518 233.4L516 233.3L514 232.3L512 232.1L510 231.3L508 231L506 230.2L504 230.1L502 229.5L500 229.5L498 229.3L496 229.5L494 229L492 229.2L490 229.1L488 229.1L486 229L484 229.1L482 229.3L480 229.2L478 229.6L476 229.5L474 229.4L472 229.5L470 229.6L468 229.5L466 229.9L464 229.5L462 229.7L460 229.9L458 230.4L456 229.8L454 229.8L452 229.3L450 228.6L448 228.5L446 228.9L444 230.1L442 231.1L440 231.8L438 232.7L436 233.6L434 234.5L432 234.7L430 234.3L428 234.4L426 234.5L424 234L422 234.1L420 234.2L418 234.1L416 233.4L414 233.7L412 233.3L410 233L408 232.6L406 232.6L404 232.5L402 232.6L400 232.6L398 232.5L396 232.8L394 232.8L392 233.1L390 232.8L388 233.5L386 233.7L384 233.3L382 234L380 233.4L378 234.2L376 234.1L374 234.4L372 234.7L370 234.3L368 234.4L366 234.9L364 234.3L362 234.6L360 235L358 234.1L356 234.6L354 234.5L352 234.9L350 235.2L348 234.1L346 234.1L344 233.1L342 232.8L340 232.5L338 232.1L336 232.4L334 232.2L332 231.9L330 232.3L328 232.4L326 232.1L324 233.1L322 233.4L320 233.8L318 234.1L316 234.9L314 235L312 235.8L310 235.8L308 236L306 236.1L304 236.8L302 236.5L300 236.4L298 237L296 236.5L294 236.7L292 236.6L290 236.8L288 237L286 236.5L284 236.1L282 236.9L280 236.8L278 236.8L276 237.5L274 237.1L272 237.2L270 237.7L268 238.1L266 237.7L264 238.5L262 237.7L260 238.4L258 238L256 238.4L254 237.6L252 237.6L250 238.2L248 238.2L246 237.4L244 237.4L242 237L240 236.5L238 236.2L236 235.7L234 235.4L232 235.4L230 235.8L228 235.6L226 235.3L224 235.2L222 234.7L220 235.1L218 234.9L216 235.3L214 235.4L212 235.1L210 234.7L208 234.5L206 234.3L204 234.6L202 234.4L200 234.1L198 234.6L196 233.7L194 234.3L192 233.9L190 233.6L188 233.9L186 233.3L184 233.4L182 233.1L180 232.9L178 232.5L176 232.1L174 232.2L172 232L170 231.6L168 231.3L166 231.1L164 231.8L162 231.1L160 231L158 230.7L156 230.9L154 231.2L152 231ZM152 282.3L154 281.6L156 281.7L158 282.3L160 282L162 282.2L164 283.2L166 282.4L168 282.7L170 283L172 283.2L174 283.5L176 283.9L178 283.8L180 284.3L182 284.1L184 285L186 285L188 285L190 285.4L192 284.7L194 284.8L196 285.4L198 286L200 285.3L202 285.5L204 285.6L206 285.5L208 285.5L210 286.2L212 286L214 286.1L216 286.4L218 285.6L220 286.3L222 286.4L224 285.7L226 285.7L228 285.8L230 285.8L232 286.3L234 286.6L236 286.5L238 286.5L240 287.1L242 287L244 287.9L246 288L248 288L250 288.1L252 288.3L254 288.3L256 288.7L258 289L260 289.5L262 289.7L264 288.4L266 288.4L268 287.8L270 288.2L272 288.1L274 287.6L276 286.9L278 286.8L280 286.9L282 286.5L284 287.1L286 286.8L288 287.3L290 287.1L292 287.4L294 287.5L296 287L298 287.6L300 286.6L302 287.2L304 286.9L306 286.5L308 286.3L310 286.3L312 285.2L314 285.6L316 285.5L318 284.6L320 284.8L322 284.2L324 284.2L326 283.9L328 284.3L330 283.9L332 284L334 283.4L336 283.7L338 283.2L340 283.7L342 283.7L344 283.6L346 284.2L348 285.7L350 286.5L352 287.9L354 287.5L356 287.1L358 287.7L360 287.2L362 286.9L364 287L366 287.1L368 287.1L370 286.8L372 286.3L374 286.7L376 286.3L378 286.5L380 285.8L382 286.3L384 285.8L386 286.2L388 285.3L390 285.6L392 285.8L394 285.4L396 285.5L398 285.3L400 285.8L402 285.5L404 285.1L406 286.1L408 286.2L410 286.4L412 286.5L414 286.7L416 287.3L418 287.2L420 287.2L422 287.6L424 287.3L426 287.6L428 287.9L430 287.4L432 287.5L434 286.9L436 285.9L438 284.8L440 284L442 283.8L444 284L446 283.4L448 284L450 283.8L452 282.9L454 283.4L456 282.9L458 283.1L460 283.2L462 283L464 283.4L466 283.6L468 282.9L470 283L472 282.9L474 283L476 282.5L478 283L480 282.4L482 282L484 282.7L486 281.8L488 281.8L490 282.3L492 282.3L494 282.6L496 282.9L498 283.4L500 283.1L502 284L504 283.9L506 284.7L508 285.2L510 285.2L512 285.9L514 285.6L516 285.7L518 286L520 286.5L522 287L524 287.1L526 286.2L528 286.7L530 286.7L532 286L534 285.8L536 286.3L538 286.9L540 287.1L542 286.2L544 285.7L546 285.6L548 284.9L550 284.5L552 283.4L554 283.1L556 283.2L558 283L560 282.5L562 281.4L564 281.1L566 281.3L568 280L570 280.5L572 280L574 279.5L576 280.2L578 280.2L580 280L582 280.4L584 280.2L586 280.2L588 280.3L590 281.1L592 280.6L594 281.4L596 281.8L598 281.6L600 282.1L602 281.7L604 282.5L606 281.8L608 282.6L610 282.6L612 282.6L614 282.2L616 282.8L618 283.5L620 283.6L622 283.8L624 283.9L626 283.4L628 283.3L630 284.3L632 284.5L634 283.8L636 285L638 285L640 285.1L642 285.7L644 286.2L646 286.1L648 285.5L650 285.4L652 285.7L654 285.3L656 284.9L658 285L660 284.7L662 284.8L664 284.9L666 284.6L668 284.4L670 284.3L672 284.5L674 285L676 285.7L678 286L680 286.4L682 286.8L684 287.1L686 287.3L688 287.8L690 287.9L692 287.9L694 287.4L696 286.8L698 286.2L700 286L702 285.4L704 284.9L706 284.4L708 284.3L710 283.7L712 283.8L714 284.1L716 285.2L718 285.8L720 287L722 288.2L724 289L726 288.2L728 288.1L730 287.8L732 286.9L734 287.3L736 287.1L738 287.2L740 287L742 287L744 286.8L746 286.5L748 285.6L750 285.4L752 284.5L754 284.1L756 283.9L758 283.4L760 282.9L762 282.4L764 282.6L766 283L768 283.8L770 284.2L772 284.3L774 283.4L776 283L778 282L780 281.1L782 279.9L784 279L786 277.6L788 276.6L790 275.5L792 277.4L794 279.4L796 281.8L798 283.4L800 284.5L802 286.1L804 287.4L806 285.9L808 284.9L810 283.4L812 282.4L814 282.1L816 282.7L818 282.9L820 283.3L822 283.6L824 283.8L826 284.3L828 284.5L830 285.1L832 285.5L834 286L836 285.8L838 285.3L840 284.4L842 284L844 283.2L846 283.4L848 283.7L850 284.1L852 284.4L854 285L856 285.3L858 285.9L860 285.9L862 286.1L864 286.3L866 287L868 288.9L870 291.1L872 293.1L874 292.5L876 290.8L878 289L880 287.2L882 285.8L884 285.1L886 284.2L888 283.4L890 283L892 284.5L894 286L896 287.5L898 288.3L900 288.8L902 289.3L904 289.8L906 290.3L908 289.6L910 288.1L912 286.6L914 285.5L916 285.9L918 286.3L920 286.7L922 287.1L924 287.5L926 287.9L927 288L927 288L926 287.9L924 287.5L922 287.1L920 286.7L918 286.3L916 285.9L914 285.5L912 286.7L910 288.2L908 289.7L906 290.4L904 289.9L902 289.4L900 288.9L898 288.4L896 287.6L894 286.1L892 284.6L890 283.1L888 283.6L886 284.4L884 285.2L882 286L880 287.3L878 289.1L876 291L874 292.7L872 293.7L870 291.9L868 289.8L866 288.3L864 287.5L862 287.8L860 287.2L858 287.4L856 287.3L854 286.6L852 286.3L850 285.9L848 285.4L846 284.6L844 284.8L842 285.5L840 286.4L838 286.8L836 287.3L834 287.4L832 287.1L830 286.9L828 286.4L826 285.8L824 285.1L822 285L820 284.4L818 284.2L816 284.2L814 283.8L812 284.1L810 285.4L808 286.6L806 287.7L804 288.7L802 287.6L800 286L798 284.8L796 283.3L794 281.1L792 278.9L790 276.7L788 277.9L786 279L784 280.5L782 281.6L780 283L778 283.6L776 284.3L774 285.3L772 286L770 285.8L768 285.3L766 284.4L764 283.8L762 283.7L760 284.2L758 285L756 285.2L754 286L752 286.2L750 287.1L748 287.3L746 287.8L744 288.4L742 288.8L740 288.9L738 288.8L736 289L734 288.8L732 289L730 289.7L728 290.1L726 290.4L724 290.6L722 290.1L720 289L718 287.7L716 286.8L714 285.8L712 285.3L710 285.6L708 286.2L706 286.5L704 287L702 287.7L700 287.9L698 288.7L696 289.3L694 289.4L692 289.8L690 289.5L688 289.5L686 289.4L684 289.1L682 288.8L680 288.3L678 288L676 287.5L674 287.1L672 286.5L670 286.4L668 286.5L666 286.7L664 287.2L662 287.3L660 287.2L658 287.5L656 287.3L654 288L652 288.4L650 288.4L648 289.3L646 289.6L644 289.6L642 289.3L640 290.1L638 289.9L636 290.2L634 289.7L632 290.3L630 290.9L628 291L626 292.1L624 292.4L622 292.8L620 292.9L618 293.2L616 293.4L614 293.6L612 293.2L610 293.8L608 293.7L606 294.1L604 294.1L602 293.6L600 293.3L598 293.2L596 293L594 293L592 292.9L590 292.3L588 292.3L586 292.3L584 291.5L582 292L580 291.5L578 292.1L576 291.3L574 291.7L572 291L570 291.1L568 290.5L566 290.3L564 290.3L562 290.7L560 290.4L558 290.2L556 291L554 291.1L552 290.7L550 290.8L548 291.6L546 291.2L544 292.1L542 292L540 292.2L538 291.8L536 290.8L534 290.5L532 290.2L530 290.1L528 291.1L526 291L524 291.3L522 291L520 291.3L518 290.4L516 290.4L514 290.2L512 289.6L510 289.6L508 289.1L506 288.5L504 288.5L502 288.1L500 287.8L498 287.4L496 286.9L494 286.8L492 286.5L490 286.6L488 285.9L486 286.4L484 286.2L482 286.7L480 287.2L478 287.2L476 286.8L474 287L472 287.1L470 287.2L468 287.5L466 287.2L464 287.8L462 287.1L460 288.1L458 287.7L456 288.1L454 287.4L452 287.6L450 288L448 287.9L446 287.8L444 288.1L442 288.1L440 288.9L438 289.7L436 290L434 291.2L432 291.4L430 292.1L428 291.4L426 291.6L424 291.5L422 291.4L420 291.6L418 291.4L416 292L414 291.9L412 291.8L410 291.5L408 291.8L406 291.3L404 291.5L402 291.7L400 291.5L398 291.4L396 291.6L394 291.6L392 291.9L390 292.3L388 292.2L386 292.7L384 293L382 293.4L380 293.6L378 293L376 293.1L374 293.8L372 293.7L370 294L368 293.9L366 294.3L364 294.8L362 294.4L360 294.4L358 295.3L356 294.7L354 294.9L352 294.9L350 294.3L348 293.2L346 292.4L344 292L342 291.1L340 290.9L338 290.5L336 290.8L334 291.3L332 291.6L330 291.8L328 292L326 292.1L324 292L322 291.8L320 291.9L318 292.2L316 293.2L314 293L312 292.8L310 293.5L308 293.9L306 294.5L304 294.4L302 294.2L300 294.9L298 295L296 294.8L294 294.8L292 294.8L290 294.8L288 294.8L286 294.3L284 294.4L282 294.5L280 294.9L278 295.2L276 294.8L274 295.4L272 294.8L270 295.8L268 296.3L266 296.3L264 296.3L262 296.7L260 296.6L258 296.7L256 297.1L254 296.7L252 296.6L250 296.3L248 296.1L246 295.2L244 295.6L242 295.2L240 294.4L238 293.8L236 294.3L234 293.4L232 293.9L230 293.8L228 294L226 294L224 293.9L222 293.1L220 293.3L218 294L216 293.2L214 293.8L212 293.8L210 293.2L208 293.2L206 293.5L204 293.2L202 293.2L200 293.3L198 293.3L196 293.3L194 293L192 293.1L190 292.7L188 292.5L186 291.7L184 292L182 291.7L180 291.3L178 290.9L176 291.4L174 291L172 290.4L170 290.3L168 290.1L166 290.3L164 290.3L162 289.7L160 289.2L158 289.8L156 289.3L154 288.7L152 289ZM152 326.2L154 326.1L156 326.7L158 326.2L160 327.2L162 327.2L164 326.8L166 326.9L168 327.5L170 327.8L172 328L174 327.9L176 328.3L178 328.4L180 328.4L182 328.5L184 328.7L186 328.6L188 329L190 329.4L192 329.2L194 328.7L196 329L198 329.5L200 329L202 329.4L204 329.4L206 329.6L208 329.3L210 329.9L212 329.6L214 329.9L216 330.3L218 330.3L220 330.2L222 329.6L224 329.5L226 328.8L228 328.8L230 328.3L232 328.2L234 328.2L236 328.7L238 329.5L240 330.4L242 331L244 331.7L246 332.4L248 332.6L250 333.2L252 333.6L254 334.3L256 333.5L258 333.9L260 333.5L262 332.7L264 332.8L266 332.1L268 332.7L270 332.1L272 332L274 331.1L276 331.2L278 331L280 330.3L282 331L284 330.5L286 330.9L288 331L290 331.2L292 331.2L294 331.4L296 330.8L298 330.9L300 330.4L302 331L304 330.4L306 330.3L308 330.3L310 330.3L312 330.3L314 329.9L316 329.4L318 329L320 328.7L322 329.5L324 329.3L326 329.2L328 329L330 329L332 329.2L334 329.4L336 329.4L338 329.6L340 329.4L342 329.7L344 330.1L346 329.9L348 330.7L350 330.5L352 331.2L354 331L356 331.1L358 331.5L360 331.4L362 331.5L364 331.8L366 331.8L368 332.2L370 331.9L372 331.5L374 332L376 331.6L378 331.7L380 331.6L382 330.9L384 331.4L386 331.2L388 330.7L390 330.5L392 330.4L394 329.9L396 329.7L398 329.6L400 329.3L402 329.2L404 329.1L406 329.5L408 329.5L410 329.2L412 329.3L414 329.9L416 329.6L418 330L420 329.7L422 330.4L424 330.8L426 331.2L428 330.8L430 330.2L432 329.3L434 328.9L436 328L438 327.6L440 327.3L442 327.6L444 327.7L446 327.7L448 327.5L450 327.6L452 327.8L454 327.9L456 328L458 327.4L460 327.6L462 327.3L464 327.4L466 327.7L468 327.3L470 327.6L472 327.2L474 327L476 326.9L478 326.8L480 326.5L482 326.4L484 326.1L486 325.7L488 324.9L490 325.4L492 326.2L494 327.1L496 327.5L498 328.6L500 329.2L502 329.4L504 329.7L506 330.1L508 330.4L510 330.5L512 330.8L514 330.8L516 330.6L518 329.9L520 329.9L522 329.2L524 329.1L526 329.7L528 330.1L530 330.1L532 330.7L534 330.9L536 330.9L538 331.1L540 331.3L542 331.1L544 331.1L546 331L548 331.7L550 331.5L552 331.7L554 331.6L556 331.5L558 331.5L560 331.3L562 331.4L564 331.4L566 331.3L568 331.1L570 330.9L572 330.7L574 330.5L576 330.4L578 330.1L580 329.7L582 329.4L584 329.3L586 329.4L588 329.1L590 329.5L592 329.2L594 329.1L596 329.4L598 329.4L600 329.3L602 329.1L604 329.4L606 329.3L608 329.2L610 329.5L612 329.5L614 329.2L616 329.5L618 329.4L620 329.3L622 329.6L624 330.1L626 330.6L628 331.2L630 331.8L632 331.5L634 331.2L636 331.1L638 330.7L640 330.2L642 329.8L644 329.6L646 329.8L648 329.3L650 329.3L652 329L654 328.6L656 328.2L658 327.7L660 327.1L662 326.9L664 327.4L666 327.5L668 328.3L670 328.7L672 329.1L674 329.4L676 329.5L678 329.4L680 329.8L682 329.8L684 329.7L686 329.8L688 330.1L690 329.9L692 329.2L694 328.9L696 328.6L698 328.1L700 327.6L702 327.4L704 327.4L706 327.3L708 327.2L710 327.1L712 327L714 326.9L716 327.8L718 328.3L720 329.1L722 329.8L724 329.9L726 329.9L728 329.9L730 329.5L732 330.1L734 329.7L736 329.3L738 329.2L740 328.8L742 328.4L744 327.9L746 327.3L748 327L750 326.6L752 326.2L754 326.1L756 325.4L758 325L760 325L762 324.5L764 324.9L766 325.9L768 327L770 327.7L772 329L774 328.8L776 327.6L778 326L780 324.8L782 323.5L784 322.7L786 323.2L788 323.7L790 324.4L792 325.6L794 327.1L796 328.7L798 330.1L800 331.7L802 330.8L804 329.5L806 328L808 326.8L810 326.6L812 326.5L814 326.2L816 326.1L818 325.9L820 326.6L822 326.7L824 327.1L826 327.3L828 327.7L830 327.9L832 327.8L834 327.8L836 327.7L838 327.7L840 327.7L842 327.8L844 328.4L846 329.3L848 330L850 330.6L852 331.3L854 330L856 328.7L858 327.6L860 327.4L862 328.2L864 329.2L866 330.3L868 331.2L870 332.1L872 333.1L874 331.7L876 329.3L878 327.5L880 327.9L882 328.3L884 328.7L886 329.1L888 329.3L890 329.4L892 329.6L894 329.8L896 329.9L898 330.7L900 331.7L902 332.7L904 332.8L906 330.8L908 328.8L910 328.5L912 328.7L914 329L916 329.3L918 329.6L920 329.9L922 330.2L924 330.5L926 330.7L927 330.8L927 330.8L926 330.7L924 330.5L922 330.2L920 329.9L918 329.6L916 329.3L914 329L912 328.7L910 328.5L908 328.8L906 330.8L904 332.8L902 332.7L900 331.7L898 330.7L896 329.9L894 329.8L892 329.6L890 329.4L888 329.3L886 329.1L884 328.7L882 328.3L880 327.9L878 327.5L876 329.3L874 331.7L872 333.2L870 332.4L868 331.8L866 330.8L864 330.1L862 329.1L860 328.5L858 328.4L856 329.6L854 330.7L852 332.2L850 331.3L848 330.8L846 330.2L844 329.4L842 328.9L840 328.7L838 328.6L836 328.8L834 328.8L832 328.8L830 328.9L828 328.7L826 328.3L824 327.9L822 327.8L820 327.5L818 327L816 327.3L814 327.3L812 327.6L810 327.6L808 327.9L806 328.9L804 330.4L802 331.9L800 332.8L798 331.2L796 329.7L794 328L792 326.5L790 325.4L788 324.7L786 324.4L784 323.6L782 324.7L780 325.9L778 327.2L776 328.6L774 330.1L772 330L770 328.8L768 328L766 326.8L764 326L762 325.5L760 325.8L758 326.3L756 326.6L754 327.2L752 327.3L750 327.9L748 328.1L746 328.7L744 329.2L742 329.6L740 329.9L738 330.1L736 330.6L734 330.9L732 331.4L730 330.9L728 331.2L726 331.3L724 331.4L722 331.1L720 330.5L718 329.6L716 329.1L714 328.6L712 328.2L710 328.1L708 328.3L706 328.4L704 328.5L702 328.9L700 328.8L698 329.2L696 329.8L694 330.3L692 330.8L690 331.3L688 331.3L686 331.6L684 331.5L682 331.1L680 331L678 331L676 330.7L674 331L672 330.7L670 330.2L668 329.8L666 329.1L664 329L662 328.3L660 328.8L658 329.2L656 329.8L654 330.2L652 330.5L650 330.7L648 331.3L646 331.4L644 331.2L642 331.8L640 331.9L638 332L636 332.5L634 332.9L632 333L630 333L628 332.7L626 332.1L624 331.4L622 330.8L620 330.5L618 330.6L616 330.8L614 330.9L612 330.5L610 330.8L608 330.6L606 330.8L604 330.9L602 330.9L600 330.5L598 330.6L596 330.8L594 330.5L592 330.9L590 330.8L588 330.7L586 330.7L584 330.8L582 331.3L580 331.4L578 331.5L576 331.6L574 332L572 332.1L570 332.4L568 332.5L566 332.4L564 332.6L562 332.9L560 332.7L558 333.2L556 333.2L554 333.1L552 333L550 333L548 333L546 333L544 332.5L542 332.7L540 332.6L538 332.5L536 332.5L534 332.3L532 332.2L530 331.7L528 331.4L526 331.2L524 330.7L522 331.1L520 331.3L518 331.7L516 331.8L514 332.6L512 332.5L510 332L508 331.6L506 331.4L504 331.1L502 331.2L500 331.1L498 330.2L496 329.6L494 328.8L492 327.7L490 326.8L488 326.8L486 327.2L484 328.1L482 328.2L480 328.2L478 328.8L476 328.7L474 328.9L472 329L470 329.2L468 329.1L466 329.3L464 329.2L462 329.1L460 329.5L458 329.4L456 329.2L454 329.3L452 329.3L450 329.1L448 329.1L446 329L444 329L442 329.4L440 329.1L438 329.3L436 330L434 330.7L432 331.1L430 332L428 332.6L426 332.9L424 332.4L422 332.2L420 331.9L418 331.6L416 331.2L414 331.4L412 331.4L410 331L408 330.9L406 331L404 331.1L402 331.1L400 331.4L398 331.7L396 331.8L394 332L392 332.4L390 333L388 332.6L386 332.9L384 333.3L382 333.7L380 333.8L378 333.9L376 333.9L374 333.5L372 334.2L370 334.1L368 334.1L366 333.8L364 333.7L362 333.7L360 334.1L358 333.7L356 334.2L354 333.9L352 334.4L350 334.3L348 334L346 333.1L344 333.2L342 332.8L340 332.7L338 332.5L336 332.7L334 332.1L332 332.1L330 332.9L328 332.4L326 332.3L324 332.2L322 332.1L320 332L318 332.4L316 332.1L314 333L312 333.1L310 333.8L308 333.9L306 334.6L304 334.8L302 334.5L300 334.5L298 334.8L296 335.3L294 335.7L292 335.1L290 335.1L288 335.2L286 335.1L284 335.1L282 335L280 334.3L278 334.3L276 335L274 335.6L272 336.1L270 335.7L268 336.2L266 336.7L264 336.5L262 337.3L260 337.5L258 337.9L256 337.8L254 338.1L252 337.1L250 336.9L248 337.3L246 336.6L244 336.5L242 335.2L240 334.5L238 334.1L236 333.2L234 332.5L232 331.9L230 332.8L228 332.8L226 333.6L224 333.3L222 333.7L220 334.5L218 333.6L216 333.9L214 333.5L212 333.7L210 333.5L208 333.9L206 333.9L204 334.1L202 333.5L200 333.6L198 333.8L196 333.6L194 333.5L192 333L190 333.4L188 333L186 332.8L184 333L182 332.2L180 332L178 332.4L176 331.9L174 332.2L172 331.7L170 331.6L168 332L166 331.8L164 331.2L162 331.6L160 331.1L158 330.7L156 330.8L154 330.1L152 330.5Z" fill="#d4d4d4" filter="url(#bd)"/>
<path d="M640 144.8H927" stroke="#606060" stroke-width="0.9" fill="none"/>
<path d="M850 108.8L870 109.5 897 108.8" stroke="#111111" stroke-width="1.1" fill="none"/>
<path d="M841.7 342.8L855 346 869 348.8 903 348.8 915 352 926.5 357.4" stroke="#121212" stroke-width="1.1" fill="none"/>
<path d="M793.7 136V127.5M793 225.5V214M790.6 277.5V268.5" stroke="#373737" stroke-width="2.2" fill="none" filter="url(#bd)"/>
</g>
</defs>
<g clip-path="url(#c1)"><use href="#imap" filter="url(#jetf)"/></g>
<path d="M152 72.4H927" stroke="#14144c" stroke-width="1.2"/>
<rect x="152.5" y="486.5" width="774.1" height="287.9" fill="none" stroke="#262626" stroke-width="1.3"/>
<path d="M247.2 486.5v7.5M247.2 774.4v-7.5" stroke="#262626" stroke-width="1.4"/>
<path d="M344.3 486.5v7.5M344.3 774.4v-7.5" stroke="#262626" stroke-width="1.4"/>
<path d="M441.4 486.5v7.5M441.4 774.4v-7.5" stroke="#262626" stroke-width="1.4"/>
<path d="M538.5 486.5v7.5M538.5 774.4v-7.5" stroke="#262626" stroke-width="1.4"/>
<path d="M635.6 486.5v7.5M635.6 774.4v-7.5" stroke="#262626" stroke-width="1.4"/>
<path d="M732.7 486.5v7.5M732.7 774.4v-7.5" stroke="#262626" stroke-width="1.4"/>
<path d="M829.8 486.5v7.5M829.8 774.4v-7.5" stroke="#262626" stroke-width="1.4"/>
<path d="M152.5 510.4h7.5M926.6 510.4h-7.5" stroke="#262626" stroke-width="1.4"/>
<path d="M152.5 567.8h7.5M926.6 567.8h-7.5" stroke="#262626" stroke-width="1.4"/>
<path d="M152.5 625.2h7.5M926.6 625.2h-7.5" stroke="#262626" stroke-width="1.4"/>
<path d="M152.5 682.6h7.5M926.6 682.6h-7.5" stroke="#262626" stroke-width="1.4"/>
<path d="M152.5 740.0h7.5M926.6 740.0h-7.5" stroke="#262626" stroke-width="1.4"/>
<g transform="translate(0,414.5)"><g clip-path="url(#c1)"><use href="#imap" filter="url(#dcpf)"/></g></g>
<rect x="957.6" y="72.3" width="43.0" height="287.3" fill="url(#jet)" stroke="#262626" stroke-width="1"/>
<rect x="957.6" y="487.2" width="43.0" height="287.2" fill="url(#jet)" stroke="#262626" stroke-width="1"/>
<path d="M1000.6 141.2h-3" stroke="#262626" stroke-width="1.2"/>
<path d="M1000.6 209.5h-3" stroke="#262626" stroke-width="1.2"/>
<path d="M1000.6 278.4h-3" stroke="#262626" stroke-width="1.2"/>
<path d="M1000.6 347h-3" stroke="#262626" stroke-width="1.2"/>
<path d="M1000.6 550.7h-3" stroke="#262626" stroke-width="1.2"/>
<path d="M1000.6 631.2h-3" stroke="#262626" stroke-width="1.2"/>
<path d="M1000.6 711.6h-3" stroke="#262626" stroke-width="1.2"/>
<text transform="translate(144.0,106.4) scale(1,1.055)" font-size="24.5" fill="#262626" text-anchor="end">10</text>
<text transform="translate(144.0,163.8) scale(1,1.055)" font-size="24.5" fill="#262626" text-anchor="end">5</text>
<text transform="translate(144.0,221.2) scale(1,1.055)" font-size="24.5" fill="#262626" text-anchor="end">0</text>
<text transform="translate(144.0,278.6) scale(1,1.055)" font-size="24.5" fill="#262626" text-anchor="end">-5</text>
<text transform="translate(144.0,336.0) scale(1,1.055)" font-size="24.5" fill="#262626" text-anchor="end">-10</text>
<text transform="translate(144.0,520.0) scale(1,1.055)" font-size="24.5" fill="#262626" text-anchor="end">10</text>
<text transform="translate(144.0,577.4) scale(1,1.055)" font-size="24.5" fill="#262626" text-anchor="end">5</text>
<text transform="translate(144.0,634.8) scale(1,1.055)" font-size="24.5" fill="#262626" text-anchor="end">0</text>
<text transform="translate(144.0,692.2) scale(1,1.055)" font-size="24.5" fill="#262626" text-anchor="end">-5</text>
<text transform="translate(144.0,749.6) scale(1,1.055)" font-size="24.5" fill="#262626" text-anchor="end">-10</text>
<text transform="translate(247.2,394.6) scale(1,1.055)" font-size="24.5" fill="#262626" text-anchor="middle">1</text>
<text transform="translate(247.2,808.6) scale(1,1.055)" font-size="24.5" fill="#262626" text-anchor="middle">1</text>
<text transform="translate(344.3,394.6) scale(1,1.055)" font-size="24.5" fill="#262626" text-anchor="middle">2</text>
<text transform="translate(344.3,808.6) scale(1,1.055)" font-size="24.5" fill="#262626" text-anchor="middle">2</text>
<text transform="translate(441.4,394.6) scale(1,1.055)" font-size="24.5" fill="#262626" text-anchor="middle">3</text>
<text transform="translate(441.4,808.6) scale(1,1.055)" font-size="24.5" fill="#262626" text-anchor="middle">3</text>
<text transform="translate(538.5,394.6) scale(1,1.055)" font-size="24.5" fill="#262626" text-anchor="middle">4</text>
<text transform="translate(538.5,808.6) scale(1,1.055)" font-size="24.5" fill="#262626" text-anchor="middle">4</text>
<text transform="translate(635.6,394.6) scale(1,1.055)" font-size="24.5" fill="#262626" text-anchor="middle">5</text>
<text transform="translate(635.6,808.6) scale(1,1.055)" font-size="24.5" fill="#262626" text-anchor="middle">5</text>
<text transform="translate(732.7,394.6) scale(1,1.055)" font-size="24.5" fill="#262626" text-anchor="middle">6</text>
<text transform="translate(732.7,808.6) scale(1,1.055)" font-size="24.5" fill="#262626" text-anchor="middle">6</text>
<text transform="translate(829.8,394.6) scale(1,1.055)" font-size="24.5" fill="#262626" text-anchor="middle">7</text>
<text transform="translate(829.8,808.6) scale(1,1.055)" font-size="24.5" fill="#262626" text-anchor="middle">7</text>
<text transform="translate(926.9,394.6) scale(1,1.055)" font-size="24.5" fill="#262626" text-anchor="middle">8</text>
<text transform="translate(926.9,808.6) scale(1,1.055)" font-size="24.5" fill="#262626" text-anchor="middle">8</text>
<text transform="translate(1010.5,82.2) scale(1,1.055)" font-size="24.5" fill="#262626" text-anchor="start" letter-spacing="-0.6">7</text>
<text transform="translate(1010.5,150.4) scale(1,1.055)" font-size="24.5" fill="#262626" text-anchor="start" letter-spacing="-0.6">6.5</text>
<text transform="translate(1010.5,218.7) scale(1,1.055)" font-size="24.5" fill="#262626" text-anchor="start" letter-spacing="-0.6">6</text>
<text transform="translate(1010.5,287.5) scale(1,1.055)" font-size="24.5" fill="#262626" text-anchor="start" letter-spacing="-0.6">5.5</text>
<text transform="translate(1010.5,356.0) scale(1,1.055)" font-size="24.5" fill="#262626" text-anchor="start" letter-spacing="-0.6">5</text>
<text transform="translate(1010.5,560.3) scale(1,1.055)" font-size="24.5" fill="#262626" text-anchor="start" letter-spacing="-0.6">50</text>
<text transform="translate(1010.5,640.5) scale(1,1.055)" font-size="24.5" fill="#262626" text-anchor="start" letter-spacing="-0.6">0</text>
<text transform="translate(1010.5,721.1) scale(1,1.055)" font-size="24.5" fill="#262626" text-anchor="start" letter-spacing="-0.6">-50</text>
<text x="540" y="430" font-size="27.5" fill="#262626" text-anchor="middle">hour of day [UT]</text>
<text x="540" y="844" font-size="27.5" fill="#262626" text-anchor="middle">hour of day [UT]</text>
<text transform="translate(94.3,217.5) rotate(-90) scale(1,0.944)" font-size="27" fill="#262626" text-anchor="middle">frequency [Hz]</text>
<text transform="translate(94.3,632) rotate(-90) scale(1,0.944)" font-size="27" fill="#262626" text-anchor="middle">frequency [Hz]</text>
<text x="183" y="63.8" font-size="27.45" font-weight="bold" fill="#000" xml:space="preserve">a) log(I); f=3.59 MHz;  lat=50.02; long=14.29; 2025 12 19</text>
<text x="170.4" y="477.9" font-size="27.45" font-weight="bold" fill="#000" xml:space="preserve">b) DCP(<tspan font-size="20.6" dy="-12.8">o</tspan><tspan dy="12.8">); f=3.59 MHz;  lat=50.02; long=14.29; 2025 12 19</tspan></text>
</svg></body></html>
